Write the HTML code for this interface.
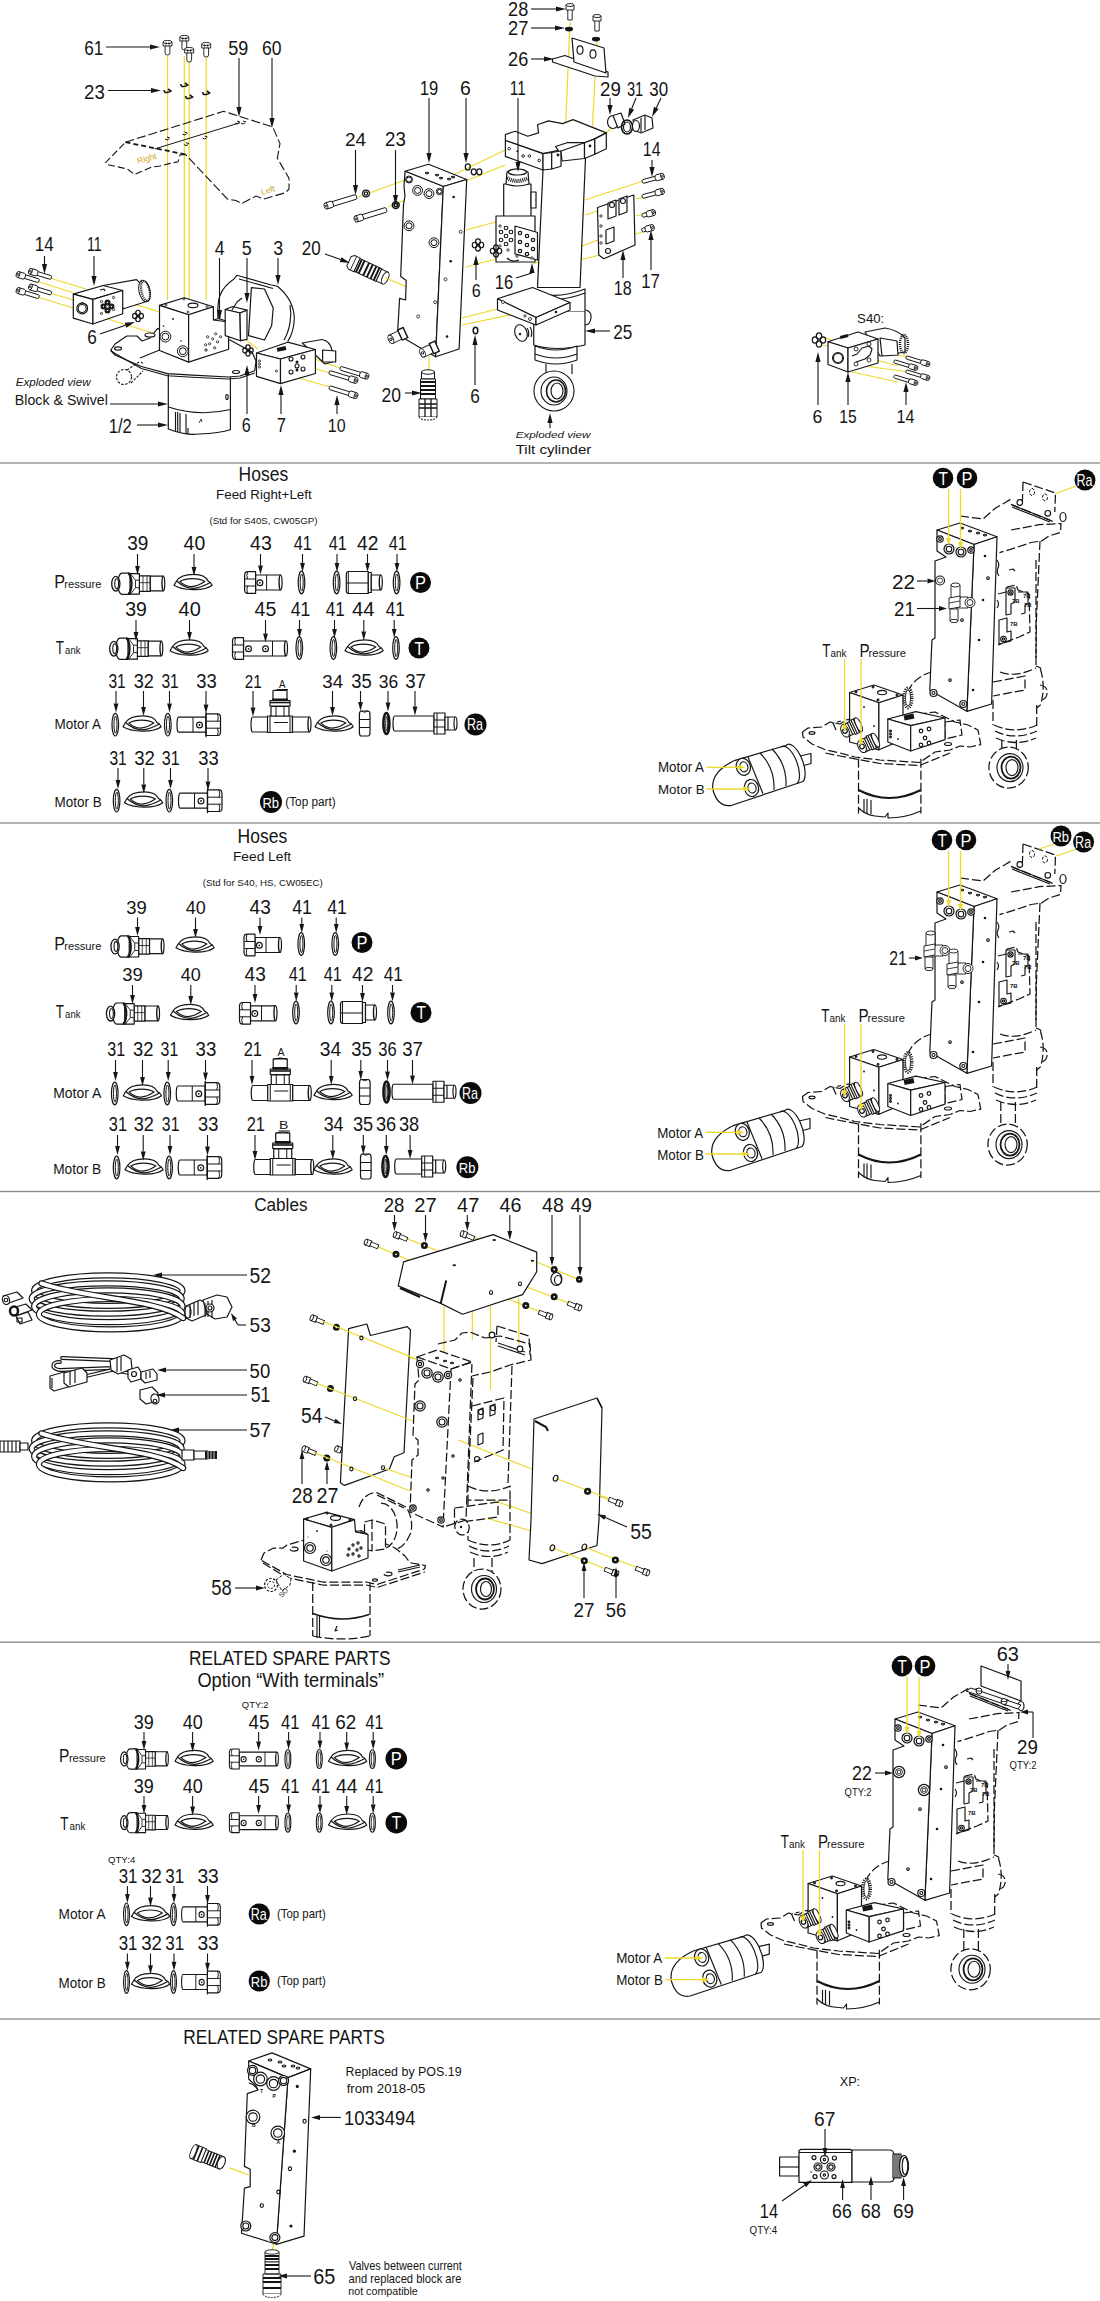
<!DOCTYPE html>
<html><head><meta charset="utf-8"><style>html,body{margin:0;padding:0;background:#fff}svg{display:block}</style></head><body><svg width="1100" height="2301" viewBox="0 0 1100 2301" font-family="Liberation Sans, sans-serif">
<defs>
<g id="f39">
<path d="M27.9,-7.8H38.8V7.6H27.9Z" stroke="#151515" stroke-width="1.2" fill="#fff" stroke-linejoin="round"/>
<path d="M31.5,-7.8V7.6M35.5,-7.8V7.6M28,-1H38.8" stroke="#151515" stroke-width="0.8" fill="none"/>
<path d="M38.8,-7.6H52A1.5,7.5 0 0 1 52,7.2H38.8Z" stroke="#151515" stroke-width="1.2" fill="#fff" stroke-linejoin="round"/>
<path d="M52,-7.6A1.5,7.4 0 0 0 52,7.2" stroke="#151515" stroke-width="1.4" fill="none"/>
<path d="M17.6,-10H27.9V10.5H17.6Z" stroke="#151515" stroke-width="1.2" fill="#fff" stroke-linejoin="round"/>
<path d="M19,-10L24,-3.5H27.9M19,10.5L24,4H27.9M24,-3.5V4" stroke="#151515" stroke-width="0.9" fill="none"/>
<path d="M10.5,-10.6H18.5V10.6H10.5A4.2,10.6 0 0 1 10.5,-10.6Z" stroke="#151515" stroke-width="1.2" fill="#fff" stroke-linejoin="round"/>
<path d="M16.5,-10A3.5,10 0 0 1 16.5,10" stroke="#151515" stroke-width="2.2" fill="none"/>
<ellipse cx="4.3" cy="0" rx="4.1" ry="7.4" stroke="#151515" stroke-width="1.3" fill="#fff" stroke-linejoin="round"/>
<ellipse cx="5.2" cy="0" rx="1.9" ry="4.9" stroke="#151515" stroke-width="1.1" fill="none"/>
</g>
<g id="seal">
<path d="M0,2.8L2.5,-1.5C6,-7 14,-8.2 19.8,-8.2C26,-8.2 32,-6 34,-1.5L36.4,0L38.2,2.8C30,9.2 8,8 0,2.8Z" stroke="#151515" stroke-width="1.2" fill="#fff" stroke-linejoin="round"/>
<path d="M2.5,-1.5C8,3.5 14,5.8 19.5,5.8C26,5.8 31,3 36.4,0" stroke="#151515" stroke-width="1.2" fill="none"/>
<path d="M6,-0.9C12,-4.8 25,-4.8 30.7,-0.9C25,3 22,4.1 17.5,4.1C13,4 9,2 6,-0.9Z" stroke="#151515" stroke-width="1.2" fill="none"/>
</g>
<g id="ring"><ellipse cx="0" cy="0" rx="3.3" ry="11.3" stroke="#151515" stroke-width="1.2" fill="#fff" stroke-linejoin="round"/><ellipse cx="0.2" cy="0" rx="1.5" ry="8.6" stroke="#151515" stroke-width="1" fill="none"/></g>
<g id="ringd"><ellipse cx="0" cy="0" rx="3" ry="10.5" fill="#fff" stroke="#151515" stroke-width="2.6"/><ellipse cx="0.3" cy="0" rx="1" ry="7.5" stroke="#151515" stroke-width="1" fill="none"/></g>
<g id="b43">
<path d="M11,-7.5H36A1.5,7.5 0 0 1 36,7.5H11Z" stroke="#151515" stroke-width="1.2" fill="#fff" stroke-linejoin="round"/>
<path d="M36,-7.5A1.5,7.5 0 0 0 36,7.5" stroke="#151515" stroke-width="1.4" fill="none"/>
<path d="M22,-7.5V7.5" stroke="#151515" stroke-width="1" fill="none"/>
<path d="M3,-10.8H11V10.8H3Q0,10.8 0,7V-7Q0,-10.8 3,-10.8Z" stroke="#151515" stroke-width="1.2" fill="#fff" stroke-linejoin="round"/>
<path d="M0.5,-3.5H11M0.5,3.5H11M3,-10.8Q1.5,-7 3,-3.5M3,3.5Q1.5,7 3,10.8" stroke="#151515" stroke-width="1" fill="none"/>
<circle cx="15.3" cy="0.3" r="2.9" stroke="#151515" stroke-width="1.2" fill="#fff" stroke-linejoin="round"/><circle cx="15.3" cy="0.3" r="0.9" fill="#151515"/>
</g>
<g id="b45">
<path d="M11,-7.5H53.5A1.5,7.5 0 0 1 53.5,7.5H11Z" stroke="#151515" stroke-width="1.2" fill="#fff" stroke-linejoin="round"/>
<path d="M53.5,-7.5A1.5,7.5 0 0 0 53.5,7.5" stroke="#151515" stroke-width="1.4" fill="none"/>
<path d="M40,-7.5V7.5" stroke="#151515" stroke-width="1" fill="none"/>
<path d="M3,-10.8H11V10.8H3Q0,10.8 0,7V-7Q0,-10.8 3,-10.8Z" stroke="#151515" stroke-width="1.2" fill="#fff" stroke-linejoin="round"/>
<path d="M0.5,-3.5H11M0.5,3.5H11M3,-10.8Q1.5,-7 3,-3.5M3,3.5Q1.5,7 3,10.8" stroke="#151515" stroke-width="1" fill="none"/>
<circle cx="16" cy="0.3" r="2.9" stroke="#151515" stroke-width="1.2" fill="#fff" stroke-linejoin="round"/><circle cx="16" cy="0.3" r="0.9" fill="#151515"/>
<circle cx="33" cy="0.3" r="2.9" stroke="#151515" stroke-width="1.2" fill="#fff" stroke-linejoin="round"/><circle cx="33" cy="0.3" r="0.9" fill="#151515"/>
</g>
<g id="b33">
<path d="M1.5,-7.5H29V7.5H1.5A1.5,7.5 0 0 1 1.5,-7.5Z" stroke="#151515" stroke-width="1.2" fill="#fff" stroke-linejoin="round"/>
<path d="M16,-7.5V7.5" stroke="#151515" stroke-width="1" fill="none"/>
<path d="M29,-10.8H40.5Q43.5,-10.8 43.5,-7V7Q43.5,10.8 40.5,10.8H29Z" stroke="#151515" stroke-width="1.2" fill="#fff" stroke-linejoin="round"/>
<path d="M29,-3.5H43M29,3.5H43M40.5,-10.8Q42,-7 40.5,-3.5M40.5,3.5Q42,7 40.5,10.8" stroke="#151515" stroke-width="1" fill="none"/>
<path d="M29,-12.5V12.5" stroke="#151515" stroke-width="1.2" fill="none"/>
<circle cx="22.5" cy="0.3" r="2.9" stroke="#151515" stroke-width="1.2" fill="#fff" stroke-linejoin="round"/><circle cx="22.5" cy="0.3" r="0.9" fill="#151515"/>
</g>
<g id="f42">
<path d="M2,-11H22V11H2Q0,11 0,8V-8Q0,-11 2,-11Z" stroke="#151515" stroke-width="1.2" fill="#fff" stroke-linejoin="round"/>
<path d="M0,0.5H22M2,-11V11" stroke="#151515" stroke-width="1" fill="none"/>
<path d="M22,-10H25V10H22Z" stroke="#151515" stroke-width="1.2" fill="#fff" stroke-linejoin="round"/>
<path d="M25,-7.5H34.5A1.5,7.5 0 0 1 34.5,7.5H25Z" stroke="#151515" stroke-width="1.2" fill="#fff" stroke-linejoin="round"/>
<path d="M34.5,-7.5A1.5,7.5 0 0 0 34.5,7.5" stroke="#151515" stroke-width="1.4" fill="none"/>
</g>
<g id="t21">
<path d="M1.5,-7.5H17V7.5H1.5A1.5,7.5 0 0 1 1.5,-7.5Z" stroke="#151515" stroke-width="1.2" fill="#fff" stroke-linejoin="round"/>
<path d="M16.5,-8.5H41.5V8H16.5Z" stroke="#151515" stroke-width="1.2" fill="#fff" stroke-linejoin="round"/>
<path d="M19,-8.5V8M39,-8.5V8M23,-2H37" stroke="#151515" stroke-width="1" fill="none"/>
<path d="M41.5,-7.5H58.5A1.5,7.5 0 0 1 58.5,7.5H41.5Z" stroke="#151515" stroke-width="1.2" fill="#fff" stroke-linejoin="round"/>
<path d="M58.5,-7.5A1.5,7.5 0 0 0 58.5,7.5" stroke="#151515" stroke-width="1.4" fill="none"/>
<path d="M20,-18H38V-8.5H20Z" stroke="#151515" stroke-width="1.2" fill="#fff" stroke-linejoin="round"/>
<path d="M25,-18V-8.5M33,-18V-8.5" stroke="#151515" stroke-width="1" fill="none"/>
<path d="M19,-24H39V-18.5H19Z" stroke="#151515" stroke-width="1.2" fill="#fff" stroke-linejoin="round"/>
<path d="M19,-22H39" stroke="#151515" stroke-width="1.6" fill="none"/>
<path d="M22,-34H36V-24H22Z" stroke="#151515" stroke-width="1.2" fill="#fff" stroke-linejoin="round"/>
<path d="M22,-34Q29,-36 36,-34" stroke="#151515" stroke-width="1" fill="none"/>
<path d="M21,-26H37V-23.5H21Z" fill="#151515"/>
</g>
<g id="n35">
<path d="M2,-12.5H8.6Q10.6,-12.5 10.6,-9V9Q10.6,12.5 8.6,12.5H2Q0,12.5 0,9V-9Q0,-12.5 2,-12.5Z" stroke="#151515" stroke-width="1.2" fill="#fff" stroke-linejoin="round"/>
<path d="M0,-4H10.6M0,4H10.6" stroke="#151515" stroke-width="1" fill="none"/>
<path d="M2,-12.5Q5,-10 8.6,-12.5" stroke="#151515" stroke-width="1" fill="none"/>
</g>
<g id="p37">
<path d="M1.5,-7.5H41V7.5H1.5A1.5,7.5 0 0 1 1.5,-7.5Z" stroke="#151515" stroke-width="1.2" fill="#fff" stroke-linejoin="round"/>
<path d="M41,-10.5H52V10.5H41Z" stroke="#151515" stroke-width="1.2" fill="#fff" stroke-linejoin="round"/>
<path d="M41,-3.5H52M41,3.5H52M44,-10.5V10.5" stroke="#151515" stroke-width="1" fill="none"/>
<path d="M52,-6.5H62.5A1.5,6.5 0 0 1 62.5,6.5H52Z" stroke="#151515" stroke-width="1.2" fill="#fff" stroke-linejoin="round"/>
<path d="M62.5,-6.5A1.5,6.5 0 0 0 62.5,6.5M55,-6.5V6.5" stroke="#151515" stroke-width="1.2" fill="none"/>
</g>
<g id="p38">
<path d="M1.5,-7.5H27V7.5H1.5A1.5,7.5 0 0 1 1.5,-7.5Z" stroke="#151515" stroke-width="1.2" fill="#fff" stroke-linejoin="round"/>
<path d="M27,-10.5H38V10.5H27Z" stroke="#151515" stroke-width="1.2" fill="#fff" stroke-linejoin="round"/>
<path d="M27,-3.5H38M27,3.5H38M30,-10.5V10.5" stroke="#151515" stroke-width="1" fill="none"/>
<path d="M38,-6.5H49.5A1.5,6.5 0 0 1 49.5,6.5H38Z" stroke="#151515" stroke-width="1.2" fill="#fff" stroke-linejoin="round"/>
<path d="M49.5,-6.5A1.5,6.5 0 0 0 49.5,6.5M41,-6.5V6.5" stroke="#151515" stroke-width="1.2" fill="none"/>
</g>
</defs>
<rect x="0" y="462" width="1100" height="2" fill="#b2b2b2"/>
<rect x="0" y="822" width="1100" height="2" fill="#b2b2b2"/>
<rect x="0" y="1190.8" width="1100" height="1.4" fill="#8a8a8a"/>
<rect x="0" y="1641.4" width="1100" height="1.6" fill="#9a9a9a"/>
<rect x="0" y="2018" width="1100" height="2" fill="#b2b2b2"/>
<path d="M167.5,56L167.5,300" stroke="#ecd92a" stroke-width="1.2" fill="none"/>
<path d="M184.3,56L184.3,300" stroke="#ecd92a" stroke-width="1.2" fill="none"/>
<path d="M189.2,56L189.2,300" stroke="#ecd92a" stroke-width="1.2" fill="none"/>
<path d="M206.2,56L206.2,300" stroke="#ecd92a" stroke-width="1.2" fill="none"/>
<path d="M50,278L86,289" stroke="#ecd92a" stroke-width="1.2" fill="none"/>
<path d="M37.6,281.5L73.3,292.7" stroke="#ecd92a" stroke-width="1.2" fill="none"/>
<path d="M50,293L73.3,300" stroke="#ecd92a" stroke-width="1.2" fill="none"/>
<path d="M37.6,297L73.3,308" stroke="#ecd92a" stroke-width="1.2" fill="none"/>
<path d="M114,298L158.4,311.6" stroke="#ecd92a" stroke-width="1.2" fill="none"/>
<path d="M103,317.5L155.5,334" stroke="#ecd92a" stroke-width="1.2" fill="none"/>
<path d="M218,318L258,349" stroke="#ecd92a" stroke-width="1.2" fill="none"/>
<path d="M216,348L250,357" stroke="#ecd92a" stroke-width="1.2" fill="none"/>
<path d="M290,350L341,368.5" stroke="#ecd92a" stroke-width="1.2" fill="none"/>
<path d="M282,359L330,373" stroke="#ecd92a" stroke-width="1.2" fill="none"/>
<path d="M285,374L330,387" stroke="#ecd92a" stroke-width="1.2" fill="none"/>
<path d="M358,197L405,180" stroke="#ecd92a" stroke-width="1.2" fill="none"/>
<path d="M388,207L405,200" stroke="#ecd92a" stroke-width="1.2" fill="none"/>
<path d="M443,180L505,150" stroke="#ecd92a" stroke-width="1.2" fill="none"/>
<path d="M466,181L505,165" stroke="#ecd92a" stroke-width="1.2" fill="none"/>
<path d="M466,230L503,220" stroke="#ecd92a" stroke-width="1.2" fill="none"/>
<path d="M466,267L503,257" stroke="#ecd92a" stroke-width="1.2" fill="none"/>
<path d="M462,318L533,300" stroke="#ecd92a" stroke-width="1.2" fill="none"/>
<path d="M462,325L533,310" stroke="#ecd92a" stroke-width="1.2" fill="none"/>
<path d="M429,356L429,373" stroke="#ecd92a" stroke-width="1.2" fill="none"/>
<path d="M570,22L565,140" stroke="#ecd92a" stroke-width="1.2" fill="none"/>
<path d="M597,40L592,135" stroke="#ecd92a" stroke-width="1.2" fill="none"/>
<path d="M585,150L612,128" stroke="#ecd92a" stroke-width="1.2" fill="none"/>
<path d="M585,200L643,181" stroke="#ecd92a" stroke-width="1.2" fill="none"/>
<path d="M585,215L598,211" stroke="#ecd92a" stroke-width="1.2" fill="none"/>
<path d="M533,264L598,240" stroke="#ecd92a" stroke-width="1.2" fill="none"/>
<path d="M537,270L600,255" stroke="#ecd92a" stroke-width="1.2" fill="none"/>
<path d="M643,197L636,199" stroke="#ecd92a" stroke-width="1.2" fill="none"/>
<path d="M643,214.5L636,216" stroke="#ecd92a" stroke-width="1.2" fill="none"/>
<path d="M643,231.7L636,234" stroke="#ecd92a" stroke-width="1.2" fill="none"/>
<path d="M823,337L832,340" stroke="#ecd92a" stroke-width="1.2" fill="none"/>
<path d="M823,345L832,347" stroke="#ecd92a" stroke-width="1.2" fill="none"/>
<path d="M857,349L909,357" stroke="#ecd92a" stroke-width="1.2" fill="none"/>
<path d="M862,356L898,366" stroke="#ecd92a" stroke-width="1.2" fill="none"/>
<path d="M857,365L909,372" stroke="#ecd92a" stroke-width="1.2" fill="none"/>
<path d="M852,372L898,382" stroke="#ecd92a" stroke-width="1.2" fill="none"/>
<path d="M125.5,142.2L223.6,111.3L272.7,126.9L280,143.6L277.3,158.2L289,178.2L289,189L285.5,192.7L263.6,199L256,196L241.8,203.6L236,200.5L227.3,199L185.5,154.5" stroke="#151515" stroke-width="1.1" fill="none" stroke-dasharray="9,3"/>
<path d="M185.5,154.5L180,155L178,161.8L169,163.6L160,166L152,167L140,172L134.5,174.5L130,171L127.3,169L107.3,164.5L105.5,162.7L125.5,142.2" stroke="#151515" stroke-width="1.1" fill="none" stroke-dasharray="7,3"/>
<path d="M125.5,142.2L185.5,154.5" stroke="#151515" stroke-width="1.8" fill="none" stroke-dasharray="5,3"/>
<path d="M154.5,149L240,122.7" stroke="#151515" stroke-width="1" fill="none"/>
<path d="M165,139q2,2 4,0m-2,-2l3,1" stroke="#151515" stroke-width="1" fill="none"/>
<path d="M182.5,134q2,2 4,0m-2,-2l3,1" stroke="#151515" stroke-width="1" fill="none"/>
<path d="M184,144.6q2,2 4,0m-2,-2l3,1" stroke="#151515" stroke-width="1" fill="none"/>
<path d="M202.5,138q2,2 4,0m-2,-2l3,1" stroke="#151515" stroke-width="1" fill="none"/>
<path d="M235,123q2,2 4,0m-2,-2l3,1" stroke="#151515" stroke-width="1" fill="none"/>
<path d="M241,123q2,2 4,0m-2,-2l3,1" stroke="#151515" stroke-width="1" fill="none"/>
<text transform="translate(138,164) rotate(-16)" font-size="8.5" fill="#c9a824">Right</text>
<text transform="translate(262,195) rotate(-16)" font-size="8.5" fill="#c9a824">Left</text>
<g transform="translate(167.5,45)" fill="#fff" stroke="#151515" stroke-width="0.9"><path d="M-2.4,1V8a2.4,2 0 0 0 4.8,0V1"/><path d="M-4.5,-3h9v4h-9z"/><ellipse cx="0" cy="-3" rx="4.5" ry="1.6"/><path d="M-1.5,-3v4M1.5,-3v4" stroke-width="0.6"/></g>
<g transform="translate(184.3,40)" fill="#fff" stroke="#151515" stroke-width="0.9"><path d="M-2.4,1V8a2.4,2 0 0 0 4.8,0V1"/><path d="M-4.5,-3h9v4h-9z"/><ellipse cx="0" cy="-3" rx="4.5" ry="1.6"/><path d="M-1.5,-3v4M1.5,-3v4" stroke-width="0.6"/></g>
<g transform="translate(189.2,52)" fill="#fff" stroke="#151515" stroke-width="0.9"><path d="M-2.4,1V8a2.4,2 0 0 0 4.8,0V1"/><path d="M-4.5,-3h9v4h-9z"/><ellipse cx="0" cy="-3" rx="4.5" ry="1.6"/><path d="M-1.5,-3v4M1.5,-3v4" stroke-width="0.6"/></g>
<g transform="translate(206.2,47)" fill="#fff" stroke="#151515" stroke-width="0.9"><path d="M-2.4,1V8a2.4,2 0 0 0 4.8,0V1"/><path d="M-4.5,-3h9v4h-9z"/><ellipse cx="0" cy="-3" rx="4.5" ry="1.6"/><path d="M-1.5,-3v4M1.5,-3v4" stroke-width="0.6"/></g>
<path d="M164.0,90q0,3 3,2.5q3,-0.5 4,-1.5l-3,-2" stroke="#151515" stroke-width="1.6" fill="none"/>
<path d="M180.8,84q0,3 3,2.5q3,-0.5 4,-1.5l-3,-2" stroke="#151515" stroke-width="1.6" fill="none"/>
<path d="M185.7,96q0,3 3,2.5q3,-0.5 4,-1.5l-3,-2" stroke="#151515" stroke-width="1.6" fill="none"/>
<path d="M202.7,92q0,3 3,2.5q3,-0.5 4,-1.5l-3,-2" stroke="#151515" stroke-width="1.6" fill="none"/>
<path d="M103,285.5L136.5,279.6L146,289L146,300L145,302L123.5,308.7Z" stroke="#151515" stroke-width="1.2" fill="#fff" stroke-linejoin="round"/>
<ellipse cx="144.5" cy="291" rx="5.5" ry="11" stroke="#151515" stroke-width="1.0" fill="#fff" transform="rotate(-12 144.5 291)"/>
<ellipse cx="145.5" cy="291" rx="4" ry="10" stroke="#151515" stroke-width="2.2" stroke-dasharray="1,1" fill="none" transform="rotate(-12 145.5 291)"/>
<path d="M73.3,294.2L103.1,285.5L122.7,290.5L92.9,299.3Z" stroke="#151515" stroke-width="1.2" fill="#fff" stroke-linejoin="round"/>
<path d="M73.3,294.2L92.9,299.3L92.9,324L73.3,318.2Z" stroke="#151515" stroke-width="1.2" fill="#fff" stroke-linejoin="round"/>
<path d="M92.9,299.3L122.7,290.5L122.7,313.8L92.9,324Z" stroke="#151515" stroke-width="1.2" fill="#fff" stroke-linejoin="round"/>
<polygon points="82.4,302.4 87,305 87,310 82.4,313.3 77.8,310 77.8,305" stroke="#151515" stroke-width="1" fill="#fff"/>
<circle cx="82.2" cy="308.5" r="5.4" stroke="#151515" stroke-width="1.1" fill="#fff"/>
<circle cx="82.2" cy="308.5" r="4" stroke="#151515" stroke-width="1.1" fill="none"/>
<circle cx="107.5" cy="302.5" r="2.4" stroke="#151515" stroke-width="1.2" fill="#fff"/>
<circle cx="107.5" cy="302.5" r="1.3" stroke="#151515" stroke-width="1.2" fill="none"/>
<circle cx="103.5" cy="306.5" r="2.4" stroke="#151515" stroke-width="1.2" fill="#fff"/>
<circle cx="103.5" cy="306.5" r="1.3" stroke="#151515" stroke-width="1.2" fill="none"/>
<circle cx="111.5" cy="306.5" r="2.4" stroke="#151515" stroke-width="1.2" fill="#fff"/>
<circle cx="111.5" cy="306.5" r="1.3" stroke="#151515" stroke-width="1.2" fill="none"/>
<circle cx="107.5" cy="310.5" r="2.4" stroke="#151515" stroke-width="1.2" fill="#fff"/>
<circle cx="107.5" cy="310.5" r="1.3" stroke="#151515" stroke-width="1.2" fill="none"/>
<circle cx="101.5" cy="301.5" r="1.1" stroke="#151515" stroke-width="0.9" fill="#fff"/>
<circle cx="113.5" cy="297.5" r="1.1" stroke="#151515" stroke-width="0.9" fill="#fff"/>
<circle cx="101.5" cy="313.5" r="1.1" stroke="#151515" stroke-width="0.9" fill="#fff"/>
<circle cx="113.5" cy="309.5" r="1.1" stroke="#151515" stroke-width="0.9" fill="#fff"/>
<path d="M100,290l4,-1l1,2" stroke="#151515" stroke-width="1.15" fill="none" stroke-linejoin="round"/>
<ellipse cx="138" cy="312.9" rx="2.3" ry="2.6449999999999996" stroke="#151515" stroke-width="1.2" fill="none"/>
<ellipse cx="134.9" cy="316" rx="2.3" ry="2.6449999999999996" stroke="#151515" stroke-width="1.2" fill="none"/>
<ellipse cx="141.1" cy="316" rx="2.3" ry="2.6449999999999996" stroke="#151515" stroke-width="1.2" fill="none"/>
<ellipse cx="138" cy="319.1" rx="2.3" ry="2.6449999999999996" stroke="#151515" stroke-width="1.2" fill="none"/>
<g transform="translate(30.4,271.3) rotate(17)" fill="#fff" stroke="#151515" stroke-width="0.9"><path d="M4,-1.9H21a1,1.9 0 0 1 0,3.8H4Z"/><path d="M0,-3.0H6a1.6,3.0 0 0 1 0,6.0H0Z"/><ellipse cx="0" cy="0" rx="1.8" ry="3.0"/><circle cx="0" cy="0" r="0.9"/></g>
<g transform="translate(18,274.5) rotate(17)" fill="#fff" stroke="#151515" stroke-width="0.9"><path d="M4,-1.9H21a1,1.9 0 0 1 0,3.8H4Z"/><path d="M0,-3.0H6a1.6,3.0 0 0 1 0,6.0H0Z"/><ellipse cx="0" cy="0" rx="1.8" ry="3.0"/><circle cx="0" cy="0" r="0.9"/></g>
<g transform="translate(30.4,286.9) rotate(17)" fill="#fff" stroke="#151515" stroke-width="0.9"><path d="M4,-1.9H21a1,1.9 0 0 1 0,3.8H4Z"/><path d="M0,-3.0H6a1.6,3.0 0 0 1 0,6.0H0Z"/><ellipse cx="0" cy="0" rx="1.8" ry="3.0"/><circle cx="0" cy="0" r="0.9"/></g>
<g transform="translate(18,290.5) rotate(17)" fill="#fff" stroke="#151515" stroke-width="0.9"><path d="M4,-1.9H21a1,1.9 0 0 1 0,3.8H4Z"/><path d="M0,-3.0H6a1.6,3.0 0 0 1 0,6.0H0Z"/><ellipse cx="0" cy="0" rx="1.8" ry="3.0"/><circle cx="0" cy="0" r="0.9"/></g>
<path d="M168.3,373.7V429Q186.5,436 199,434Q220,433 230.4,429.7V373.7" stroke="#151515" stroke-width="1.2" fill="#fff" stroke-linejoin="round"/>
<path d="M168.3,407Q199.5,417 230.4,409.5" stroke="#151515" stroke-width="1.15" fill="none" stroke-linejoin="round"/>
<path d="M175.5,412V431M177.7,412V432M180,413V433M186,414V434M188,428V434" stroke="#151515" stroke-width="1.15" fill="none" stroke-linejoin="round"/>
<ellipse cx="227" cy="397" rx="1.2" ry="2.5" stroke="#151515" stroke-width="1.15" fill="#fff"/>
<path d="M199,423l2,-4l1,3" stroke="#151515" stroke-width="0.8" fill="none"/>
<path d="M111.5,349L115,344L126.8,336L137,336L142,341L150,338L157.4,328.6L230,340L252,352L256,361L254.8,370.8L240,376L228.6,377L192.3,375.2L167.5,373.7L141.4,366.5L115,355L110.8,350.5Z" stroke="#151515" stroke-width="1.2" fill="#fff" stroke-linejoin="round"/>
<path d="M110.8,350.5L115,353.5L141.4,368.5L167.5,375.7L192.3,377.2L228.6,379L240,378L254.8,373" stroke="#151515" stroke-width="1.15" fill="none" stroke-linejoin="round"/>
<ellipse cx="118" cy="348.5" rx="3.5" ry="1.6" stroke="#151515" stroke-width="1.15" fill="#fff"/>
<ellipse cx="150" cy="335" rx="5" ry="2" stroke="#151515" stroke-width="1.15" fill="#fff"/>
<ellipse cx="236" cy="372" rx="3.5" ry="1.5" stroke="#151515" stroke-width="1.15" fill="#fff"/>
<circle cx="124" cy="377" r="7.5" stroke="#151515" stroke-width="1.1" fill="#fff" stroke-dasharray="2.5,1.5"/>
<path d="M127,370L139,362M131,383L143,371M141,362l3,2" stroke="#151515" stroke-width="1.1" fill="none" stroke-dasharray="2.5,1.5"/>
<path d="M140,358L162,349" stroke="#151515" stroke-width="1.15" fill="none" stroke-linejoin="round"/>
<path d="M159.5,305.4L184.3,297.8L213.4,306.8L188.6,314.8Z" stroke="#151515" stroke-width="1.2" fill="#fff" stroke-linejoin="round"/>
<path d="M159.5,305.4L188.6,314.8L188.6,362.1L159.5,350.5Z" stroke="#151515" stroke-width="1.2" fill="#fff" stroke-linejoin="round"/>
<path d="M188.6,314.8L213.4,306.8L213.4,320L228.6,322L228.6,349.2L188.6,362.1Z" stroke="#151515" stroke-width="1.2" fill="#fff" stroke-linejoin="round"/>
<path d="M213.4,320L219,318.5L228.6,322" stroke="#151515" stroke-width="1.15" fill="none" stroke-linejoin="round"/>
<ellipse cx="193" cy="305.4" rx="5" ry="2.2" stroke="#151515" stroke-width="1.15" fill="#fff"/>
<circle cx="166" cy="305" r="1" stroke="#151515" stroke-width="0.8" fill="#fff"/>
<circle cx="184" cy="299" r="1" stroke="#151515" stroke-width="0.8" fill="#fff"/>
<circle cx="207" cy="306.5" r="1" stroke="#151515" stroke-width="0.8" fill="#fff"/>
<circle cx="188" cy="312" r="1" stroke="#151515" stroke-width="0.8" fill="#fff"/>
<circle cx="165.4" cy="336.6" r="5.4" stroke="#151515" stroke-width="1.0" fill="#fff"/>
<circle cx="165.4" cy="336.6" r="3.4" stroke="#151515" stroke-width="1.0" fill="none"/>
<circle cx="182.8" cy="351.2" r="5.4" stroke="#151515" stroke-width="1.0" fill="#fff"/>
<circle cx="182.8" cy="351.2" r="3.4" stroke="#151515" stroke-width="1.0" fill="none"/>
<circle cx="173" cy="319" r="0.9" fill="#151515"/>
<circle cx="163.5" cy="326" r="0.8" fill="#151515"/>
<circle cx="181" cy="341" r="0.8" fill="#151515"/>
<circle cx="212.6" cy="338.8" r="1.1" stroke="#151515" stroke-width="0.8" fill="#fff"/>
<circle cx="207.6" cy="336.8" r="1.1" stroke="#151515" stroke-width="0.8" fill="#fff"/>
<circle cx="215.6" cy="333.8" r="1.1" stroke="#151515" stroke-width="0.8" fill="#fff"/>
<circle cx="209.6" cy="343.8" r="1.1" stroke="#151515" stroke-width="0.8" fill="#fff"/>
<circle cx="217.6" cy="341.8" r="1.1" stroke="#151515" stroke-width="0.8" fill="#fff"/>
<circle cx="205.6" cy="344.8" r="1.1" stroke="#151515" stroke-width="0.8" fill="#fff"/>
<circle cx="214.6" cy="347.8" r="1.1" stroke="#151515" stroke-width="0.8" fill="#fff"/>
<circle cx="220.6" cy="336.8" r="1.1" stroke="#151515" stroke-width="0.8" fill="#fff"/>
<circle cx="219" cy="317" r="1.2" stroke="#151515" stroke-width="0.9" fill="#fff"/>
<circle cx="206" cy="350" r="1.2" stroke="#151515" stroke-width="0.9" fill="#fff"/>
<path d="M218,318C217,300 219,289 234,279L236.8,275.3L270.3,284.7L277.5,286.2C288,295 294,306 294.3,318.2C294,330 290,338 287.7,341.5" stroke="#151515" stroke-width="1.15" fill="none" stroke-linejoin="round"/>
<path d="M239,279L273,288.5" stroke="#151515" stroke-width="1.15" fill="none" stroke-linejoin="round"/>
<path d="M251.4,287.6L264.5,289L273.2,308L271.7,325.5L264.5,340L248.5,335.6Z" stroke="#151515" stroke-width="1.2" fill="#fff" stroke-linejoin="round"/>
<path d="M284,340C290,330 292,316 290,305" stroke="#151515" stroke-width="1.15" fill="none" stroke-linejoin="round"/>
<path d="M225.2,309.5L232.5,306.5L247,310.2L240,313Z" stroke="#151515" stroke-width="1.2" fill="#fff" stroke-linejoin="round"/>
<path d="M225.2,309.5L240,313L240.5,340.7L225.2,335.6Z" stroke="#151515" stroke-width="1.2" fill="#fff" stroke-linejoin="round"/>
<path d="M240,313L247,310.2L247,339.3L240.5,340.7Z" stroke="#151515" stroke-width="1.2" fill="#fff" stroke-linejoin="round"/>
<path d="M232,310l5,-8l5,-4" stroke="#151515" stroke-width="1.15" fill="none" stroke-linejoin="round"/>
<ellipse cx="248" cy="347.5" rx="2.2" ry="2.53" stroke="#151515" stroke-width="1.2" fill="none"/>
<ellipse cx="245" cy="350.5" rx="2.2" ry="2.53" stroke="#151515" stroke-width="1.2" fill="none"/>
<ellipse cx="251" cy="350.5" rx="2.2" ry="2.53" stroke="#151515" stroke-width="1.2" fill="none"/>
<ellipse cx="248" cy="353.5" rx="2.2" ry="2.53" stroke="#151515" stroke-width="1.2" fill="none"/>
<path d="M302.3,343L322,339.5Q330,341 332,350L332,362L325,364Z" stroke="#151515" stroke-width="1.2" fill="#fff" stroke-linejoin="round"/>
<path d="M322.6,350L335.7,351L335.7,361.8L322.6,362Z" stroke="#151515" stroke-width="1.2" fill="#fff" stroke-linejoin="round"/>
<path d="M256.5,353L287.7,342.2L315.4,349.5L280.5,359Z" stroke="#151515" stroke-width="1.2" fill="#fff" stroke-linejoin="round"/>
<path d="M256.5,353L280.5,359L280.5,383.6L256.5,376.4Z" stroke="#151515" stroke-width="1.2" fill="#fff" stroke-linejoin="round"/>
<path d="M280.5,359L315.4,349.5L315.4,373.5L280.5,383.6Z" stroke="#151515" stroke-width="1.2" fill="#fff" stroke-linejoin="round"/>
<rect x="277" y="347" width="9" height="4" fill="#151515" transform="rotate(-12 281 349)"/>
<circle cx="291" cy="359" r="2" stroke="#151515" stroke-width="1.1" fill="#fff"/>
<circle cx="303" cy="357" r="2" stroke="#151515" stroke-width="1.1" fill="#fff"/>
<circle cx="297" cy="366" r="2" stroke="#151515" stroke-width="1.1" fill="#fff"/>
<circle cx="291" cy="372" r="2" stroke="#151515" stroke-width="1.1" fill="#fff"/>
<circle cx="303" cy="369" r="2" stroke="#151515" stroke-width="1.1" fill="#fff"/>
<circle cx="297" cy="362" r="1.5" fill="#151515"/>
<circle cx="297" cy="370" r="1.5" fill="#151515"/>
<circle cx="259.5" cy="361" r="1.1" stroke="#151515" stroke-width="0.8" fill="#fff"/>
<circle cx="259.5" cy="364" r="1.1" stroke="#151515" stroke-width="0.8" fill="#fff"/>
<circle cx="259.5" cy="367" r="1.1" stroke="#151515" stroke-width="0.8" fill="#fff"/>
<circle cx="276.5" cy="371" r="1" stroke="#151515" stroke-width="0.8" fill="#fff"/>
<g transform="translate(367,376.3) rotate(-163)" fill="#fff" stroke="#151515" stroke-width="0.9"><path d="M4,-1.9H27a1,1.9 0 0 1 0,3.8H4Z"/><path d="M0,-3.0H6a1.6,3.0 0 0 1 0,6.0H0Z"/><ellipse cx="0" cy="0" rx="1.8" ry="3.0"/><circle cx="0" cy="0" r="0.9"/></g>
<g transform="translate(356,380.5) rotate(-163)" fill="#fff" stroke="#151515" stroke-width="0.9"><path d="M4,-1.9H27a1,1.9 0 0 1 0,3.8H4Z"/><path d="M0,-3.0H6a1.6,3.0 0 0 1 0,6.0H0Z"/><ellipse cx="0" cy="0" rx="1.8" ry="3.0"/><circle cx="0" cy="0" r="0.9"/></g>
<g transform="translate(356,395.7) rotate(-163)" fill="#fff" stroke="#151515" stroke-width="0.9"><path d="M4,-1.9H27a1,1.9 0 0 1 0,3.8H4Z"/><path d="M0,-3.0H6a1.6,3.0 0 0 1 0,6.0H0Z"/><ellipse cx="0" cy="0" rx="1.8" ry="3.0"/><circle cx="0" cy="0" r="0.9"/></g>
<g transform="translate(368,270) rotate(25)" stroke="#151515" fill="#fff" stroke-width="1"><path d="M-21,-5L-18,-7.5h6v15h-6L-21,5z"/><path d="M-16,-7.5v15" stroke-width="0.8"/><path d="M-12,-7h24v14h-24z"/><path d="M-10,-7v14M-7,-7v14M-2,-7v14M2,-7v14M6,-7v14M9.5,-7v14" stroke-width="2"/><path d="M12,-6.5h7v13h-7z"/><ellipse cx="19" cy="0" rx="3" ry="6.5"/></g>
<path d="M385.5,277.7L405.5,286.4" stroke="#ecd92a" stroke-width="1.2" fill="none"/>
<g transform="translate(428,396)" stroke="#151515" fill="#fff" stroke-width="1"><path d="M-6.5,-24h13v7h-13z"/><ellipse cx="0" cy="-24" rx="6.5" ry="2.2"/><path d="M-7.5,-17h15v20h-15z"/><path d="M-7.5,-14h15M-7.5,-10h15M-7.5,-6h15M-7.5,-2h15" stroke-width="2"/><path d="M-9,3h18v18h-18z"/><path d="M-9,8h18M-9,12h18M-3,3v18M3,3v18" stroke-width="1.3"/><path d="M-9,21a9,3 0 0 0 18,0" stroke-dasharray="2,1"/></g>
<g transform="translate(326,206) rotate(-17)" fill="#fff" stroke="#151515" stroke-width="0.9"><path d="M4,-2.4H31a1,2.4 0 0 1 0,4.8H4Z"/><path d="M0,-3.2H6a1.6,3.2 0 0 1 0,6.4H0Z"/><ellipse cx="0" cy="0" rx="1.8" ry="3.2"/><circle cx="0" cy="0" r="0.9"/></g>
<g transform="translate(356,219) rotate(-17)" fill="#fff" stroke="#151515" stroke-width="0.9"><path d="M4,-2.4H31a1,2.4 0 0 1 0,4.8H4Z"/><path d="M0,-3.2H6a1.6,3.2 0 0 1 0,6.4H0Z"/><ellipse cx="0" cy="0" rx="1.8" ry="3.2"/><circle cx="0" cy="0" r="0.9"/></g>
<circle cx="366" cy="193.5" r="3.4" stroke="#151515" stroke-width="1.2" fill="#fff"/>
<circle cx="366" cy="193.5" r="1.7" stroke="#151515" stroke-width="1.2" fill="none"/>
<circle cx="395.8" cy="205.1" r="3.4" stroke="#151515" stroke-width="1.6" fill="#fff"/>
<circle cx="395.8" cy="205.1" r="1.7" stroke="#151515" stroke-width="1.6" fill="none"/>
<path d="M405.1,171.3L428.5,164.2L466.7,179.5L443.3,186.5Z" stroke="#151515" stroke-width="1.2" fill="#fff" stroke-linejoin="round"/>
<path d="M405.1,171.3L443.3,186.5L435.6,356.7L397.5,334.4L399.6,298.4L405.6,300L406.2,280.4L400.7,276.5L403.5,204.5L405,196L404,186Z" stroke="#151515" stroke-width="1.2" fill="#fff" stroke-linejoin="round"/>
<path d="M443.3,186.5L466.7,179.5L459.1,349L435.6,356.7Z" stroke="#151515" stroke-width="1.2" fill="#fff" stroke-linejoin="round"/>
<ellipse cx="427" cy="173" rx="1.5" ry="0.8" stroke="#151515" stroke-width="1.15" fill="#fff"/>
<ellipse cx="437" cy="175" rx="1.5" ry="0.8" stroke="#151515" stroke-width="1.15" fill="#fff"/>
<ellipse cx="441" cy="178" rx="1.5" ry="0.8" stroke="#151515" stroke-width="1.15" fill="#fff"/>
<ellipse cx="449" cy="179" rx="1.5" ry="0.8" stroke="#151515" stroke-width="1.15" fill="#fff"/>
<ellipse cx="453" cy="177" rx="1.5" ry="0.8" stroke="#151515" stroke-width="1.15" fill="#fff"/>
<circle cx="417.6" cy="190.4" r="4.9" stroke="#151515" stroke-width="1.0" fill="#fff"/>
<circle cx="417.6" cy="190.4" r="3.0" stroke="#151515" stroke-width="1.0" fill="none"/>
<circle cx="429" cy="193.6" r="4.9" stroke="#151515" stroke-width="1.0" fill="#fff"/>
<circle cx="429" cy="193.6" r="3.0" stroke="#151515" stroke-width="1.0" fill="none"/>
<circle cx="409" cy="179.5" r="3.5" stroke="#151515" stroke-width="1.0" fill="#fff"/>
<circle cx="409" cy="179.5" r="2.5" stroke="#151515" stroke-width="1.0" fill="none"/>
<circle cx="439.5" cy="191.5" r="3.2" stroke="#151515" stroke-width="1.0" fill="#fff"/>
<circle cx="439.5" cy="191.5" r="2" stroke="#151515" stroke-width="1.0" fill="none"/>
<circle cx="409" cy="225.8" r="4.9" stroke="#151515" stroke-width="1.0" fill="#fff"/>
<circle cx="409" cy="225.8" r="3.0" stroke="#151515" stroke-width="1.0" fill="none"/>
<circle cx="434" cy="242.7" r="4.9" stroke="#151515" stroke-width="1.0" fill="#fff"/>
<circle cx="434" cy="242.7" r="3.0" stroke="#151515" stroke-width="1.0" fill="none"/>
<circle cx="453.6" cy="197" r="1.3" fill="#151515"/>
<circle cx="450.7" cy="261.3" r="1.3" fill="#151515"/>
<circle cx="447" cy="336.5" r="1.3" fill="#151515"/>
<circle cx="460.7" cy="231.8" r="1.5" stroke="#151515" stroke-width="0.8" fill="#fff"/>
<circle cx="445.5" cy="279.3" r="1.5" stroke="#151515" stroke-width="0.8" fill="#fff"/>
<circle cx="435.1" cy="302.2" r="1.5" stroke="#151515" stroke-width="0.8" fill="#fff"/>
<circle cx="418.2" cy="316.4" r="1.5" stroke="#151515" stroke-width="0.8" fill="#fff"/>
<ellipse cx="467.8" cy="166.9" rx="2.5" ry="3" stroke="#151515" stroke-width="1.3" fill="none"/>
<ellipse cx="473.8" cy="171.8" rx="2.5" ry="3" stroke="#151515" stroke-width="1.3" fill="none"/>
<ellipse cx="479.3" cy="171.8" rx="2.5" ry="3" stroke="#151515" stroke-width="1.3" fill="none"/>
<g transform="translate(390.9,339.3) rotate(-25)" stroke="#151515" fill="#fff" stroke-width="0.9"><path d="M0,-4.5h10v9h-10z"/><path d="M10,-5.5h6v11h-6z" stroke-width="1.4"/><ellipse cx="0" cy="0" rx="2.5" ry="4.5"/><circle cx="0" cy="0" r="1.2"/></g>
<g transform="translate(422.5,352.9) rotate(-25)" stroke="#151515" fill="#fff" stroke-width="0.9"><path d="M0,-4.5h10v9h-10z"/><path d="M10,-5.5h6v11h-6z" stroke-width="1.4"/><ellipse cx="0" cy="0" rx="2.5" ry="4.5"/><circle cx="0" cy="0" r="1.2"/></g>
<path d="M543,170L537.5,287.5L580,287.5L585.5,158" stroke="#151515" stroke-width="1.2" fill="#fff" stroke-linejoin="round"/>
<path d="M533.75,292Q557,300 585,289L585,312L533.75,312Z" stroke="#151515" stroke-width="1.2" fill="#fff" stroke-linejoin="round"/>
<path d="M533.75,296Q557,304 585,293" stroke="#151515" stroke-width="1.15" fill="none" stroke-linejoin="round"/>
<path d="M533.75,312L533.75,345Q556,352 585,345L585,312" stroke="#151515" stroke-width="1.2" fill="#fff" stroke-linejoin="round"/>
<ellipse cx="521" cy="333" rx="6" ry="8.5" stroke="#151515" stroke-width="1.15" fill="#fff" transform="rotate(-20 521 333)"/>
<circle cx="520" cy="334" r="1.2" fill="#151515"/>
<path d="M586,310q6,2 5,8q-1,7 -6,7" stroke="#151515" stroke-width="1.15" fill="none" stroke-linejoin="round"/>
<path d="M527,328q3,4 1,9M530,327q3,5 1,10" stroke="#151515" stroke-width="1.15" fill="none" stroke-linejoin="round"/>
<path d="M497.5,298.75L532.5,287.5L570,302.5L536,317.5Z" stroke="#151515" stroke-width="1.2" fill="#fff" stroke-linejoin="round"/>
<path d="M497.5,298.75L536,317.5L536,325L497.5,310Z" stroke="#151515" stroke-width="1.2" fill="#fff" stroke-linejoin="round"/>
<path d="M536,317.5L570,302.5L570,310L536,325Z" stroke="#151515" stroke-width="1.2" fill="#fff" stroke-linejoin="round"/>
<circle cx="503" cy="302" r="1.5" stroke="#151515" stroke-width="0.8" fill="#fff"/>
<circle cx="530" cy="319" r="1.5" stroke="#151515" stroke-width="0.8" fill="#fff"/>
<circle cx="525" cy="316" r="1.2" stroke="#151515" stroke-width="0.8" fill="#fff"/>
<circle cx="556" cy="312" r="1.3" fill="#151515"/>
<path d="M535,346Q556,354 577,346V354Q556,362 535,354Z" stroke="#151515" stroke-width="1.2" fill="#fff" stroke-linejoin="round"/>
<path d="M535,354V360Q556,368 577,360V354" stroke="#151515" stroke-width="1.15" fill="none" stroke-linejoin="round"/>
<path d="M546,364V374M572,364V374" stroke="#151515" stroke-width="1.15" fill="none" stroke-linejoin="round"/>
<circle cx="554" cy="391" r="20" stroke="#151515" stroke-width="1.1" fill="#fff"/>
<ellipse cx="554" cy="391" rx="13" ry="14" stroke="#151515" stroke-width="1.15" fill="none"/>
<ellipse cx="556" cy="391" rx="9.5" ry="11" stroke="#151515" stroke-width="1.6" fill="none"/>
<ellipse cx="557" cy="391" rx="6" ry="8" stroke="#151515" stroke-width="1.15" fill="none"/>
<path d="M505.4,134.5L515.2,131.3L527.7,136.2L538.6,132.9L537.5,124.7L548.5,120.9L562.6,123.6L573,119.6L606.3,132.9L594.8,138.9L584.5,142.7L567,142.7L555.5,146.5L558.3,150.4L543,153.6L505.4,140.5Z" stroke="#151515" stroke-width="1.2" fill="#fff" stroke-linejoin="round"/>
<path d="M505.4,140.5L543,153.6L543,170L505.4,156.4Z" stroke="#151515" stroke-width="1.2" fill="#fff" stroke-linejoin="round"/>
<path d="M543,153.6L551.7,152.5L551.7,169L543,170Z" stroke="#151515" stroke-width="1.2" fill="#fff" stroke-linejoin="round"/>
<path d="M551.7,152.5L561,151L561,166.2L551.7,169Z" stroke="#151515" stroke-width="1.2" fill="#fff" stroke-linejoin="round"/>
<path d="M561,151L584.5,142.7L584.5,158.5L562,161Z" stroke="#151515" stroke-width="1.2" fill="#fff" stroke-linejoin="round"/>
<path d="M584.5,142.7L594.8,138.9L594.8,154.2L584.5,158.5Z" stroke="#151515" stroke-width="1.2" fill="#fff" stroke-linejoin="round"/>
<path d="M594.8,138.9L606.3,132.9L606.3,148.7L594.8,154.2Z" stroke="#151515" stroke-width="1.2" fill="#fff" stroke-linejoin="round"/>
<circle cx="509.2" cy="148.7" r="1.3" stroke="#151515" stroke-width="0.9" fill="#fff"/>
<circle cx="523.1" cy="156" r="1.3" stroke="#151515" stroke-width="0.9" fill="#fff"/>
<circle cx="529.4" cy="156" r="1.3" stroke="#151515" stroke-width="0.9" fill="#fff"/>
<circle cx="539.2" cy="160.4" r="1.3" stroke="#151515" stroke-width="0.9" fill="#fff"/>
<circle cx="517.4" cy="151.2" r="1" fill="#151515"/>
<circle cx="558" cy="155" r="1.4" fill="#151515"/>
<circle cx="590" cy="146" r="1.4" fill="#151515"/>
<path d="M503.7,184L531,184L531,218L503.7,218Z" stroke="#151515" stroke-width="1.2" fill="#fff" stroke-linejoin="round"/>
<path d="M507,172Q517,166 528,172L529,184Q517,188 506,184Z" stroke="#151515" stroke-width="1.2" fill="#fff" stroke-linejoin="round"/>
<path d="M507,178Q517,184 528,178" stroke="#151515" stroke-width="4" fill="none" stroke-dasharray="1,1"/>
<ellipse cx="517.4" cy="172" rx="9" ry="3" stroke="#151515" stroke-width="1.15" fill="#fff"/>
<path d="M531,192h5v16h-5z" stroke="#151515" stroke-width="1.2" fill="#fff" stroke-linejoin="round"/>
<path d="M496,216L535,216L535,262L496,262Z" stroke="#151515" stroke-width="1.2" fill="#fff" stroke-linejoin="round"/>
<path d="M515,226L537.5,232.5L537.5,260L515,253.8Z" stroke="#151515" stroke-width="1.2" fill="#fff" stroke-linejoin="round"/>
<circle cx="520" cy="233" r="1.7" stroke="#151515" stroke-width="1.2" fill="#fff"/>
<circle cx="527" cy="236" r="1.7" stroke="#151515" stroke-width="1.2" fill="#fff"/>
<circle cx="520" cy="242" r="1.7" stroke="#151515" stroke-width="1.2" fill="#fff"/>
<circle cx="527" cy="245" r="1.7" stroke="#151515" stroke-width="1.2" fill="#fff"/>
<circle cx="520" cy="251" r="1.7" stroke="#151515" stroke-width="1.2" fill="#fff"/>
<circle cx="527" cy="254" r="1.7" stroke="#151515" stroke-width="1.2" fill="#fff"/>
<circle cx="533" cy="240" r="1.7" stroke="#151515" stroke-width="1.2" fill="#fff"/>
<circle cx="533" cy="249" r="1.7" stroke="#151515" stroke-width="1.2" fill="#fff"/>
<circle cx="500" cy="226" r="1.2" stroke="#151515" stroke-width="0.8" fill="#fff"/>
<circle cx="500" cy="246" r="1.2" stroke="#151515" stroke-width="0.8" fill="#fff"/>
<circle cx="508" cy="250" r="1.2" stroke="#151515" stroke-width="0.8" fill="#fff"/>
<circle cx="517" cy="256" r="1.2" stroke="#151515" stroke-width="0.8" fill="#fff"/>
<circle cx="532" cy="258" r="1.2" stroke="#151515" stroke-width="0.8" fill="#fff"/>
<circle cx="501" cy="232" r="1.8" stroke="#151515" stroke-width="1.1" fill="#fff"/>
<circle cx="506" cy="236" r="1.8" stroke="#151515" stroke-width="1.1" fill="#fff"/>
<circle cx="501" cy="240" r="1.8" stroke="#151515" stroke-width="1.1" fill="#fff"/>
<circle cx="506" cy="244" r="1.8" stroke="#151515" stroke-width="1.1" fill="#fff"/>
<circle cx="511" cy="240" r="1.8" stroke="#151515" stroke-width="1.1" fill="#fff"/>
<circle cx="511" cy="232" r="1.8" stroke="#151515" stroke-width="1.1" fill="#fff"/>
<circle cx="506" cy="228" r="1.8" stroke="#151515" stroke-width="1.1" fill="#fff"/>
<path d="M507,258q5,5 12,2" stroke="#151515" stroke-width="1.15" fill="none" stroke-linejoin="round"/>
<ellipse cx="478" cy="241.7" rx="2.4" ry="2.76" stroke="#151515" stroke-width="1.2" fill="none"/>
<ellipse cx="474.7" cy="245" rx="2.4" ry="2.76" stroke="#151515" stroke-width="1.2" fill="none"/>
<ellipse cx="481.3" cy="245" rx="2.4" ry="2.76" stroke="#151515" stroke-width="1.2" fill="none"/>
<ellipse cx="478" cy="248.3" rx="2.4" ry="2.76" stroke="#151515" stroke-width="1.2" fill="none"/>
<ellipse cx="496" cy="247.7" rx="2.4" ry="2.76" stroke="#151515" stroke-width="1.2" fill="none"/>
<ellipse cx="492.7" cy="251" rx="2.4" ry="2.76" stroke="#151515" stroke-width="1.2" fill="none"/>
<ellipse cx="499.3" cy="251" rx="2.4" ry="2.76" stroke="#151515" stroke-width="1.2" fill="none"/>
<ellipse cx="496" cy="254.3" rx="2.4" ry="2.76" stroke="#151515" stroke-width="1.2" fill="none"/>
<path d="M597.5,207.5L633.75,195L635,245L603.75,258.75L598.75,255Z" stroke="#151515" stroke-width="1.2" fill="#fff" stroke-linejoin="round"/>
<path d="M608,203l8,-3v16l-8,3zM619,199l8,-3v16l-8,3zM606,230l8,-3v14l-8,3z" stroke="#151515" stroke-width="1.2" fill="#fff" stroke-linejoin="round"/>
<circle cx="612" cy="205" r="2.5" stroke="#151515" stroke-width="1.1" fill="#fff"/>
<circle cx="623" cy="201" r="2.5" stroke="#151515" stroke-width="1.1" fill="#fff"/>
<circle cx="608" cy="251" r="2.5" stroke="#151515" stroke-width="1.1" fill="#fff"/>
<circle cx="601" cy="216" r="1.2" stroke="#151515" stroke-width="0.8" fill="#fff"/>
<circle cx="601" cy="226" r="1.2" stroke="#151515" stroke-width="0.8" fill="#fff"/>
<circle cx="601" cy="236" r="1.2" stroke="#151515" stroke-width="0.8" fill="#fff"/>
<circle cx="601" cy="243" r="1.2" stroke="#151515" stroke-width="0.8" fill="#fff"/>
<g transform="translate(662.5,176.25) rotate(165)" fill="#fff" stroke="#151515" stroke-width="0.9"><path d="M4,-1.9H20a1,1.9 0 0 1 0,3.8H4Z"/><path d="M0,-3.0H6a1.6,3.0 0 0 1 0,6.0H0Z"/><ellipse cx="0" cy="0" rx="1.8" ry="3.0"/><circle cx="0" cy="0" r="0.9"/></g>
<g transform="translate(662.5,191.25) rotate(165)" fill="#fff" stroke="#151515" stroke-width="0.9"><path d="M4,-1.9H20a1,1.9 0 0 1 0,3.8H4Z"/><path d="M0,-3.0H6a1.6,3.0 0 0 1 0,6.0H0Z"/><ellipse cx="0" cy="0" rx="1.8" ry="3.0"/><circle cx="0" cy="0" r="0.9"/></g>
<g transform="translate(653.75,212.5) rotate(165)" fill="#fff" stroke="#151515" stroke-width="0.9"><path d="M4,-1.9H11a1,1.9 0 0 1 0,3.8H4Z"/><path d="M0,-3.0H6a1.6,3.0 0 0 1 0,6.0H0Z"/><ellipse cx="0" cy="0" rx="1.8" ry="3.0"/><circle cx="0" cy="0" r="0.9"/></g>
<g transform="translate(652.5,227.5) rotate(165)" fill="#fff" stroke="#151515" stroke-width="0.9"><path d="M4,-1.9H10a1,1.9 0 0 1 0,3.8H4Z"/><path d="M0,-3.0H6a1.6,3.0 0 0 1 0,6.0H0Z"/><ellipse cx="0" cy="0" rx="1.8" ry="3.0"/><circle cx="0" cy="0" r="0.9"/></g>
<path d="M552.5,59L565,55.5L608,72L608,77L595,76L552.5,62Z" stroke="#151515" stroke-width="1.2" fill="#fff" stroke-linejoin="round"/>
<path d="M572,38L604,48L606,73L574,62Z" stroke="#151515" stroke-width="1.2" fill="#fff" stroke-linejoin="round"/>
<ellipse cx="580" cy="50" rx="3" ry="4.2" stroke="#151515" stroke-width="1.15" fill="#fff"/>
<ellipse cx="593" cy="54" rx="3" ry="4.2" stroke="#151515" stroke-width="1.15" fill="#fff"/>
<g transform="translate(570,7)" fill="#fff" stroke="#151515" stroke-width="0.9"><path d="M-2.2,3V13h4.4V3"/><path d="M-4,-2h8v5h-8z"/><ellipse cx="0" cy="-2" rx="4" ry="1.5"/></g>
<g transform="translate(597,18)" fill="#fff" stroke="#151515" stroke-width="0.9"><path d="M-2.2,3V13h4.4V3"/><path d="M-4,-2h8v5h-8z"/><ellipse cx="0" cy="-2" rx="4" ry="1.5"/></g>
<ellipse cx="569" cy="29" rx="3.5" ry="1.8" stroke="#151515" stroke-width="1.15" fill="#151515"/>
<ellipse cx="596" cy="39" rx="3.5" ry="1.8" stroke="#151515" stroke-width="1.15" fill="#151515"/>
<ellipse cx="613" cy="122" rx="5.5" ry="6.5" stroke="#151515" stroke-width="1.15" fill="#fff"/>
<path d="M613,115.5L621,113L625,124L618,128Z" stroke="#151515" stroke-width="1.2" fill="#fff" stroke-linejoin="round"/>
<ellipse cx="627" cy="127" rx="5.5" ry="7" stroke="#151515" stroke-width="1.6" fill="none"/>
<ellipse cx="627" cy="127" rx="3.5" ry="5" stroke="#151515" stroke-width="1.15" fill="none"/>
<path d="M633,120L645,115L652,118L653,128L641,133L636,131Z" stroke="#151515" stroke-width="1.2" fill="#fff" stroke-linejoin="round"/>
<ellipse cx="636" cy="126" rx="3.5" ry="5.5" stroke="#151515" stroke-width="1.15" fill="#fff"/>
<path d="M641,118v14M645,116v14" stroke="#151515" stroke-width="1.15" fill="none" stroke-linejoin="round"/>
<path d="M865,332L885,328Q898,330 905,338L905,352L880,356Z" stroke="#151515" stroke-width="1.2" fill="#fff" stroke-linejoin="round"/>
<ellipse cx="904" cy="344" rx="4" ry="9" stroke="#151515" stroke-width="2.5" fill="none" stroke-dasharray="1,1"/>
<path d="M880,338L897,341L898,355L882,356Z" stroke="#151515" stroke-width="1.2" fill="#fff" stroke-linejoin="round"/>
<path d="M828,341.7L858,332L878,339L848,348Z" stroke="#151515" stroke-width="1.2" fill="#fff" stroke-linejoin="round"/>
<path d="M828,341.7L848,348L848,372L828,364.5Z" stroke="#151515" stroke-width="1.2" fill="#fff" stroke-linejoin="round"/>
<path d="M848,348L878,339L878,363L848,372Z" stroke="#151515" stroke-width="1.2" fill="#fff" stroke-linejoin="round"/>
<circle cx="838" cy="358" r="5.5" stroke="#151515" stroke-width="1.1" fill="#fff"/>
<circle cx="838" cy="358" r="4.5" stroke="#151515" stroke-width="1.1" fill="none"/>
<rect x="840" y="335" width="8" height="3" fill="#151515" transform="rotate(-15 844 336)"/>
<path d="M852,356l5,-2l5,-6l7,-2l3,3l-2,6l-5,4l-9,3" stroke="#151515" stroke-width="1.15" fill="none" stroke-linejoin="round"/>
<circle cx="856" cy="349" r="2" stroke="#151515" stroke-width="0.9" fill="#fff"/>
<circle cx="869" cy="344" r="2" stroke="#151515" stroke-width="0.9" fill="#fff"/>
<circle cx="856" cy="364" r="2" stroke="#151515" stroke-width="0.9" fill="#fff"/>
<circle cx="869" cy="360" r="2" stroke="#151515" stroke-width="0.9" fill="#fff"/>
<ellipse cx="819" cy="336.0" rx="2.7" ry="3.105" stroke="#151515" stroke-width="1.2" fill="none"/>
<ellipse cx="815.0" cy="340" rx="2.7" ry="3.105" stroke="#151515" stroke-width="1.2" fill="none"/>
<ellipse cx="823.0" cy="340" rx="2.7" ry="3.105" stroke="#151515" stroke-width="1.2" fill="none"/>
<ellipse cx="819" cy="344.0" rx="2.7" ry="3.105" stroke="#151515" stroke-width="1.2" fill="none"/>
<g transform="translate(928,364) rotate(-163)" fill="#fff" stroke="#151515" stroke-width="0.9"><path d="M4,-1.6H22a1,1.6 0 0 1 0,3.2H4Z"/><path d="M0,-2.5H6a1.6,2.5 0 0 1 0,5.0H0Z"/><ellipse cx="0" cy="0" rx="1.8" ry="2.5"/><circle cx="0" cy="0" r="0.9"/></g>
<g transform="translate(916,368) rotate(-163)" fill="#fff" stroke="#151515" stroke-width="0.9"><path d="M4,-1.6H22a1,1.6 0 0 1 0,3.2H4Z"/><path d="M0,-2.5H6a1.6,2.5 0 0 1 0,5.0H0Z"/><ellipse cx="0" cy="0" rx="1.8" ry="2.5"/><circle cx="0" cy="0" r="0.9"/></g>
<g transform="translate(928,378) rotate(-163)" fill="#fff" stroke="#151515" stroke-width="0.9"><path d="M4,-1.6H22a1,1.6 0 0 1 0,3.2H4Z"/><path d="M0,-2.5H6a1.6,2.5 0 0 1 0,5.0H0Z"/><ellipse cx="0" cy="0" rx="1.8" ry="2.5"/><circle cx="0" cy="0" r="0.9"/></g>
<g transform="translate(916,383) rotate(-163)" fill="#fff" stroke="#151515" stroke-width="0.9"><path d="M4,-1.6H22a1,1.6 0 0 1 0,3.2H4Z"/><path d="M0,-2.5H6a1.6,2.5 0 0 1 0,5.0H0Z"/><ellipse cx="0" cy="0" rx="1.8" ry="2.5"/><circle cx="0" cy="0" r="0.9"/></g>
<text transform="translate(84.14,54.50) scale(0.832,1)" font-size="20.71" fill="#151515">61</text>
<text transform="translate(84.07,98.50) scale(0.931,1)" font-size="20.00" fill="#151515">23</text>
<text transform="translate(228.28,54.50) scale(0.871,1)" font-size="20.71" fill="#151515">59</text>
<text transform="translate(262.12,54.50) scale(0.878,1)" font-size="20.00" fill="#151515">60</text>
<text transform="translate(508.09,16.00) scale(0.907,1)" font-size="20.00" fill="#151515">28</text>
<text transform="translate(508.08,35.00) scale(0.916,1)" font-size="20.00" fill="#151515">27</text>
<text transform="translate(508.09,66.00) scale(0.940,1)" font-size="19.29" fill="#151515">26</text>
<text transform="translate(419.75,95.00) scale(0.833,1)" font-size="20.00" fill="#151515">19</text>
<text transform="translate(460.03,95.00) scale(0.968,1)" font-size="20.00" fill="#151515">6</text>
<text transform="translate(509.85,95.00) scale(0.754,1)" font-size="20.29" fill="#151515">11</text>
<text transform="translate(600.06,95.50) scale(0.971,1)" font-size="19.29" fill="#151515">29</text>
<text transform="translate(626.91,95.50) scale(0.759,1)" font-size="19.29" fill="#151515">31</text>
<text transform="translate(649.32,95.50) scale(0.877,1)" font-size="19.29" fill="#151515">30</text>
<text transform="translate(345.05,146.00) scale(0.982,1)" font-size="19.29" fill="#151515">24</text>
<text transform="translate(385.07,146.00) scale(0.966,1)" font-size="19.29" fill="#151515">23</text>
<text transform="translate(642.81,156.00) scale(0.785,1)" font-size="20.29" fill="#151515">14</text>
<text transform="translate(34.73,251.00) scale(0.865,1)" font-size="19.57" fill="#151515">14</text>
<text transform="translate(86.93,251.00) scale(0.726,1)" font-size="19.57" fill="#151515">11</text>
<text transform="translate(214.64,255.00) scale(0.878,1)" font-size="20.29" fill="#151515">4</text>
<text transform="translate(241.78,255.00) scale(0.882,1)" font-size="20.29" fill="#151515">5</text>
<text transform="translate(273.28,255.00) scale(0.895,1)" font-size="20.00" fill="#151515">3</text>
<text transform="translate(301.65,255.00) scale(0.854,1)" font-size="20.00" fill="#151515">20</text>
<text transform="translate(87.14,344.00) scale(0.860,1)" font-size="20.00" fill="#151515">6</text>
<text transform="translate(471.69,296.50) scale(0.836,1)" font-size="19.29" fill="#151515">6</text>
<text transform="translate(494.76,289.00) scale(0.829,1)" font-size="20.00" fill="#151515">16</text>
<text transform="translate(613.79,295.00) scale(0.804,1)" font-size="20.00" fill="#151515">18</text>
<text transform="translate(641.24,287.50) scale(0.856,1)" font-size="19.57" fill="#151515">17</text>
<text transform="translate(613.14,339.00) scale(0.858,1)" font-size="20.00" fill="#151515">25</text>
<text transform="translate(108.75,432.50) scale(0.802,1)" font-size="20.69" fill="#151515">1/2</text>
<text transform="translate(241.69,432.00) scale(0.806,1)" font-size="20.00" fill="#151515">6</text>
<text transform="translate(276.68,431.50) scale(0.812,1)" font-size="20.29" fill="#151515">7</text>
<text transform="translate(327.80,431.50) scale(0.830,1)" font-size="19.29" fill="#151515">10</text>
<text transform="translate(381.62,402.00) scale(0.878,1)" font-size="20.00" fill="#151515">20</text>
<text transform="translate(470.14,402.50) scale(0.892,1)" font-size="19.29" fill="#151515">6</text>
<text transform="translate(812.62,422.70) scale(0.942,1)" font-size="18.71" fill="#151515">6</text>
<text transform="translate(839.33,422.70) scale(0.821,1)" font-size="18.99" fill="#151515">15</text>
<text transform="translate(896.59,422.70) scale(0.849,1)" font-size="18.99" fill="#151515">14</text>
<text transform="translate(15.65,386.05) scale(0.998,1)" font-size="11.66" fill="#151515" font-style="italic">Exploded view</text>
<text transform="translate(14.87,404.70) scale(0.918,1)" font-size="15.45" fill="#151515">Block &amp; Swivel</text>
<text transform="translate(515.65,438.42) scale(1.172,1)" font-size="9.89" fill="#151515" font-style="italic">Exploded view</text>
<text transform="translate(515.70,453.72) scale(1.252,1)" font-size="12.03" fill="#151515">Tilt cylinder</text>
<text transform="translate(857.11,323.00) scale(1.025,1)" font-size="12.86" fill="#151515">S40:</text>
<path d="M106.0,47.0L150.0,47.0" stroke="#151515" stroke-width="1.1" fill="none"/>
<path d="M160.0,47.0L150.0,49.6L150.0,44.4Z" fill="#151515"/>
<path d="M108.0,90.5L151.0,90.5" stroke="#151515" stroke-width="1.1" fill="none"/>
<path d="M161.0,90.5L151.0,93.1L151.0,87.9Z" fill="#151515"/>
<path d="M239.0,58.0L239.0,107.0" stroke="#151515" stroke-width="1.1" fill="none"/>
<path d="M239.0,117.0L236.4,107.0L241.6,107.0Z" fill="#151515"/>
<path d="M272.0,58.0L272.0,118.0" stroke="#151515" stroke-width="1.1" fill="none"/>
<path d="M272.0,128.0L269.4,118.0L274.6,118.0Z" fill="#151515"/>
<path d="M531.0,9.0L556.0,9.0" stroke="#151515" stroke-width="1.1" fill="none"/>
<path d="M566.0,9.0L556.0,11.6L556.0,6.4Z" fill="#151515"/>
<path d="M531.0,28.0L555.0,28.0" stroke="#151515" stroke-width="1.1" fill="none"/>
<path d="M565.0,28.0L555.0,30.6L555.0,25.4Z" fill="#151515"/>
<path d="M531.0,59.0L544.0,59.0" stroke="#151515" stroke-width="1.1" fill="none"/>
<path d="M554.0,59.0L544.0,61.6L544.0,56.4Z" fill="#151515"/>
<path d="M429.0,98.0L429.0,153.0" stroke="#151515" stroke-width="1.1" fill="none"/>
<path d="M429.0,163.0L426.4,153.0L431.6,153.0Z" fill="#151515"/>
<path d="M466.0,98.0L466.0,153.0" stroke="#151515" stroke-width="1.1" fill="none"/>
<path d="M466.0,163.0L463.4,153.0L468.6,153.0Z" fill="#151515"/>
<path d="M518.0,98.0L518.0,162.0" stroke="#151515" stroke-width="1.1" fill="none"/>
<path d="M518.0,172.0L515.4,162.0L520.6,162.0Z" fill="#151515"/>
<path d="M610.0,98.0L610.0,105.0" stroke="#151515" stroke-width="1.1" fill="none"/>
<path d="M610.0,115.0L607.4,105.0L612.6,105.0Z" fill="#151515"/>
<path d="M636.0,98.0L631.7,108.7" stroke="#151515" stroke-width="1.1" fill="none"/>
<path d="M628.0,118.0L629.3,107.7L634.1,109.7Z" fill="#151515"/>
<path d="M661.0,98.0L656.3,108.0" stroke="#151515" stroke-width="1.1" fill="none"/>
<path d="M652.0,117.0L653.9,106.8L658.6,109.1Z" fill="#151515"/>
<path d="M355.5,150.0L355.5,185.0" stroke="#151515" stroke-width="1.1" fill="none"/>
<path d="M355.5,195.0L352.9,185.0L358.1,185.0Z" fill="#151515"/>
<path d="M395.5,150.0L395.5,195.0" stroke="#151515" stroke-width="1.1" fill="none"/>
<path d="M395.5,205.0L392.9,195.0L398.1,195.0Z" fill="#151515"/>
<path d="M652.0,160.0L652.0,167.0" stroke="#151515" stroke-width="1.1" fill="none"/>
<path d="M652.0,177.0L649.4,167.0L654.6,167.0Z" fill="#151515"/>
<path d="M44.5,256.0L44.5,264.0" stroke="#151515" stroke-width="1.1" fill="none"/>
<path d="M44.5,274.0L41.9,264.0L47.1,264.0Z" fill="#151515"/>
<path d="M94.0,256.0L94.0,276.0" stroke="#151515" stroke-width="1.1" fill="none"/>
<path d="M94.0,286.0L91.4,276.0L96.6,276.0Z" fill="#151515"/>
<path d="M219.5,258.0L219.5,310.0" stroke="#151515" stroke-width="1.1" fill="none"/>
<path d="M219.5,320.0L216.9,310.0L222.1,310.0Z" fill="#151515"/>
<path d="M247.0,258.0L247.0,293.0" stroke="#151515" stroke-width="1.1" fill="none"/>
<path d="M247.0,303.0L244.4,293.0L249.6,293.0Z" fill="#151515"/>
<path d="M278.0,258.0L278.0,275.0" stroke="#151515" stroke-width="1.1" fill="none"/>
<path d="M278.0,285.0L275.4,275.0L280.6,275.0Z" fill="#151515"/>
<path d="M325.0,254.0L340.6,259.6" stroke="#151515" stroke-width="1.1" fill="none"/>
<path d="M350.0,263.0L339.7,262.1L341.5,257.2Z" fill="#151515"/>
<path d="M100.0,334.0L125.5,325.2" stroke="#151515" stroke-width="1.1" fill="none"/>
<path d="M135.0,322.0L126.4,327.7L124.7,322.8Z" fill="#151515"/>
<path d="M623.0,278.0L623.0,260.0" stroke="#151515" stroke-width="1.1" fill="none"/>
<path d="M623.0,250.0L625.6,260.0L620.4,260.0Z" fill="#151515"/>
<path d="M651.0,270.0L651.0,240.0" stroke="#151515" stroke-width="1.1" fill="none"/>
<path d="M651.0,230.0L653.6,240.0L648.4,240.0Z" fill="#151515"/>
<path d="M610.0,331.0L595.0,331.0" stroke="#151515" stroke-width="1.1" fill="none"/>
<path d="M585.0,331.0L595.0,328.4L595.0,333.6Z" fill="#151515"/>
<path d="M110.0,404.0L158.0,404.0" stroke="#151515" stroke-width="1.1" fill="none"/>
<path d="M168.0,404.0L158.0,406.6L158.0,401.4Z" fill="#151515"/>
<path d="M137.0,425.0L158.0,425.0" stroke="#151515" stroke-width="1.1" fill="none"/>
<path d="M168.0,425.0L158.0,427.6L158.0,422.4Z" fill="#151515"/>
<path d="M247.0,414.0L247.0,375.0" stroke="#151515" stroke-width="1.1" fill="none"/>
<path d="M247.0,365.0L249.6,375.0L244.4,375.0Z" fill="#151515"/>
<path d="M281.0,414.0L281.0,395.0" stroke="#151515" stroke-width="1.1" fill="none"/>
<path d="M281.0,385.0L283.6,395.0L278.4,395.0Z" fill="#151515"/>
<path d="M337.0,414.0L337.0,405.0" stroke="#151515" stroke-width="1.1" fill="none"/>
<path d="M337.0,395.0L339.6,405.0L334.4,405.0Z" fill="#151515"/>
<path d="M405.0,393.0L412.0,393.0" stroke="#151515" stroke-width="1.1" fill="none"/>
<path d="M422.0,393.0L412.0,395.6L412.0,390.4Z" fill="#151515"/>
<path d="M475.0,385.0L475.0,345.0" stroke="#151515" stroke-width="1.1" fill="none"/>
<path d="M475.0,335.0L477.6,345.0L472.4,345.0Z" fill="#151515"/>
<path d="M550.0,428.0L550.0,423.0" stroke="#151515" stroke-width="1.1" fill="none"/>
<path d="M550.0,413.0L552.6,423.0L547.4,423.0Z" fill="#151515"/>
<path d="M818.0,405.0L818.0,362.0" stroke="#151515" stroke-width="1.1" fill="none"/>
<path d="M818.0,352.0L820.6,362.0L815.4,362.0Z" fill="#151515"/>
<path d="M848.0,405.0L848.0,382.0" stroke="#151515" stroke-width="1.1" fill="none"/>
<path d="M848.0,372.0L850.6,382.0L845.4,382.0Z" fill="#151515"/>
<path d="M906.0,405.0L906.0,392.0" stroke="#151515" stroke-width="1.1" fill="none"/>
<path d="M906.0,382.0L908.6,392.0L903.4,392.0Z" fill="#151515"/>
<path d="M516.0,278.0L532.0,273.0" stroke="#151515" stroke-width="1.1" fill="none"/>
<path d="M532.0,273.0L532.0,273.0" stroke="#151515" stroke-width="1.1" fill="none"/>
<path d="M532.0,263.0L534.6,273.0L529.4,273.0Z" fill="#151515"/>
<path d="M476.0,280.0L476.0,265.0" stroke="#151515" stroke-width="1.1" fill="none"/>
<path d="M476.0,255.0L478.6,265.0L473.4,265.0Z" fill="#151515"/>
<ellipse cx="475.5" cy="330.5" rx="2.3" ry="3.3" stroke="#151515" stroke-width="1.5" fill="none"/>
<use href="#f39" x="111.5" y="583.7"/>
<use href="#seal" x="174" y="582.5"/>
<use href="#b43" x="244.6" y="582.5"/>
<use href="#ring" x="301.5" y="582.5"/>
<use href="#ring" x="336.6" y="582.5"/>
<use href="#f42" x="346.3" y="582.5"/>
<use href="#ring" x="396.6" y="582.5"/>
<circle cx="420.5" cy="582.5" r="10.5" fill="#0a0a0a"/>
<text transform="translate(414.98,589.00) scale(0.873,1)" font-size="18.84" fill="#fff">P</text>
<use href="#f39" x="109.5" y="648.7"/>
<use href="#seal" x="170" y="648"/>
<use href="#b45" x="232.5" y="648.5"/>
<use href="#ring" x="299.3" y="648"/>
<use href="#ring" x="333.4" y="648"/>
<use href="#seal" x="345" y="648"/>
<use href="#ring" x="396" y="648"/>
<circle cx="419" cy="648" r="10.5" fill="#0a0a0a"/>
<text transform="translate(414.49,654.50) scale(0.819,1)" font-size="18.84" fill="#fff">T</text>
<use href="#ring" x="115.3" y="724.7"/>
<use href="#seal" x="123" y="724"/>
<use href="#ring" x="167.8" y="724.7"/>
<use href="#b33" x="177" y="724.7"/>
<use href="#t21" x="251" y="724.5"/>
<use href="#seal" x="315" y="724"/>
<use href="#n35" x="359.4" y="723.5"/>
<use href="#ringd" x="386.4" y="723.5"/>
<use href="#p37" x="393" y="723.5"/>
<circle cx="475.5" cy="724.5" r="11" fill="#0a0a0a"/>
<text transform="translate(467.00,730.00) scale(0.787,1)" font-size="15.94" fill="#fff">Ra</text>
<use href="#ring" x="116.6" y="800.7"/>
<use href="#seal" x="124.5" y="800"/>
<use href="#ring" x="169.3" y="800.7"/>
<use href="#b33" x="178.5" y="800.7"/>
<circle cx="271" cy="802" r="11" fill="#0a0a0a"/>
<text transform="translate(262.46,807.50) scale(0.856,1)" font-size="15.17" fill="#fff">Rb</text>
<text transform="translate(238.60,481.00) scale(0.893,1)" font-size="19.57" fill="#151515">Hoses</text>
<text transform="translate(216.03,498.50) scale(1.092,1)" font-size="12.28" fill="#151515">Feed Right+Left</text>
<text transform="translate(209.42,523.62) scale(1.034,1)" font-size="9.41" fill="#151515">(Std for S40S, CW05GP)</text>
<text transform="translate(127.24,550.00) scale(0.951,1)" font-size="20.00" fill="#151515">39</text>
<text transform="translate(183.61,550.00) scale(0.972,1)" font-size="20.00" fill="#151515">40</text>
<text transform="translate(250.11,550.00) scale(0.976,1)" font-size="20.00" fill="#151515">43</text>
<text transform="translate(293.67,550.00) scale(0.802,1)" font-size="20.29" fill="#151515">41</text>
<text transform="translate(328.67,550.00) scale(0.802,1)" font-size="20.29" fill="#151515">41</text>
<text transform="translate(357.12,550.00) scale(0.962,1)" font-size="20.00" fill="#151515">42</text>
<text transform="translate(388.67,550.00) scale(0.802,1)" font-size="20.29" fill="#151515">41</text>
<text transform="translate(125.22,616.00) scale(1.012,1)" font-size="19.29" fill="#151515">39</text>
<text transform="translate(178.60,616.00) scale(1.032,1)" font-size="19.29" fill="#151515">40</text>
<text transform="translate(254.61,616.00) scale(0.998,1)" font-size="19.57" fill="#151515">45</text>
<text transform="translate(290.65,616.00) scale(0.905,1)" font-size="19.57" fill="#151515">41</text>
<text transform="translate(325.66,616.00) scale(0.880,1)" font-size="19.57" fill="#151515">41</text>
<text transform="translate(352.09,616.00) scale(1.037,1)" font-size="19.57" fill="#151515">44</text>
<text transform="translate(385.66,616.00) scale(0.880,1)" font-size="19.57" fill="#151515">41</text>
<text transform="translate(108.38,687.50) scale(0.809,1)" font-size="19.29" fill="#151515">31</text>
<text transform="translate(133.77,687.50) scale(0.940,1)" font-size="19.29" fill="#151515">32</text>
<text transform="translate(161.38,687.50) scale(0.809,1)" font-size="19.29" fill="#151515">31</text>
<text transform="translate(196.26,687.50) scale(0.956,1)" font-size="19.29" fill="#151515">33</text>
<text transform="translate(244.74,687.50) scale(0.792,1)" font-size="19.29" fill="#151515">21</text>
<text transform="translate(322.25,687.50) scale(0.972,1)" font-size="19.29" fill="#151515">34</text>
<text transform="translate(351.26,687.50) scale(0.956,1)" font-size="19.29" fill="#151515">35</text>
<text transform="translate(378.80,687.50) scale(0.906,1)" font-size="19.29" fill="#151515">36</text>
<text transform="translate(405.25,687.50) scale(0.966,1)" font-size="19.29" fill="#151515">37</text>
<text transform="translate(109.38,764.50) scale(0.809,1)" font-size="19.29" fill="#151515">31</text>
<text transform="translate(134.25,764.50) scale(0.966,1)" font-size="19.29" fill="#151515">32</text>
<text transform="translate(161.86,764.50) scale(0.835,1)" font-size="19.29" fill="#151515">31</text>
<text transform="translate(198.26,764.50) scale(0.956,1)" font-size="19.29" fill="#151515">33</text>
<text transform="translate(279.00,687.50) scale(0.899,1)" font-size="10.87" fill="#151515">A</text>
<path d="M277,689.5H288" stroke="#151515" stroke-width="1"/>
<text transform="translate(54.20,587.50) scale(0.857,1)" font-size="18.99" fill="#151515">P</text>
<text transform="translate(64.27,587.50) scale(0.957,1)" font-size="11.67" fill="#151515">ressure</text>
<text transform="translate(55.73,653.70) scale(0.719,1)" font-size="18.55" fill="#151515">T</text>
<text transform="translate(65.12,653.70) scale(0.949,1)" font-size="10.07" fill="#151515">ank</text>
<text transform="translate(54.42,729.00) scale(0.982,1)" font-size="13.77" fill="#151515">Motor A</text>
<text transform="translate(54.42,807.00) scale(0.981,1)" font-size="13.77" fill="#151515">Motor B</text>
<text transform="translate(285.29,805.92) scale(0.959,1)" font-size="12.30" fill="#151515">(Top part)</text>
<path d="M137.5,554.0L137.5,566.0" stroke="#151515" stroke-width="1.1" fill="none"/>
<path d="M137.5,575.0L135.1,566.0L139.9,566.0Z" fill="#151515"/>
<path d="M194.0,554.0L194.0,567.0" stroke="#151515" stroke-width="1.1" fill="none"/>
<path d="M194.0,576.0L191.6,567.0L196.4,567.0Z" fill="#151515"/>
<path d="M260.5,554.0L260.5,565.5" stroke="#151515" stroke-width="1.1" fill="none"/>
<path d="M260.5,574.5L258.1,565.5L262.9,565.5Z" fill="#151515"/>
<path d="M302.5,554.0L302.5,563.0" stroke="#151515" stroke-width="1.1" fill="none"/>
<path d="M302.5,572.0L300.1,563.0L304.9,563.0Z" fill="#151515"/>
<path d="M337.0,554.0L337.0,563.0" stroke="#151515" stroke-width="1.1" fill="none"/>
<path d="M337.0,572.0L334.6,563.0L339.4,563.0Z" fill="#151515"/>
<path d="M367.5,554.0L367.5,563.0" stroke="#151515" stroke-width="1.1" fill="none"/>
<path d="M367.5,572.0L365.1,563.0L369.9,563.0Z" fill="#151515"/>
<path d="M397.0,554.0L397.0,563.0" stroke="#151515" stroke-width="1.1" fill="none"/>
<path d="M397.0,572.0L394.6,563.0L399.4,563.0Z" fill="#151515"/>
<path d="M136.0,620.0L136.0,632.0" stroke="#151515" stroke-width="1.1" fill="none"/>
<path d="M136.0,641.0L133.6,632.0L138.4,632.0Z" fill="#151515"/>
<path d="M189.5,620.0L189.5,632.0" stroke="#151515" stroke-width="1.1" fill="none"/>
<path d="M189.5,641.0L187.1,632.0L191.9,632.0Z" fill="#151515"/>
<path d="M265.5,620.0L265.5,633.5" stroke="#151515" stroke-width="1.1" fill="none"/>
<path d="M265.5,642.5L263.1,633.5L267.9,633.5Z" fill="#151515"/>
<path d="M299.5,620.0L299.5,629.0" stroke="#151515" stroke-width="1.1" fill="none"/>
<path d="M299.5,638.0L297.1,629.0L301.9,629.0Z" fill="#151515"/>
<path d="M334.5,620.0L334.5,629.0" stroke="#151515" stroke-width="1.1" fill="none"/>
<path d="M334.5,638.0L332.1,629.0L336.9,629.0Z" fill="#151515"/>
<path d="M363.8,620.0L363.8,631.5" stroke="#151515" stroke-width="1.1" fill="none"/>
<path d="M363.8,640.5L361.4,631.5L366.1,631.5Z" fill="#151515"/>
<path d="M394.2,620.0L394.2,629.0" stroke="#151515" stroke-width="1.1" fill="none"/>
<path d="M394.2,638.0L391.9,629.0L396.6,629.0Z" fill="#151515"/>
<path d="M116.0,691.0L116.0,703.5" stroke="#151515" stroke-width="1.1" fill="none"/>
<path d="M116.0,712.5L113.6,703.5L118.4,703.5Z" fill="#151515"/>
<path d="M143.5,691.0L143.5,707.0" stroke="#151515" stroke-width="1.1" fill="none"/>
<path d="M143.5,716.0L141.1,707.0L145.9,707.0Z" fill="#151515"/>
<path d="M169.5,691.0L169.5,703.5" stroke="#151515" stroke-width="1.1" fill="none"/>
<path d="M169.5,712.5L167.1,703.5L171.9,703.5Z" fill="#151515"/>
<path d="M206.0,691.0L206.0,704.5" stroke="#151515" stroke-width="1.1" fill="none"/>
<path d="M206.0,713.5L203.6,704.5L208.4,704.5Z" fill="#151515"/>
<path d="M253.0,691.0L253.0,707.5" stroke="#151515" stroke-width="1.1" fill="none"/>
<path d="M253.0,716.5L250.6,707.5L255.4,707.5Z" fill="#151515"/>
<path d="M332.5,691.0L332.5,707.0" stroke="#151515" stroke-width="1.1" fill="none"/>
<path d="M332.5,716.0L330.1,707.0L334.9,707.0Z" fill="#151515"/>
<path d="M360.5,691.0L360.5,702.0" stroke="#151515" stroke-width="1.1" fill="none"/>
<path d="M360.5,711.0L358.1,702.0L362.9,702.0Z" fill="#151515"/>
<path d="M388.0,691.0L388.0,702.5" stroke="#151515" stroke-width="1.1" fill="none"/>
<path d="M388.0,711.5L385.6,702.5L390.4,702.5Z" fill="#151515"/>
<path d="M415.0,691.0L415.0,706.5" stroke="#151515" stroke-width="1.1" fill="none"/>
<path d="M415.0,715.5L412.6,706.5L417.4,706.5Z" fill="#151515"/>
<path d="M118.0,768.0L118.0,780.0" stroke="#151515" stroke-width="1.1" fill="none"/>
<path d="M118.0,789.0L115.6,780.0L120.4,780.0Z" fill="#151515"/>
<path d="M143.8,768.0L143.8,784.5" stroke="#151515" stroke-width="1.1" fill="none"/>
<path d="M143.8,793.5L141.3,784.5L146.2,784.5Z" fill="#151515"/>
<path d="M170.5,768.0L170.5,780.0" stroke="#151515" stroke-width="1.1" fill="none"/>
<path d="M170.5,789.0L168.1,780.0L172.9,780.0Z" fill="#151515"/>
<path d="M208.0,768.0L208.0,781.5" stroke="#151515" stroke-width="1.1" fill="none"/>
<path d="M208.0,790.5L205.6,781.5L210.4,781.5Z" fill="#151515"/>
<g transform="translate(0,0)">
<path d="M1001.8,740V752M1016.4,740V752" stroke="#151515" stroke-width="1.25" fill="none" stroke-dasharray="9,3" stroke-linejoin="round"/>
<ellipse cx="1008.6" cy="767.6" rx="19.7" ry="20.5" stroke="#151515" stroke-width="1.25" fill="#fff" stroke-dasharray="9,3" stroke-linejoin="round"/>
<ellipse cx="1010" cy="767.6" rx="13" ry="14" stroke="#151515" stroke-width="1.15" fill="none" stroke-linejoin="round"/>
<ellipse cx="1011" cy="767.6" rx="9.5" ry="11" stroke="#151515" stroke-width="1.8" fill="none"/>
<ellipse cx="1012" cy="767.6" rx="6" ry="8" stroke="#151515" stroke-width="1.15" fill="none" stroke-linejoin="round"/>
</g>
<g transform="translate(0,0)">
<path d="M994,725Q1015,735 1037,725M995,731Q1015,741 1037,731M996,738Q1016,747 1036,738" stroke="#151515" stroke-width="1.25" fill="none" stroke-dasharray="9,3" stroke-linejoin="round"/>
<path d="M993,700V725M1036.7,705V726" stroke="#151515" stroke-width="1.25" fill="none" stroke-dasharray="9,3" stroke-linejoin="round"/>
<path d="M1036,560V666M1040.4,669Q1046,687 1040.4,705M1036,666Q1042,668 1040.4,669M1040.4,705L1036.7,708" stroke="#151515" stroke-width="1.25" fill="none" stroke-dasharray="9,3" stroke-linejoin="round"/>
<path d="M1040,685q8,1 7,9q-1,6 -7,6" stroke="#151515" stroke-width="1.25" fill="none" stroke-dasharray="9,3" stroke-linejoin="round"/>
<path d="M993,682L1025,676L1025,690L993,696" stroke="#151515" stroke-width="1.25" fill="none" stroke-dasharray="9,3" stroke-linejoin="round"/>
<path d="M1000,672Q1015,678 1036,668" stroke="#151515" stroke-width="1.25" fill="none" stroke-dasharray="9,3" stroke-linejoin="round"/>
<path d="M906,704C905,690 915,676 932,672" stroke="#151515" stroke-width="1.25" fill="none" stroke-dasharray="9,3" stroke-linejoin="round"/>
<path d="M914,728L930,722L932,735L918,742" stroke="#151515" stroke-width="1.25" fill="none" stroke-dasharray="9,3" stroke-linejoin="round"/>
<path d="M1023,482L1055.5,493L1054.8,512M1023,482L1022.4,501.8" stroke="#151515" stroke-width="1.25" fill="none" stroke-dasharray="9,3" stroke-linejoin="round"/>
<ellipse cx="1032" cy="492" rx="2.5" ry="3.5" stroke="#151515" stroke-width="1" fill="none" stroke-dasharray="3,1.5"/>
<ellipse cx="1045" cy="497.4" rx="2.5" ry="3.5" stroke="#151515" stroke-width="1" fill="none" stroke-dasharray="3,1.5"/>
<path d="M960,516L983,519L995.6,508L1004.5,503L1011,499M1011,504.4L1054,522M1011,530L1039,524.7L1061,523.5L1060.5,532.4L1049,536L1041.5,541L1031,542.5L1016,547.6L999.5,552.7" stroke="#151515" stroke-width="1.25" fill="none" stroke-dasharray="9,3" stroke-linejoin="round"/>
<path d="M1012,505L1050,520M1012,507L1050,522" stroke="#151515" stroke-width="1.15" fill="none" stroke-linejoin="round"/>
<circle cx="1019.8" cy="502.5" r="2.8" stroke="#151515" stroke-width="1.2" fill="#fff" stroke-linejoin="round"/>
<circle cx="1047.8" cy="513.3" r="2.8" stroke="#151515" stroke-width="1.2" fill="#fff" stroke-linejoin="round"/>
<ellipse cx="1063" cy="517" rx="3" ry="4.5" stroke="#151515" stroke-width="1.2" fill="#fff" stroke-linejoin="round"/>
<path d="M1040,541L1036.4,620L1036,660" stroke="#151515" stroke-width="1.25" fill="none" stroke-dasharray="9,3" stroke-linejoin="round"/>
<path d="M998,594L1006,592L1007,587L1016,585L1018,590L1029,594L1030,632L1019,637L1008,641L998,645" stroke="#151515" stroke-width="1.25" fill="none" stroke-dasharray="9,3" stroke-linejoin="round"/>
<path d="M1006,588h9v14l-4,2v10l-5,1z" stroke="#151515" stroke-width="1.15" fill="none" stroke-linejoin="round"/>
<circle cx="1010.5" cy="592.5" r="2.6" stroke="#151515" stroke-width="1.15" fill="none" stroke-linejoin="round"/>
<circle cx="1010.5" cy="592.5" r="1" stroke="#151515" stroke-width="1.15" fill="none" stroke-linejoin="round"/>
<path d="M1018,592h10v12l-3,1v8l-4,1" stroke="#151515" stroke-width="1.15" fill="none" stroke-linejoin="round"/>
<path d="M999,620l8,-2v14l4,-1v10l-12,3z" stroke="#151515" stroke-width="1.15" fill="none" stroke-linejoin="round"/>
<circle cx="1003.5" cy="639" r="2.8" stroke="#151515" stroke-width="1.15" fill="none" stroke-linejoin="round"/>
<circle cx="1003.5" cy="639" r="1.1" stroke="#151515" stroke-width="1.15" fill="none" stroke-linejoin="round"/>
<text x="1012" y="603" font-size="6" fill="#151515" font-weight="bold">7B</text>
<text x="1023" y="598" font-size="6" fill="#151515" font-weight="bold">7B</text>
<text x="1024" y="607" font-size="6" fill="#151515" font-weight="bold">7B</text>
<text x="1010" y="626" font-size="6" fill="#151515" font-weight="bold">7B</text>
<path d="M997,560q3,4 1,8q-2,4 1,8M997,600q3,4 0,8" stroke="#151515" stroke-width="1.15" fill="none" stroke-linejoin="round"/>
<path d="M1009,570l4,-1l2,2" stroke="#151515" stroke-width="1.15" fill="none" stroke-linejoin="round"/>
<path d="M937,530L960,523L997,536.8L974,544.5Z" stroke="#151515" stroke-width="1.2" fill="#fff" stroke-linejoin="round"/>
<path d="M974,544.5L997,536.8L991.6,704L966.9,711.3Z" stroke="#151515" stroke-width="1.2" fill="#fff" stroke-linejoin="round"/>
<path d="M937,530L974,544.5L966.9,711.3L929.8,690.2L931.3,654.5L932,640L935,638L935,561L946,557L937,551Z" stroke="#151515" stroke-width="1.2" fill="#fff" stroke-linejoin="round"/>
<ellipse cx="962" cy="528" rx="1.6" ry="0.8" stroke="#151515" stroke-width="1.15" fill="none" stroke-linejoin="round"/>
<ellipse cx="970" cy="531" rx="1.6" ry="0.8" stroke="#151515" stroke-width="1.15" fill="none" stroke-linejoin="round"/>
<ellipse cx="978" cy="533" rx="1.6" ry="0.8" stroke="#151515" stroke-width="1.15" fill="none" stroke-linejoin="round"/>
<ellipse cx="985" cy="535" rx="1.6" ry="0.8" stroke="#151515" stroke-width="1.15" fill="none" stroke-linejoin="round"/>
<circle cx="949" cy="549" r="5" stroke="#151515" stroke-width="1.2" fill="#fff" stroke-linejoin="round"/>
<circle cx="949" cy="549" r="2.8" stroke="#151515" stroke-width="1.15" fill="none" stroke-linejoin="round"/>
<circle cx="961" cy="552" r="5" stroke="#151515" stroke-width="1.2" fill="#fff" stroke-linejoin="round"/>
<circle cx="961" cy="552" r="2.8" stroke="#151515" stroke-width="1.15" fill="none" stroke-linejoin="round"/>
<circle cx="940" cy="539" r="3.2" stroke="#151515" stroke-width="1.2" fill="#fff" stroke-linejoin="round"/>
<circle cx="940" cy="539" r="1.4" stroke="#151515" stroke-width="1.15" fill="none" stroke-linejoin="round"/>
<circle cx="971" cy="550" r="3.2" stroke="#151515" stroke-width="1.2" fill="#fff" stroke-linejoin="round"/>
<circle cx="971" cy="550" r="1.4" stroke="#151515" stroke-width="1.15" fill="none" stroke-linejoin="round"/>
<circle cx="985" cy="556" r="1.3" fill="#151515"/>
<circle cx="983" cy="600" r="1.3" fill="#151515"/>
<circle cx="979" cy="640" r="1.3" fill="#151515"/>
<circle cx="973" cy="690" r="1.3" fill="#151515"/>
<circle cx="962" cy="620" r="1.3" stroke="#151515" stroke-width="1.15" fill="none" stroke-linejoin="round"/>
<circle cx="950" cy="680" r="1.3" stroke="#151515" stroke-width="1.15" fill="none" stroke-linejoin="round"/>
<circle cx="988" cy="578" r="1.3" stroke="#151515" stroke-width="1.15" fill="none" stroke-linejoin="round"/>
<circle cx="933.5" cy="693" r="3.5" stroke="#151515" stroke-width="1.2" fill="#fff" stroke-linejoin="round"/>
<circle cx="933.5" cy="693" r="1.5" stroke="#151515" stroke-width="1.15" fill="none" stroke-linejoin="round"/>
<circle cx="963.3" cy="704" r="3.5" stroke="#151515" stroke-width="1.2" fill="#fff" stroke-linejoin="round"/>
<circle cx="963.3" cy="704" r="1.5" stroke="#151515" stroke-width="1.15" fill="none" stroke-linejoin="round"/>
</g>
<g transform="translate(0,0)">
<path d="M802.5,732L808,728L822,727L830,722L840,724L846,720L870,716L905,716L935,712L955,722L968,725L978,730L980.7,744.7L970,747L960,746L950,750L935,752L919.6,762.5L880,760L855,757L840,753L825.4,749.8L812,744L803,737Z" stroke="#151515" stroke-width="1.25" fill="#fff" stroke-dasharray="9,3" stroke-linejoin="round"/>
<path d="M825.4,753L840,756L880,763.5L919.6,765.5L950,753" stroke="#151515" stroke-width="1.25" fill="none" stroke-dasharray="9,3" stroke-linejoin="round"/>
<ellipse cx="812" cy="733" rx="3" ry="1.4" stroke="#151515" stroke-width="1.15" fill="none" stroke-linejoin="round"/>
<ellipse cx="948" cy="744" rx="3.5" ry="1.5" stroke="#151515" stroke-width="1.15" fill="none" stroke-linejoin="round"/>
<path d="M858.5,758.7V813.4M920.9,758.7V813.4" stroke="#151515" stroke-width="1.25" fill="none" stroke-dasharray="9,3" stroke-linejoin="round"/>
<path d="M858.5,790Q889,806 920.9,790" stroke="#151515" stroke-width="2" fill="none"/>
<path d="M858.5,808Q866,815 875,816L885,817L888,813V818Q905,818 920.9,811" stroke="#151515" stroke-width="1.15" fill="none" stroke-linejoin="round"/>
<path d="M864,799V813M867,799V814M871,800V814" stroke="#151515" stroke-width="1.15" fill="none" stroke-linejoin="round"/>
<path d="M849.6,692.5L873.8,685L903,695L878.9,702.7Z" stroke="#151515" stroke-width="1.2" fill="#fff" stroke-linejoin="round"/>
<path d="M849.6,692.5L878.9,702.7L878.9,749.8L849.6,742Z" stroke="#151515" stroke-width="1.2" fill="#fff" stroke-linejoin="round"/>
<path d="M878.9,702.7L903,695L903,739.6L878.9,749.8Z" stroke="#151515" stroke-width="1.2" fill="#fff" stroke-linejoin="round"/>
<ellipse cx="882" cy="692.5" rx="4.5" ry="2.2" stroke="#151515" stroke-width="1.15" fill="none" stroke-linejoin="round"/>
<circle cx="856" cy="692" r="0.9" stroke="#151515" stroke-width="1.15" fill="none" stroke-linejoin="round"/>
<circle cx="873" cy="687" r="0.9" stroke="#151515" stroke-width="1.15" fill="none" stroke-linejoin="round"/>
<circle cx="897" cy="695" r="0.9" stroke="#151515" stroke-width="1.15" fill="none" stroke-linejoin="round"/>
<circle cx="878" cy="700" r="0.9" stroke="#151515" stroke-width="1.15" fill="none" stroke-linejoin="round"/>
<circle cx="864" cy="707" r="0.9" fill="#151515"/>
<circle cx="874" cy="726" r="0.9" fill="#151515"/>
<g transform="translate(845,731) rotate(-25)" stroke="#151515" fill="#fff" stroke-width="1"><path d="M0,-6.5h8v13h-8z"/><path d="M8,-7.5h7v15h-7z"/><path d="M3,-6.5v13M5.5,-6.5v13M10,-7.5v15M12.5,-7.5v15" stroke-width="1.1"/><ellipse cx="15" cy="0" rx="2.5" ry="7.5"/><ellipse cx="0" cy="0" rx="3.8" ry="6.5"/><circle cx="0" cy="0" r="2.3" fill="none" stroke-width="1.2"/></g>
<g transform="translate(862,746.5) rotate(-25)" stroke="#151515" fill="#fff" stroke-width="1"><path d="M0,-6.5h8v13h-8z"/><path d="M8,-7.5h7v15h-7z"/><path d="M3,-6.5v13M5.5,-6.5v13M10,-7.5v15M12.5,-7.5v15" stroke-width="1.1"/><ellipse cx="15" cy="0" rx="2.5" ry="7.5"/><ellipse cx="0" cy="0" rx="3.8" ry="6.5"/><circle cx="0" cy="0" r="2.3" fill="none" stroke-width="1.2"/></g>
<ellipse cx="908" cy="698" rx="4" ry="10" stroke="#151515" stroke-width="3" fill="#fff" stroke-dasharray="1,1.2"/>
<ellipse cx="908" cy="698" rx="2.5" ry="8" stroke="#151515" stroke-width="0.8" fill="none"/>
<path d="M945,722L960,720L962,735L945,739Z" stroke="#151515" stroke-width="1.25" fill="none" stroke-dasharray="9,3" stroke-linejoin="round"/>
<path d="M887.8,719L915.8,711.6L945,718L910.7,725.6Z" stroke="#151515" stroke-width="1.2" fill="#fff" stroke-linejoin="round"/>
<path d="M887.8,719L910.7,725.6L910.7,751L887.8,742Z" stroke="#151515" stroke-width="1.2" fill="#fff" stroke-linejoin="round"/>
<path d="M910.7,725.6L945,718L945,739.6L910.7,751Z" stroke="#151515" stroke-width="1.2" fill="#fff" stroke-linejoin="round"/>
<rect x="904" y="714.5" width="10" height="5" fill="#151515" transform="rotate(-12 909 717)"/>
<circle cx="921" cy="731" r="1.8" stroke="#151515" stroke-width="1.2" fill="#fff" stroke-linejoin="round"/>
<circle cx="929" cy="729" r="1.8" stroke="#151515" stroke-width="1.2" fill="#fff" stroke-linejoin="round"/>
<circle cx="925" cy="738" r="1.8" stroke="#151515" stroke-width="1.2" fill="#fff" stroke-linejoin="round"/>
<circle cx="921" cy="745" r="1.8" stroke="#151515" stroke-width="1.2" fill="#fff" stroke-linejoin="round"/>
<circle cx="929" cy="743" r="1.8" stroke="#151515" stroke-width="1.2" fill="#fff" stroke-linejoin="round"/>
<circle cx="890.5" cy="731" r="0.9" stroke="#151515" stroke-width="1.15" fill="none" stroke-linejoin="round"/>
<circle cx="890.5" cy="734" r="0.9" stroke="#151515" stroke-width="1.15" fill="none" stroke-linejoin="round"/>
<circle cx="890.5" cy="737" r="0.9" stroke="#151515" stroke-width="1.15" fill="none" stroke-linejoin="round"/>
<circle cx="898" cy="739" r="0.9" fill="#151515"/>
<path d="M836,730l-3,-7l8,-2" stroke="#151515" stroke-width="1.25" fill="none" stroke-dasharray="9,3" stroke-linejoin="round"/>
</g>
<g transform="translate(0,0)">
<path d="M800,756l11,-2.5v10l-9,2.5z" stroke="#151515" stroke-width="1.2" fill="#fff" stroke-linejoin="round"/>
<path d="M735,760.3L786,745.5A8,19 -20 0 1 803,781.5L731.8,805.3Q718,808 713,790Q710,772 735,760.3Z" stroke="#151515" stroke-width="1.2" fill="#fff" stroke-linejoin="round"/>
<path d="M781,747A8,19 -20 0 1 797,783.5" stroke="#151515" stroke-width="1.15" fill="none" stroke-linejoin="round"/>
<path d="M772,749Q787,764 786,786M760,753Q775,768 774,790" stroke="#151515" stroke-width="1.15" fill="none" stroke-linejoin="round"/>
<path d="M748,757L763,793.8" stroke="#151515" stroke-width="1.15" fill="none" stroke-linejoin="round"/>
<ellipse cx="743.3" cy="766.8" rx="7" ry="8.6" stroke="#151515" stroke-width="1.2" fill="#fff" stroke-linejoin="round" transform="rotate(-15 743.3 766.8)"/>
<ellipse cx="743.8" cy="766.8" rx="4" ry="5" stroke="#151515" stroke-width="1.15" fill="none" stroke-linejoin="round" transform="rotate(-15 743.8 766.8)"/>
<ellipse cx="751.5" cy="788" rx="7" ry="8.6" stroke="#151515" stroke-width="1.2" fill="#fff" stroke-linejoin="round" transform="rotate(-15 751.5 788)"/>
<ellipse cx="752" cy="788" rx="4" ry="5" stroke="#151515" stroke-width="1.15" fill="none" stroke-linejoin="round" transform="rotate(-15 752 788)"/>
</g>
<g transform="translate(948,596) scale(1.0)" stroke="#151515" fill="#fff" stroke-width="0.9"><path d="M8,1h12v11h-12z"/><circle cx="22" cy="6.5" r="5" /><circle cx="22" cy="6.5" r="3" fill="none"/><path d="M3,-11h9v14h-9z"/><ellipse cx="7.5" cy="-11" rx="4.5" ry="2"/><path d="M1,2l11,-2v11l-11,2z"/><path d="M1,7l11,-2" stroke-width="0.8"/><path d="M2,13h8v12h-8z"/><ellipse cx="6" cy="25" rx="4" ry="1.6"/></g>
<circle cx="940" cy="580.5" r="4.5" stroke="#151515" stroke-width="1.2" fill="#fff"/><circle cx="940" cy="580.5" r="2.5" stroke="#151515" stroke-width="0.8" fill="none"/>
<path d="M948.6,489.0L948.6,538.0" stroke="#ecd92a" stroke-width="1.3" fill="none"/>
<path d="M948.6,545.0L946.0,538.0L951.2,538.0Z" fill="#ecd92a"/>
<path d="M960.5,489.0L960.5,542.0" stroke="#ecd92a" stroke-width="1.3" fill="none"/>
<path d="M960.5,549.0L957.9,542.0L963.1,542.0Z" fill="#ecd92a"/>
<path d="M1076,486L1055,494" stroke="#ecd92a" stroke-width="1.3"/>
<path d="M844.5,659.0L844.5,725.0" stroke="#ecd92a" stroke-width="1.3" fill="none"/>
<path d="M844.5,732.0L841.9,725.0L847.1,725.0Z" fill="#ecd92a"/>
<path d="M861.0,659.0L861.0,739.0" stroke="#ecd92a" stroke-width="1.3" fill="none"/>
<path d="M861.0,746.0L858.4,739.0L863.6,739.0Z" fill="#ecd92a"/>
<path d="M706.5,767.3L738.0,767.3" stroke="#ecd92a" stroke-width="1.3" fill="none"/>
<path d="M745.0,767.3L738.0,769.9L738.0,764.7Z" fill="#ecd92a"/>
<path d="M706.5,789.0L743.7,789.0" stroke="#ecd92a" stroke-width="1.3" fill="none"/>
<path d="M750.7,789.0L743.7,791.6L743.7,786.4Z" fill="#ecd92a"/>
<circle cx="943" cy="478" r="10.3" fill="#0a0a0a"/>
<text transform="translate(938.49,484.50) scale(0.819,1)" font-size="18.84" fill="#fff">T</text>
<circle cx="967" cy="478" r="10.3" fill="#0a0a0a"/>
<text transform="translate(961.48,484.50) scale(0.873,1)" font-size="18.84" fill="#fff">P</text>
<circle cx="1085" cy="480" r="10.5" fill="#0a0a0a"/>
<text transform="translate(1076.50,485.50) scale(0.787,1)" font-size="15.94" fill="#fff">Ra</text>
<text transform="translate(891.96,588.50) scale(1.004,1)" font-size="20.71" fill="#151515">22</text>
<path d="M917.0,581.0L927.5,581.0" stroke="#151515" stroke-width="1.1" fill="none"/>
<path d="M935.5,581.0L927.5,583.4L927.5,578.6Z" fill="#151515"/>
<text transform="translate(894.06,615.60) scale(0.897,1)" font-size="20.86" fill="#151515">21</text>
<path d="M917.0,608.5L939.0,608.5" stroke="#151515" stroke-width="1.1" fill="none"/>
<path d="M947.0,608.5L939.0,610.9L939.0,606.1Z" fill="#151515"/>
<text transform="translate(822.13,656.90) scale(0.724,1)" font-size="18.41" fill="#151515">T</text>
<text transform="translate(830.41,656.90) scale(0.967,1)" font-size="10.21" fill="#151515">ank</text>
<text transform="translate(859.39,656.90) scale(0.823,1)" font-size="18.41" fill="#151515">P</text>
<text transform="translate(868.47,656.90) scale(0.999,1)" font-size="11.30" fill="#151515">ressure</text>
<text transform="translate(657.93,772.20) scale(0.971,1)" font-size="13.77" fill="#151515">Motor A</text>
<text transform="translate(657.93,794.20) scale(0.980,1)" font-size="13.62" fill="#151515">Motor B</text>
<use href="#f39" x="110.75" y="946.5"/>
<use href="#seal" x="176" y="945"/>
<use href="#b43" x="244" y="945"/>
<use href="#ring" x="301.25" y="944"/>
<use href="#ring" x="335.25" y="944"/>
<circle cx="362" cy="942.5" r="10.5" fill="#0a0a0a"/>
<text transform="translate(356.48,949.00) scale(0.873,1)" font-size="18.84" fill="#fff">P</text>
<use href="#f39" x="106.25" y="1013.6"/>
<use href="#seal" x="170.5" y="1012.5"/>
<use href="#b43" x="239.5" y="1013.3"/>
<use href="#ring" x="296" y="1012.5"/>
<use href="#ring" x="331" y="1012.5"/>
<use href="#f42" x="340.5" y="1012.5"/>
<use href="#ring" x="391" y="1012.5"/>
<circle cx="421" cy="1012.5" r="10.5" fill="#0a0a0a"/>
<text transform="translate(416.49,1019.00) scale(0.819,1)" font-size="18.84" fill="#fff">T</text>
<use href="#ring" x="114.75" y="1093.5"/>
<use href="#seal" x="123.25" y="1093"/>
<use href="#ring" x="167.25" y="1093.5"/>
<use href="#b33" x="176.25" y="1093.5"/>
<use href="#t21" x="251.25" y="1093"/>
<use href="#seal" x="314" y="1092.5"/>
<use href="#n35" x="359.5" y="1092"/>
<use href="#ringd" x="386.5" y="1092"/>
<use href="#p37" x="392" y="1091.75"/>
<circle cx="470.5" cy="1093" r="11" fill="#0a0a0a"/>
<text transform="translate(462.00,1098.50) scale(0.787,1)" font-size="15.94" fill="#fff">Ra</text>
<use href="#ring" x="116.6" y="1167.5"/>
<use href="#seal" x="125" y="1167"/>
<use href="#ring" x="169.1" y="1167.5"/>
<use href="#b33" x="178.25" y="1167.5"/>
<use href="#t21" x="253.75" y="1167"/>
<use href="#seal" x="314" y="1167"/>
<use href="#n35" x="360.5" y="1166.5"/>
<use href="#ringd" x="385.5" y="1166.5"/>
<use href="#p38" x="394.7" y="1166.5"/>
<circle cx="467.4" cy="1167.2" r="11" fill="#0a0a0a"/>
<text transform="translate(458.86,1172.70) scale(0.856,1)" font-size="15.17" fill="#fff">Rb</text>
<text transform="translate(237.50,842.70) scale(0.864,1)" font-size="20.29" fill="#151515">Hoses</text>
<text transform="translate(232.90,860.50) scale(1.052,1)" font-size="13.10" fill="#151515">Feed Left</text>
<text transform="translate(202.72,886.13) scale(0.990,1)" font-size="9.84" fill="#151515">(Std for S40, HS, CW05EC)</text>
<text transform="translate(126.26,913.50) scale(0.961,1)" font-size="19.29" fill="#151515">39</text>
<text transform="translate(185.64,913.50) scale(0.934,1)" font-size="19.29" fill="#151515">40</text>
<text transform="translate(249.62,913.50) scale(0.988,1)" font-size="19.29" fill="#151515">43</text>
<text transform="translate(292.15,913.50) scale(0.905,1)" font-size="19.57" fill="#151515">41</text>
<text transform="translate(327.15,913.50) scale(0.905,1)" font-size="19.57" fill="#151515">41</text>
<text transform="translate(122.26,981.00) scale(0.961,1)" font-size="19.29" fill="#151515">39</text>
<text transform="translate(180.64,981.00) scale(0.934,1)" font-size="19.29" fill="#151515">40</text>
<text transform="translate(244.62,981.00) scale(0.988,1)" font-size="19.29" fill="#151515">43</text>
<text transform="translate(288.67,981.00) scale(0.831,1)" font-size="19.57" fill="#151515">41</text>
<text transform="translate(323.67,981.00) scale(0.831,1)" font-size="19.57" fill="#151515">41</text>
<text transform="translate(352.12,981.00) scale(0.997,1)" font-size="19.29" fill="#151515">42</text>
<text transform="translate(383.66,981.00) scale(0.880,1)" font-size="19.57" fill="#151515">41</text>
<text transform="translate(107.36,1056.25) scale(0.820,1)" font-size="19.64" fill="#151515">31</text>
<text transform="translate(133.01,1056.25) scale(0.936,1)" font-size="19.64" fill="#151515">32</text>
<text transform="translate(160.62,1056.25) scale(0.807,1)" font-size="19.64" fill="#151515">31</text>
<text transform="translate(195.50,1056.25) scale(0.951,1)" font-size="19.64" fill="#151515">33</text>
<text transform="translate(243.67,1056.25) scale(0.840,1)" font-size="19.64" fill="#151515">21</text>
<text transform="translate(319.73,1056.25) scale(0.979,1)" font-size="19.64" fill="#151515">34</text>
<text transform="translate(351.26,1056.25) scale(0.939,1)" font-size="19.64" fill="#151515">35</text>
<text transform="translate(378.34,1056.25) scale(0.840,1)" font-size="19.64" fill="#151515">36</text>
<text transform="translate(402.25,1056.25) scale(0.948,1)" font-size="19.64" fill="#151515">37</text>
<text transform="translate(108.85,1131.25) scale(0.832,1)" font-size="19.64" fill="#151515">31</text>
<text transform="translate(133.77,1131.25) scale(0.923,1)" font-size="19.64" fill="#151515">32</text>
<text transform="translate(161.87,1131.25) scale(0.807,1)" font-size="19.64" fill="#151515">31</text>
<text transform="translate(198.02,1131.25) scale(0.927,1)" font-size="19.64" fill="#151515">33</text>
<text transform="translate(246.67,1131.25) scale(0.840,1)" font-size="19.64" fill="#151515">21</text>
<text transform="translate(323.68,1131.25) scale(0.910,1)" font-size="19.64" fill="#151515">34</text>
<text transform="translate(352.97,1131.25) scale(0.929,1)" font-size="19.64" fill="#151515">35</text>
<text transform="translate(375.97,1131.25) scale(0.929,1)" font-size="19.64" fill="#151515">36</text>
<text transform="translate(398.97,1131.25) scale(0.929,1)" font-size="19.64" fill="#151515">38</text>
<text transform="translate(277.50,1056.25) scale(0.968,1)" font-size="10.87" fill="#151515">A</text>
<path d="M276,1058.5H287" stroke="#151515" stroke-width="1"/>
<text transform="translate(278.88,1128.75) scale(1.290,1)" font-size="10.87" fill="#151515">B</text>
<path d="M278.5,1131H290" stroke="#151515" stroke-width="1"/>
<text transform="translate(54.20,950.00) scale(0.857,1)" font-size="18.99" fill="#151515">P</text>
<text transform="translate(64.27,950.00) scale(0.957,1)" font-size="11.67" fill="#151515">ressure</text>
<text transform="translate(55.73,1017.70) scale(0.719,1)" font-size="18.55" fill="#151515">T</text>
<text transform="translate(65.12,1017.70) scale(0.949,1)" font-size="10.07" fill="#151515">ank</text>
<text transform="translate(53.13,1097.50) scale(0.964,1)" font-size="14.49" fill="#151515">Motor A</text>
<text transform="translate(53.15,1173.75) scale(0.947,1)" font-size="14.49" fill="#151515">Motor B</text>
<path d="M137.5,917.5L137.5,927.0" stroke="#151515" stroke-width="1.1" fill="none"/>
<path d="M137.5,936.0L135.1,927.0L139.9,927.0Z" fill="#151515"/>
<path d="M195.5,917.5L195.5,929.0" stroke="#151515" stroke-width="1.1" fill="none"/>
<path d="M195.5,938.0L193.1,929.0L197.9,929.0Z" fill="#151515"/>
<path d="M260.0,917.5L260.0,926.0" stroke="#151515" stroke-width="1.1" fill="none"/>
<path d="M260.0,935.0L257.6,926.0L262.4,926.0Z" fill="#151515"/>
<path d="M301.8,917.5L301.8,924.0" stroke="#151515" stroke-width="1.1" fill="none"/>
<path d="M301.8,933.0L299.4,924.0L304.1,924.0Z" fill="#151515"/>
<path d="M336.2,917.5L336.2,924.0" stroke="#151515" stroke-width="1.1" fill="none"/>
<path d="M336.2,933.0L333.9,924.0L338.6,924.0Z" fill="#151515"/>
<path d="M132.5,985.0L132.5,995.0" stroke="#151515" stroke-width="1.1" fill="none"/>
<path d="M132.5,1004.0L130.1,995.0L134.9,995.0Z" fill="#151515"/>
<path d="M190.8,985.0L190.8,996.0" stroke="#151515" stroke-width="1.1" fill="none"/>
<path d="M190.8,1005.0L188.3,996.0L193.2,996.0Z" fill="#151515"/>
<path d="M255.0,985.0L255.0,994.0" stroke="#151515" stroke-width="1.1" fill="none"/>
<path d="M255.0,1003.0L252.6,994.0L257.4,994.0Z" fill="#151515"/>
<path d="M296.2,985.0L296.2,992.5" stroke="#151515" stroke-width="1.1" fill="none"/>
<path d="M296.2,1001.5L293.9,992.5L298.6,992.5Z" fill="#151515"/>
<path d="M331.8,985.0L331.8,992.5" stroke="#151515" stroke-width="1.1" fill="none"/>
<path d="M331.8,1001.5L329.4,992.5L334.1,992.5Z" fill="#151515"/>
<path d="M362.5,985.0L362.5,993.0" stroke="#151515" stroke-width="1.1" fill="none"/>
<path d="M362.5,1002.0L360.1,993.0L364.9,993.0Z" fill="#151515"/>
<path d="M392.5,985.0L392.5,992.5" stroke="#151515" stroke-width="1.1" fill="none"/>
<path d="M392.5,1001.5L390.1,992.5L394.9,992.5Z" fill="#151515"/>
<path d="M115.5,1060.0L115.5,1072.0" stroke="#151515" stroke-width="1.1" fill="none"/>
<path d="M115.5,1081.0L113.1,1072.0L117.9,1072.0Z" fill="#151515"/>
<path d="M142.5,1060.0L142.5,1077.0" stroke="#151515" stroke-width="1.1" fill="none"/>
<path d="M142.5,1086.0L140.1,1077.0L144.9,1077.0Z" fill="#151515"/>
<path d="M168.2,1060.0L168.2,1072.0" stroke="#151515" stroke-width="1.1" fill="none"/>
<path d="M168.2,1081.0L165.8,1072.0L170.7,1072.0Z" fill="#151515"/>
<path d="M205.5,1060.0L205.5,1072.5" stroke="#151515" stroke-width="1.1" fill="none"/>
<path d="M205.5,1081.5L203.1,1072.5L207.9,1072.5Z" fill="#151515"/>
<path d="M252.0,1060.0L252.0,1076.0" stroke="#151515" stroke-width="1.1" fill="none"/>
<path d="M252.0,1085.0L249.6,1076.0L254.4,1076.0Z" fill="#151515"/>
<path d="M331.2,1060.0L331.2,1076.0" stroke="#151515" stroke-width="1.1" fill="none"/>
<path d="M331.2,1085.0L328.9,1076.0L333.6,1076.0Z" fill="#151515"/>
<path d="M360.8,1060.0L360.8,1071.0" stroke="#151515" stroke-width="1.1" fill="none"/>
<path d="M360.8,1080.0L358.4,1071.0L363.1,1071.0Z" fill="#151515"/>
<path d="M387.5,1060.0L387.5,1071.5" stroke="#151515" stroke-width="1.1" fill="none"/>
<path d="M387.5,1080.5L385.1,1071.5L389.9,1071.5Z" fill="#151515"/>
<path d="M412.5,1060.0L412.5,1075.5" stroke="#151515" stroke-width="1.1" fill="none"/>
<path d="M412.5,1084.5L410.1,1075.5L414.9,1075.5Z" fill="#151515"/>
<path d="M117.5,1135.0L117.5,1146.0" stroke="#151515" stroke-width="1.1" fill="none"/>
<path d="M117.5,1155.0L115.1,1146.0L119.9,1146.0Z" fill="#151515"/>
<path d="M143.2,1135.0L143.2,1151.5" stroke="#151515" stroke-width="1.1" fill="none"/>
<path d="M143.2,1160.5L140.8,1151.5L145.7,1151.5Z" fill="#151515"/>
<path d="M170.0,1135.0L170.0,1146.0" stroke="#151515" stroke-width="1.1" fill="none"/>
<path d="M170.0,1155.0L167.6,1146.0L172.4,1146.0Z" fill="#151515"/>
<path d="M207.5,1135.0L207.5,1146.5" stroke="#151515" stroke-width="1.1" fill="none"/>
<path d="M207.5,1155.5L205.1,1146.5L209.9,1146.5Z" fill="#151515"/>
<path d="M255.0,1135.0L255.0,1151.0" stroke="#151515" stroke-width="1.1" fill="none"/>
<path d="M255.0,1160.0L252.6,1151.0L257.4,1151.0Z" fill="#151515"/>
<path d="M332.8,1135.0L332.8,1150.5" stroke="#151515" stroke-width="1.1" fill="none"/>
<path d="M332.8,1159.5L330.4,1150.5L335.2,1150.5Z" fill="#151515"/>
<path d="M363.3,1135.0L363.3,1145.5" stroke="#151515" stroke-width="1.1" fill="none"/>
<path d="M363.3,1154.5L360.9,1145.5L365.7,1145.5Z" fill="#151515"/>
<path d="M386.3,1135.0L386.3,1146.0" stroke="#151515" stroke-width="1.1" fill="none"/>
<path d="M386.3,1155.0L383.9,1146.0L388.7,1146.0Z" fill="#151515"/>
<path d="M410.1,1135.0L410.1,1150.0" stroke="#151515" stroke-width="1.1" fill="none"/>
<path d="M410.1,1159.0L407.7,1150.0L412.5,1150.0Z" fill="#151515"/>
<g transform="translate(-1,377)">
<path d="M1001.8,725V752M1016.4,725V752" stroke="#151515" stroke-width="1.25" fill="none" stroke-dasharray="9,3" stroke-linejoin="round"/>
<ellipse cx="1008.6" cy="767.6" rx="19.7" ry="20.5" stroke="#151515" stroke-width="1.25" fill="#fff" stroke-dasharray="9,3" stroke-linejoin="round"/>
<ellipse cx="1010" cy="767.6" rx="13" ry="14" stroke="#151515" stroke-width="1.15" fill="none" stroke-linejoin="round"/>
<ellipse cx="1011" cy="767.6" rx="9.5" ry="11" stroke="#151515" stroke-width="1.8" fill="none"/>
<ellipse cx="1012" cy="767.6" rx="6" ry="8" stroke="#151515" stroke-width="1.15" fill="none" stroke-linejoin="round"/>
</g>
<g transform="translate(0,362)">
<path d="M994,725Q1015,735 1037,725M995,731Q1015,741 1037,731M996,738Q1016,747 1036,738" stroke="#151515" stroke-width="1.25" fill="none" stroke-dasharray="9,3" stroke-linejoin="round"/>
<path d="M993,700V725M1036.7,705V726" stroke="#151515" stroke-width="1.25" fill="none" stroke-dasharray="9,3" stroke-linejoin="round"/>
<path d="M1036,560V666M1040.4,669Q1046,687 1040.4,705M1036,666Q1042,668 1040.4,669M1040.4,705L1036.7,708" stroke="#151515" stroke-width="1.25" fill="none" stroke-dasharray="9,3" stroke-linejoin="round"/>
<path d="M1040,685q8,1 7,9q-1,6 -7,6" stroke="#151515" stroke-width="1.25" fill="none" stroke-dasharray="9,3" stroke-linejoin="round"/>
<path d="M993,682L1025,676L1025,690L993,696" stroke="#151515" stroke-width="1.25" fill="none" stroke-dasharray="9,3" stroke-linejoin="round"/>
<path d="M1000,672Q1015,678 1036,668" stroke="#151515" stroke-width="1.25" fill="none" stroke-dasharray="9,3" stroke-linejoin="round"/>
<path d="M906,704C905,690 915,676 932,672" stroke="#151515" stroke-width="1.25" fill="none" stroke-dasharray="9,3" stroke-linejoin="round"/>
<path d="M914,728L930,722L932,735L918,742" stroke="#151515" stroke-width="1.25" fill="none" stroke-dasharray="9,3" stroke-linejoin="round"/>
<path d="M1023,482L1055.5,493L1054.8,512M1023,482L1022.4,501.8" stroke="#151515" stroke-width="1.25" fill="none" stroke-dasharray="9,3" stroke-linejoin="round"/>
<ellipse cx="1032" cy="492" rx="2.5" ry="3.5" stroke="#151515" stroke-width="1" fill="none" stroke-dasharray="3,1.5"/>
<ellipse cx="1045" cy="497.4" rx="2.5" ry="3.5" stroke="#151515" stroke-width="1" fill="none" stroke-dasharray="3,1.5"/>
<path d="M960,516L983,519L995.6,508L1004.5,503L1011,499M1011,504.4L1054,522M1011,530L1039,524.7L1061,523.5L1060.5,532.4L1049,536L1041.5,541L1031,542.5L1016,547.6L999.5,552.7" stroke="#151515" stroke-width="1.25" fill="none" stroke-dasharray="9,3" stroke-linejoin="round"/>
<path d="M1012,505L1050,520M1012,507L1050,522" stroke="#151515" stroke-width="1.15" fill="none" stroke-linejoin="round"/>
<circle cx="1019.8" cy="502.5" r="2.8" stroke="#151515" stroke-width="1.2" fill="#fff" stroke-linejoin="round"/>
<circle cx="1047.8" cy="513.3" r="2.8" stroke="#151515" stroke-width="1.2" fill="#fff" stroke-linejoin="round"/>
<ellipse cx="1063" cy="517" rx="3" ry="4.5" stroke="#151515" stroke-width="1.2" fill="#fff" stroke-linejoin="round"/>
<path d="M1040,541L1036.4,620L1036,660" stroke="#151515" stroke-width="1.25" fill="none" stroke-dasharray="9,3" stroke-linejoin="round"/>
<path d="M998,594L1006,592L1007,587L1016,585L1018,590L1029,594L1030,632L1019,637L1008,641L998,645" stroke="#151515" stroke-width="1.25" fill="none" stroke-dasharray="9,3" stroke-linejoin="round"/>
<path d="M1006,588h9v14l-4,2v10l-5,1z" stroke="#151515" stroke-width="1.15" fill="none" stroke-linejoin="round"/>
<circle cx="1010.5" cy="592.5" r="2.6" stroke="#151515" stroke-width="1.15" fill="none" stroke-linejoin="round"/>
<circle cx="1010.5" cy="592.5" r="1" stroke="#151515" stroke-width="1.15" fill="none" stroke-linejoin="round"/>
<path d="M1018,592h10v12l-3,1v8l-4,1" stroke="#151515" stroke-width="1.15" fill="none" stroke-linejoin="round"/>
<path d="M999,620l8,-2v14l4,-1v10l-12,3z" stroke="#151515" stroke-width="1.15" fill="none" stroke-linejoin="round"/>
<circle cx="1003.5" cy="639" r="2.8" stroke="#151515" stroke-width="1.15" fill="none" stroke-linejoin="round"/>
<circle cx="1003.5" cy="639" r="1.1" stroke="#151515" stroke-width="1.15" fill="none" stroke-linejoin="round"/>
<text x="1012" y="603" font-size="6" fill="#151515" font-weight="bold">7B</text>
<text x="1023" y="598" font-size="6" fill="#151515" font-weight="bold">7B</text>
<text x="1024" y="607" font-size="6" fill="#151515" font-weight="bold">7B</text>
<text x="1010" y="626" font-size="6" fill="#151515" font-weight="bold">7B</text>
<path d="M997,560q3,4 1,8q-2,4 1,8M997,600q3,4 0,8" stroke="#151515" stroke-width="1.15" fill="none" stroke-linejoin="round"/>
<path d="M1009,570l4,-1l2,2" stroke="#151515" stroke-width="1.15" fill="none" stroke-linejoin="round"/>
<path d="M937,530L960,523L997,536.8L974,544.5Z" stroke="#151515" stroke-width="1.2" fill="#fff" stroke-linejoin="round"/>
<path d="M974,544.5L997,536.8L991.6,704L966.9,711.3Z" stroke="#151515" stroke-width="1.2" fill="#fff" stroke-linejoin="round"/>
<path d="M937,530L974,544.5L966.9,711.3L929.8,690.2L931.3,654.5L932,640L935,638L935,561L946,557L937,551Z" stroke="#151515" stroke-width="1.2" fill="#fff" stroke-linejoin="round"/>
<ellipse cx="962" cy="528" rx="1.6" ry="0.8" stroke="#151515" stroke-width="1.15" fill="none" stroke-linejoin="round"/>
<ellipse cx="970" cy="531" rx="1.6" ry="0.8" stroke="#151515" stroke-width="1.15" fill="none" stroke-linejoin="round"/>
<ellipse cx="978" cy="533" rx="1.6" ry="0.8" stroke="#151515" stroke-width="1.15" fill="none" stroke-linejoin="round"/>
<ellipse cx="985" cy="535" rx="1.6" ry="0.8" stroke="#151515" stroke-width="1.15" fill="none" stroke-linejoin="round"/>
<circle cx="949" cy="549" r="5" stroke="#151515" stroke-width="1.2" fill="#fff" stroke-linejoin="round"/>
<circle cx="949" cy="549" r="2.8" stroke="#151515" stroke-width="1.15" fill="none" stroke-linejoin="round"/>
<circle cx="961" cy="552" r="5" stroke="#151515" stroke-width="1.2" fill="#fff" stroke-linejoin="round"/>
<circle cx="961" cy="552" r="2.8" stroke="#151515" stroke-width="1.15" fill="none" stroke-linejoin="round"/>
<circle cx="940" cy="539" r="3.2" stroke="#151515" stroke-width="1.2" fill="#fff" stroke-linejoin="round"/>
<circle cx="940" cy="539" r="1.4" stroke="#151515" stroke-width="1.15" fill="none" stroke-linejoin="round"/>
<circle cx="971" cy="550" r="3.2" stroke="#151515" stroke-width="1.2" fill="#fff" stroke-linejoin="round"/>
<circle cx="971" cy="550" r="1.4" stroke="#151515" stroke-width="1.15" fill="none" stroke-linejoin="round"/>
<circle cx="985" cy="556" r="1.3" fill="#151515"/>
<circle cx="983" cy="600" r="1.3" fill="#151515"/>
<circle cx="979" cy="640" r="1.3" fill="#151515"/>
<circle cx="973" cy="690" r="1.3" fill="#151515"/>
<circle cx="962" cy="620" r="1.3" stroke="#151515" stroke-width="1.15" fill="none" stroke-linejoin="round"/>
<circle cx="950" cy="680" r="1.3" stroke="#151515" stroke-width="1.15" fill="none" stroke-linejoin="round"/>
<circle cx="988" cy="578" r="1.3" stroke="#151515" stroke-width="1.15" fill="none" stroke-linejoin="round"/>
<circle cx="933.5" cy="693" r="3.5" stroke="#151515" stroke-width="1.2" fill="#fff" stroke-linejoin="round"/>
<circle cx="933.5" cy="693" r="1.5" stroke="#151515" stroke-width="1.15" fill="none" stroke-linejoin="round"/>
<circle cx="963.3" cy="704" r="3.5" stroke="#151515" stroke-width="1.2" fill="#fff" stroke-linejoin="round"/>
<circle cx="963.3" cy="704" r="1.5" stroke="#151515" stroke-width="1.15" fill="none" stroke-linejoin="round"/>
</g>
<g transform="translate(0,364.5)">
<path d="M802.5,732L808,728L822,727L830,722L840,724L846,720L870,716L905,716L935,712L955,722L968,725L978,730L980.7,744.7L970,747L960,746L950,750L935,752L919.6,762.5L880,760L855,757L840,753L825.4,749.8L812,744L803,737Z" stroke="#151515" stroke-width="1.25" fill="#fff" stroke-dasharray="9,3" stroke-linejoin="round"/>
<path d="M825.4,753L840,756L880,763.5L919.6,765.5L950,753" stroke="#151515" stroke-width="1.25" fill="none" stroke-dasharray="9,3" stroke-linejoin="round"/>
<ellipse cx="812" cy="733" rx="3" ry="1.4" stroke="#151515" stroke-width="1.15" fill="none" stroke-linejoin="round"/>
<ellipse cx="948" cy="744" rx="3.5" ry="1.5" stroke="#151515" stroke-width="1.15" fill="none" stroke-linejoin="round"/>
<path d="M858.5,758.7V813.4M920.9,758.7V813.4" stroke="#151515" stroke-width="1.25" fill="none" stroke-dasharray="9,3" stroke-linejoin="round"/>
<path d="M858.5,790Q889,806 920.9,790" stroke="#151515" stroke-width="2" fill="none"/>
<path d="M858.5,808Q866,815 875,816L885,817L888,813V818Q905,818 920.9,811" stroke="#151515" stroke-width="1.15" fill="none" stroke-linejoin="round"/>
<path d="M864,799V813M867,799V814M871,800V814" stroke="#151515" stroke-width="1.15" fill="none" stroke-linejoin="round"/>
<path d="M849.6,692.5L873.8,685L903,695L878.9,702.7Z" stroke="#151515" stroke-width="1.2" fill="#fff" stroke-linejoin="round"/>
<path d="M849.6,692.5L878.9,702.7L878.9,749.8L849.6,742Z" stroke="#151515" stroke-width="1.2" fill="#fff" stroke-linejoin="round"/>
<path d="M878.9,702.7L903,695L903,739.6L878.9,749.8Z" stroke="#151515" stroke-width="1.2" fill="#fff" stroke-linejoin="round"/>
<ellipse cx="882" cy="692.5" rx="4.5" ry="2.2" stroke="#151515" stroke-width="1.15" fill="none" stroke-linejoin="round"/>
<circle cx="856" cy="692" r="0.9" stroke="#151515" stroke-width="1.15" fill="none" stroke-linejoin="round"/>
<circle cx="873" cy="687" r="0.9" stroke="#151515" stroke-width="1.15" fill="none" stroke-linejoin="round"/>
<circle cx="897" cy="695" r="0.9" stroke="#151515" stroke-width="1.15" fill="none" stroke-linejoin="round"/>
<circle cx="878" cy="700" r="0.9" stroke="#151515" stroke-width="1.15" fill="none" stroke-linejoin="round"/>
<circle cx="864" cy="707" r="0.9" fill="#151515"/>
<circle cx="874" cy="726" r="0.9" fill="#151515"/>
<g transform="translate(845,731) rotate(-25)" stroke="#151515" fill="#fff" stroke-width="1"><path d="M0,-6.5h8v13h-8z"/><path d="M8,-7.5h7v15h-7z"/><path d="M3,-6.5v13M5.5,-6.5v13M10,-7.5v15M12.5,-7.5v15" stroke-width="1.1"/><ellipse cx="15" cy="0" rx="2.5" ry="7.5"/><ellipse cx="0" cy="0" rx="3.8" ry="6.5"/><circle cx="0" cy="0" r="2.3" fill="none" stroke-width="1.2"/></g>
<g transform="translate(862,746.5) rotate(-25)" stroke="#151515" fill="#fff" stroke-width="1"><path d="M0,-6.5h8v13h-8z"/><path d="M8,-7.5h7v15h-7z"/><path d="M3,-6.5v13M5.5,-6.5v13M10,-7.5v15M12.5,-7.5v15" stroke-width="1.1"/><ellipse cx="15" cy="0" rx="2.5" ry="7.5"/><ellipse cx="0" cy="0" rx="3.8" ry="6.5"/><circle cx="0" cy="0" r="2.3" fill="none" stroke-width="1.2"/></g>
<ellipse cx="908" cy="698" rx="4" ry="10" stroke="#151515" stroke-width="3" fill="#fff" stroke-dasharray="1,1.2"/>
<ellipse cx="908" cy="698" rx="2.5" ry="8" stroke="#151515" stroke-width="0.8" fill="none"/>
<path d="M945,722L960,720L962,735L945,739Z" stroke="#151515" stroke-width="1.25" fill="none" stroke-dasharray="9,3" stroke-linejoin="round"/>
<path d="M887.8,719L915.8,711.6L945,718L910.7,725.6Z" stroke="#151515" stroke-width="1.2" fill="#fff" stroke-linejoin="round"/>
<path d="M887.8,719L910.7,725.6L910.7,751L887.8,742Z" stroke="#151515" stroke-width="1.2" fill="#fff" stroke-linejoin="round"/>
<path d="M910.7,725.6L945,718L945,739.6L910.7,751Z" stroke="#151515" stroke-width="1.2" fill="#fff" stroke-linejoin="round"/>
<rect x="904" y="714.5" width="10" height="5" fill="#151515" transform="rotate(-12 909 717)"/>
<circle cx="921" cy="731" r="1.8" stroke="#151515" stroke-width="1.2" fill="#fff" stroke-linejoin="round"/>
<circle cx="929" cy="729" r="1.8" stroke="#151515" stroke-width="1.2" fill="#fff" stroke-linejoin="round"/>
<circle cx="925" cy="738" r="1.8" stroke="#151515" stroke-width="1.2" fill="#fff" stroke-linejoin="round"/>
<circle cx="921" cy="745" r="1.8" stroke="#151515" stroke-width="1.2" fill="#fff" stroke-linejoin="round"/>
<circle cx="929" cy="743" r="1.8" stroke="#151515" stroke-width="1.2" fill="#fff" stroke-linejoin="round"/>
<circle cx="890.5" cy="731" r="0.9" stroke="#151515" stroke-width="1.15" fill="none" stroke-linejoin="round"/>
<circle cx="890.5" cy="734" r="0.9" stroke="#151515" stroke-width="1.15" fill="none" stroke-linejoin="round"/>
<circle cx="890.5" cy="737" r="0.9" stroke="#151515" stroke-width="1.15" fill="none" stroke-linejoin="round"/>
<circle cx="898" cy="739" r="0.9" fill="#151515"/>
<path d="M836,730l-3,-7l8,-2" stroke="#151515" stroke-width="1.25" fill="none" stroke-dasharray="9,3" stroke-linejoin="round"/>
</g>
<g transform="translate(-1,365)">
<path d="M800,756l11,-2.5v10l-9,2.5z" stroke="#151515" stroke-width="1.2" fill="#fff" stroke-linejoin="round"/>
<path d="M735,760.3L786,745.5A8,19 -20 0 1 803,781.5L731.8,805.3Q718,808 713,790Q710,772 735,760.3Z" stroke="#151515" stroke-width="1.2" fill="#fff" stroke-linejoin="round"/>
<path d="M781,747A8,19 -20 0 1 797,783.5" stroke="#151515" stroke-width="1.15" fill="none" stroke-linejoin="round"/>
<path d="M772,749Q787,764 786,786M760,753Q775,768 774,790" stroke="#151515" stroke-width="1.15" fill="none" stroke-linejoin="round"/>
<path d="M748,757L763,793.8" stroke="#151515" stroke-width="1.15" fill="none" stroke-linejoin="round"/>
<ellipse cx="743.3" cy="766.8" rx="7" ry="8.6" stroke="#151515" stroke-width="1.2" fill="#fff" stroke-linejoin="round" transform="rotate(-15 743.3 766.8)"/>
<ellipse cx="743.8" cy="766.8" rx="4" ry="5" stroke="#151515" stroke-width="1.15" fill="none" stroke-linejoin="round" transform="rotate(-15 743.8 766.8)"/>
<ellipse cx="751.5" cy="788" rx="7" ry="8.6" stroke="#151515" stroke-width="1.2" fill="#fff" stroke-linejoin="round" transform="rotate(-15 751.5 788)"/>
<ellipse cx="752" cy="788" rx="4" ry="5" stroke="#151515" stroke-width="1.15" fill="none" stroke-linejoin="round" transform="rotate(-15 752 788)"/>
</g>
<g transform="translate(923,944) scale(1.0)" stroke="#151515" fill="#fff" stroke-width="0.9"><path d="M8,1h12v11h-12z"/><circle cx="22" cy="6.5" r="5" /><circle cx="22" cy="6.5" r="3" fill="none"/><path d="M3,-11h9v14h-9z"/><ellipse cx="7.5" cy="-11" rx="4.5" ry="2"/><path d="M1,2l11,-2v11l-11,2z"/><path d="M1,7l11,-2" stroke-width="0.8"/><path d="M2,13h8v12h-8z"/><ellipse cx="6" cy="25" rx="4" ry="1.6"/></g>
<g transform="translate(946,962) scale(1.0)" stroke="#151515" fill="#fff" stroke-width="0.9"><path d="M8,1h12v11h-12z"/><circle cx="22" cy="6.5" r="5" /><circle cx="22" cy="6.5" r="3" fill="none"/><path d="M3,-11h9v14h-9z"/><ellipse cx="7.5" cy="-11" rx="4.5" ry="2"/><path d="M1,2l11,-2v11l-11,2z"/><path d="M1,7l11,-2" stroke-width="0.8"/><path d="M2,13h8v12h-8z"/><ellipse cx="6" cy="25" rx="4" ry="1.6"/></g>
<path d="M948.6,851.0L948.6,900.0" stroke="#ecd92a" stroke-width="1.3" fill="none"/>
<path d="M948.6,907.0L946.0,900.0L951.2,900.0Z" fill="#ecd92a"/>
<path d="M960.5,851.0L960.5,904.0" stroke="#ecd92a" stroke-width="1.3" fill="none"/>
<path d="M960.5,911.0L957.9,904.0L963.1,904.0Z" fill="#ecd92a"/>
<path d="M1054,844L1039,849M1077,849L1056,856" stroke="#ecd92a" stroke-width="1.3"/>
<circle cx="942" cy="840" r="10.3" fill="#0a0a0a"/>
<text transform="translate(937.49,846.50) scale(0.819,1)" font-size="18.84" fill="#fff">T</text>
<circle cx="966" cy="840" r="10.3" fill="#0a0a0a"/>
<text transform="translate(960.48,846.50) scale(0.873,1)" font-size="18.84" fill="#fff">P</text>
<circle cx="1061" cy="836" r="10.5" fill="#0a0a0a"/>
<text transform="translate(1052.46,841.50) scale(0.856,1)" font-size="15.17" fill="#fff">Rb</text>
<circle cx="1083.6" cy="842" r="10.5" fill="#0a0a0a"/>
<text transform="translate(1075.10,847.50) scale(0.787,1)" font-size="15.94" fill="#fff">Ra</text>
<text transform="translate(889.21,965.40) scale(0.766,1)" font-size="20.57" fill="#151515">21</text>
<path d="M909.0,958.0L915.0,958.0" stroke="#151515" stroke-width="1.1" fill="none"/>
<path d="M923.0,958.0L915.0,960.4L915.0,955.6Z" fill="#151515"/>
<path d="M844.5,1024.0L844.5,1090.0" stroke="#ecd92a" stroke-width="1.3" fill="none"/>
<path d="M844.5,1097.0L841.9,1090.0L847.1,1090.0Z" fill="#ecd92a"/>
<path d="M861.0,1024.0L861.0,1104.0" stroke="#ecd92a" stroke-width="1.3" fill="none"/>
<path d="M861.0,1111.0L858.4,1104.0L863.6,1104.0Z" fill="#ecd92a"/>
<path d="M705.5,1132.3L737.0,1132.3" stroke="#ecd92a" stroke-width="1.3" fill="none"/>
<path d="M744.0,1132.3L737.0,1134.9L737.0,1129.7Z" fill="#ecd92a"/>
<path d="M705.5,1154.0L742.7,1154.0" stroke="#ecd92a" stroke-width="1.3" fill="none"/>
<path d="M749.7,1154.0L742.7,1156.6L742.7,1151.4Z" fill="#ecd92a"/>
<text transform="translate(821.13,1021.70) scale(0.724,1)" font-size="18.41" fill="#151515">T</text>
<text transform="translate(829.41,1021.70) scale(0.967,1)" font-size="10.21" fill="#151515">ank</text>
<text transform="translate(858.39,1021.70) scale(0.823,1)" font-size="18.41" fill="#151515">P</text>
<text transform="translate(867.47,1021.70) scale(0.999,1)" font-size="11.30" fill="#151515">ressure</text>
<text transform="translate(657.13,1137.50) scale(0.971,1)" font-size="13.77" fill="#151515">Motor A</text>
<text transform="translate(657.13,1159.50) scale(0.970,1)" font-size="13.77" fill="#151515">Motor B</text>
<text transform="translate(254.14,1210.50) scale(0.908,1)" font-size="18.90" fill="#151515">Cables</text>
<path d="M34.1,1290.6A74.2,15.2 0 1 1 182.5,1290.6A74.2,15.2 0 1 1 34.1,1290.6" stroke="#151515" stroke-width="6.2" fill="none" stroke-linecap="round"/>
<path d="M34.1,1290.6A74.2,15.2 0 1 1 182.5,1290.6A74.2,15.2 0 1 1 34.1,1290.6" stroke="#fff" stroke-width="3.8000000000000003" fill="none" stroke-linecap="round"/>
<path d="M31.7,1298.5A75.0,15.2 0 1 1 181.7,1298.5A75.0,15.2 0 1 1 31.7,1298.5" stroke="#151515" stroke-width="6.2" fill="none" stroke-linecap="round"/>
<path d="M31.7,1298.5A75.0,15.2 0 1 1 181.7,1298.5A75.0,15.2 0 1 1 31.7,1298.5" stroke="#fff" stroke-width="3.8000000000000003" fill="none" stroke-linecap="round"/>
<path d="M34.1,1306.3A74.2,15.9 0 1 1 182.5,1306.3A74.2,15.9 0 1 1 34.1,1306.3" stroke="#151515" stroke-width="6.2" fill="none" stroke-linecap="round"/>
<path d="M34.1,1306.3A74.2,15.9 0 1 1 182.5,1306.3A74.2,15.9 0 1 1 34.1,1306.3" stroke="#fff" stroke-width="3.8000000000000003" fill="none" stroke-linecap="round"/>
<path d="M38.9,1314.2A71.8,15.2 0 1 1 182.5,1314.2A71.8,15.2 0 1 1 38.9,1314.2" stroke="#151515" stroke-width="6.2" fill="none" stroke-linecap="round"/>
<path d="M38.9,1314.2A71.8,15.2 0 1 1 182.5,1314.2A71.8,15.2 0 1 1 38.9,1314.2" stroke="#fff" stroke-width="3.8000000000000003" fill="none" stroke-linecap="round"/>
<path d="M41.4,1283.4C84.4,1298.5 156.1,1298.5 183.2,1318.1" stroke="#151515" stroke-width="6.2" fill="none" stroke-linecap="round"/>
<path d="M41.4,1283.4C84.4,1298.5 156.1,1298.5 183.2,1318.1" stroke="#fff" stroke-width="3.8000000000000003" fill="none" stroke-linecap="round"/>
<path d="M3,1296l14,-4l6,6l-14,5z" stroke="#151515" stroke-width="1.2" fill="#fff" stroke-linejoin="round"/>
<ellipse cx="6" cy="1300" rx="3.5" ry="4.5" stroke="#151515" stroke-width="1.2" fill="#fff" stroke-linejoin="round" transform="rotate(-15 6 1300)"/>
<circle cx="6" cy="1300" r="1.8" stroke="#151515" stroke-width="1.15" fill="none" stroke-linejoin="round"/>
<path d="M12,1308l14,-4l6,6l-14,5z" stroke="#151515" stroke-width="1.2" fill="#fff" stroke-linejoin="round"/>
<ellipse cx="14" cy="1311" rx="4" ry="4.5" stroke="#151515" stroke-width="2.5" fill="#fff"/>
<path d="M16,1316l12,-4l4,8l-12,4z" stroke="#151515" stroke-width="1.2" fill="#fff" stroke-linejoin="round"/>
<path d="M17,1318h5v4h-5z" stroke="#151515" stroke-width="1.15" fill="none" stroke-linejoin="round"/>
<path d="M186,1306l14,-6l6,3v12l-14,6l-6,-3z" stroke="#151515" stroke-width="1.2" fill="#fff" stroke-linejoin="round"/>
<ellipse cx="188" cy="1312" rx="3" ry="6" stroke="#151515" stroke-width="1.2" fill="#fff" stroke-linejoin="round"/>
<path d="M190,1304v14M194,1302v14M198,1301v14" stroke="#151515" stroke-width="1.15" fill="none" stroke-linejoin="round"/>
<path d="M203,1300l14,-5l10,2l5,10l-5,10l-12,2l-8,-5z" stroke="#151515" stroke-width="1.2" fill="#fff" stroke-linejoin="round"/>
<path d="M205,1303v14M208,1301v16M212,1300v18" stroke="#151515" stroke-width="1.15" fill="none" stroke-linejoin="round"/>
<circle cx="210" cy="1308" r="4" stroke="#151515" stroke-width="1.2" fill="#fff" stroke-linejoin="round"/>
<circle cx="210" cy="1308" r="2" stroke="#151515" stroke-width="1.15" fill="none" stroke-linejoin="round"/>
<path d="M60,1362C52,1361 50,1369 60,1370L112,1368C120,1367 120,1360 112,1360L62,1358" stroke="#151515" stroke-width="3.8" fill="none" stroke-linecap="round"/>
<path d="M60,1362C52,1361 50,1369 60,1370L112,1368C120,1367 120,1360 112,1360L62,1358" stroke="#fff" stroke-width="1.4" fill="none" stroke-linecap="round"/>
<path d="M78,1378L112,1370L150,1377" stroke="#151515" stroke-width="3.8" fill="none" stroke-linecap="round"/>
<path d="M78,1378L112,1370L150,1377" stroke="#fff" stroke-width="1.4" fill="none" stroke-linecap="round"/>
<path d="M50,1376l14,-4l4,3v12l-14,4l-4,-3z" stroke="#151515" stroke-width="1.2" fill="#fff" stroke-linejoin="round"/>
<path d="M52,1378v10" stroke="#151515" stroke-width="1.15" fill="none" stroke-linejoin="round"/>
<path d="M64,1373l18,-5l5,5v9l-18,5l-5,-4z" stroke="#151515" stroke-width="1.2" fill="#fff" stroke-linejoin="round"/>
<path d="M70,1371v14M75,1370v13" stroke="#151515" stroke-width="1.15" fill="none" stroke-linejoin="round"/>
<path d="M110,1360l14,-5l7,4l1,10l-14,5l-7,-4z" stroke="#151515" stroke-width="1.2" fill="#fff" stroke-linejoin="round"/>
<path d="M117,1358v14M121,1357v14" stroke="#151515" stroke-width="1.15" fill="none" stroke-linejoin="round"/>
<path d="M128,1370l10,-3l3,5v7l-10,3l-3,-4z" stroke="#151515" stroke-width="1.2" fill="#fff" stroke-linejoin="round"/>
<circle cx="134" cy="1374" r="2.5" stroke="#151515" stroke-width="1.2" fill="#fff" stroke-linejoin="round"/>
<path d="M141,1372l12,-3l4,5v6l-12,3l-4,-4z" stroke="#151515" stroke-width="1.2" fill="#fff" stroke-linejoin="round"/>
<path d="M146,1372v7M150,1371v7" stroke="#151515" stroke-width="1.15" fill="none" stroke-linejoin="round"/>
<path d="M140,1390l12,-3l6,6v8l-12,3l-6,-5z" stroke="#151515" stroke-width="1.2" fill="#fff" stroke-linejoin="round"/>
<ellipse cx="155" cy="1399" rx="4" ry="5" stroke="#151515" stroke-width="1.2" fill="#fff" stroke-linejoin="round" transform="rotate(-15 155 1399)"/>
<circle cx="155" cy="1401" r="1.8" stroke="#151515" stroke-width="1.15" fill="none" stroke-linejoin="round"/>
<path d="M34.1,1440.6A74.2,15.2 0 1 1 182.5,1440.6A74.2,15.2 0 1 1 34.1,1440.6" stroke="#151515" stroke-width="6.2" fill="none" stroke-linecap="round"/>
<path d="M34.1,1440.6A74.2,15.2 0 1 1 182.5,1440.6A74.2,15.2 0 1 1 34.1,1440.6" stroke="#fff" stroke-width="3.8000000000000003" fill="none" stroke-linecap="round"/>
<path d="M31.7,1448.5A75.0,15.2 0 1 1 181.7,1448.5A75.0,15.2 0 1 1 31.7,1448.5" stroke="#151515" stroke-width="6.2" fill="none" stroke-linecap="round"/>
<path d="M31.7,1448.5A75.0,15.2 0 1 1 181.7,1448.5A75.0,15.2 0 1 1 31.7,1448.5" stroke="#fff" stroke-width="3.8000000000000003" fill="none" stroke-linecap="round"/>
<path d="M34.1,1456.3A74.2,15.9 0 1 1 182.5,1456.3A74.2,15.9 0 1 1 34.1,1456.3" stroke="#151515" stroke-width="6.2" fill="none" stroke-linecap="round"/>
<path d="M34.1,1456.3A74.2,15.9 0 1 1 182.5,1456.3A74.2,15.9 0 1 1 34.1,1456.3" stroke="#fff" stroke-width="3.8000000000000003" fill="none" stroke-linecap="round"/>
<path d="M38.9,1464.2A71.8,15.2 0 1 1 182.5,1464.2A71.8,15.2 0 1 1 38.9,1464.2" stroke="#151515" stroke-width="6.2" fill="none" stroke-linecap="round"/>
<path d="M38.9,1464.2A71.8,15.2 0 1 1 182.5,1464.2A71.8,15.2 0 1 1 38.9,1464.2" stroke="#fff" stroke-width="3.8000000000000003" fill="none" stroke-linecap="round"/>
<path d="M41.4,1433.4C84.4,1448.5 156.1,1448.5 183.2,1468.1" stroke="#151515" stroke-width="6.2" fill="none" stroke-linecap="round"/>
<path d="M41.4,1433.4C84.4,1448.5 156.1,1448.5 183.2,1468.1" stroke="#fff" stroke-width="3.8000000000000003" fill="none" stroke-linecap="round"/>
<path d="M0,1441h20v11h-20z" stroke="#151515" stroke-width="1.2" fill="#fff" stroke-linejoin="round"/>
<path d="M4,1441v11M8,1441v11M12,1441v11M16,1441v11" stroke="#151515" stroke-width="1.15" fill="none" stroke-linejoin="round"/>
<path d="M20,1443h8v7h-8z" stroke="#151515" stroke-width="1.2" fill="#fff" stroke-linejoin="round"/>
<path d="M182,1450h12v10h-12z" stroke="#151515" stroke-width="1.2" fill="#fff" stroke-linejoin="round"/>
<path d="M194,1451h14v8h-14z" stroke="#151515" stroke-width="1.2" fill="#fff" stroke-linejoin="round"/>
<rect x="205" y="1451" width="12" height="8" fill="#151515"/>
<path d="M208,1451v8M211,1451v8M214,1451v8" stroke="#fff" stroke-width="0.8"/>
<path d="M377.5,1246.6L410.2,1260.8" stroke="#ecd92a" stroke-width="1.2" fill="none"/>
<path d="M404.7,1237.9L438.5,1251" stroke="#ecd92a" stroke-width="1.2" fill="none"/>
<path d="M472.4,1236.8L479,1239" stroke="#ecd92a" stroke-width="1.2" fill="none"/>
<path d="M536.7,1262L578.2,1279.4" stroke="#ecd92a" stroke-width="1.2" fill="none"/>
<path d="M520.4,1284.8L576,1305.6" stroke="#ecd92a" stroke-width="1.2" fill="none"/>
<path d="M491,1292.5L546.6,1314.3" stroke="#ecd92a" stroke-width="1.2" fill="none"/>
<path d="M444,1306.6V1420" stroke="#ecd92a" stroke-width="1.2" fill="none"/>
<path d="M472.4,1311V1340" stroke="#ecd92a" stroke-width="1.2" fill="none"/>
<path d="M490.5,1306V1390" stroke="#ecd92a" stroke-width="1.2" fill="none"/>
<path d="M518.8,1298V1345" stroke="#ecd92a" stroke-width="1.2" fill="none"/>
<path d="M458,1440L532,1469" stroke="#ecd92a" stroke-width="1.2" fill="none"/>
<path d="M400,1355L416,1359" stroke="#ecd92a" stroke-width="1.2" fill="none"/>
<path d="M556,1479L612,1501" stroke="#ecd92a" stroke-width="1.2" fill="none"/>
<path d="M455,1509L535,1532" stroke="#ecd92a" stroke-width="1.2" fill="none"/>
<path d="M492,1500L533,1514" stroke="#ecd92a" stroke-width="1.2" fill="none"/>
<path d="M345,1451L352,1453" stroke="#ecd92a" stroke-width="1.2" fill="none"/>
<path d="M312.7,1582V1636M370,1582V1636" stroke="#151515" stroke-width="1.25" fill="none" stroke-dasharray="9,3" stroke-linejoin="round"/>
<path d="M312.7,1613.6Q341,1624 369,1614.5" stroke="#151515" stroke-width="1.6" fill="none"/>
<path d="M312.7,1636Q341,1642 370,1636" stroke="#151515" stroke-width="1.25" fill="none" stroke-dasharray="9,3" stroke-linejoin="round"/>
<path d="M317,1616V1638M319.5,1616V1638M337,1626l-2,5l3,-1" stroke="#151515" stroke-width="1.15" fill="none" stroke-linejoin="round"/>
<path d="M261,1560L264,1553L273.6,1548L283,1548L287,1545L304.5,1540L330,1532L358,1531L395,1548L405,1556L410,1562.7L425.5,1565.5L424.5,1569L377,1584.5L366.4,1582L322.7,1582L286.4,1574.5Z" stroke="#151515" stroke-width="1.25" fill="#fff" stroke-dasharray="9,3" stroke-linejoin="round"/>
<path d="M263,1563L286.4,1577.5L322.7,1585L366.4,1585L377,1587.5L425,1572" stroke="#151515" stroke-width="1.25" fill="none" stroke-dasharray="9,3" stroke-linejoin="round"/>
<ellipse cx="294" cy="1549" rx="4" ry="2" stroke="#151515" stroke-width="1.25" fill="none" stroke-dasharray="9,3" stroke-linejoin="round"/>
<ellipse cx="388" cy="1574" rx="4" ry="1.8" stroke="#151515" stroke-width="1.25" fill="none" stroke-dasharray="9,3" stroke-linejoin="round"/>
<ellipse cx="375" cy="1580" rx="2.5" ry="1.2" stroke="#151515" stroke-width="1.15" fill="none" stroke-linejoin="round"/>
<path d="M398,1570L420,1565M398,1572L420,1567" stroke="#151515" stroke-width="1.15" fill="none" stroke-linejoin="round"/>
<path d="M276,1580l8,-6l7,5l-1,6l-8,6z" stroke="#151515" stroke-width="1" fill="#fff" stroke-dasharray="3,1.5"/>
<circle cx="271" cy="1585" r="6.5" stroke="#151515" stroke-width="1.2" fill="#fff" stroke-dasharray="2.5,1.5"/>
<circle cx="271" cy="1585" r="3.5" stroke="#151515" stroke-width="1" fill="none" stroke-dasharray="2,1.5"/>
<text transform="translate(282,1598) rotate(-50)" font-size="7" fill="#151515">SO</text>
<path d="M473,1378L468,1486M512,1366L508,1484" stroke="#151515" stroke-width="1.25" fill="none" stroke-dasharray="9,3" stroke-linejoin="round"/>
<path d="M468,1486Q488,1496 510,1486L510,1500L468,1500Z" stroke="#151515" stroke-width="1.25" fill="#fff" stroke-dasharray="9,3" stroke-linejoin="round"/>
<path d="M468,1500V1540M510,1500V1540" stroke="#151515" stroke-width="1.25" fill="none" stroke-dasharray="9,3" stroke-linejoin="round"/>
<path d="M454.5,1508L498,1502L498,1517L454.5,1523Z" stroke="#151515" stroke-width="1.25" fill="#fff" stroke-dasharray="9,3" stroke-linejoin="round"/>
<ellipse cx="462" cy="1527" rx="7" ry="8" stroke="#151515" stroke-width="1.25" fill="#fff" stroke-dasharray="9,3" stroke-linejoin="round" transform="rotate(-20 462 1527)"/>
<circle cx="461" cy="1527" r="1.2" fill="#151515"/>
<path d="M468,1540Q489,1550 510,1540M469,1546Q489,1556 509,1546M470,1552Q489,1561 508,1552" stroke="#151515" stroke-width="1.25" fill="none" stroke-dasharray="9,3" stroke-linejoin="round"/>
<path d="M474,1558V1572M492,1558V1572" stroke="#151515" stroke-width="1.25" fill="none" stroke-dasharray="9,3" stroke-linejoin="round"/>
<ellipse cx="482" cy="1589" rx="19" ry="20" stroke="#151515" stroke-width="1.25" fill="#fff" stroke-dasharray="9,3" stroke-linejoin="round"/>
<ellipse cx="484" cy="1589" rx="12.5" ry="13.5" stroke="#151515" stroke-width="1.15" fill="none" stroke-linejoin="round"/>
<ellipse cx="485" cy="1589" rx="9" ry="10.5" stroke="#151515" stroke-width="1.8" fill="none"/>
<ellipse cx="486" cy="1589" rx="5.5" ry="7.5" stroke="#151515" stroke-width="1.15" fill="none" stroke-linejoin="round"/>
<path d="M438,1344L455,1340L462,1333L470,1332L485,1338L500,1336L530,1344L531,1360L510,1365L490,1372L472,1376" stroke="#151515" stroke-width="1.25" fill="none" stroke-dasharray="9,3" stroke-linejoin="round"/>
<path d="M497,1326L529,1336L530,1355M497,1326L496,1342" stroke="#151515" stroke-width="1.25" fill="none" stroke-dasharray="9,3" stroke-linejoin="round"/>
<path d="M498,1343L525,1352M498,1346L525,1355" stroke="#151515" stroke-width="1.15" fill="none" stroke-linejoin="round"/>
<circle cx="492" cy="1335" r="2.8" stroke="#151515" stroke-width="1.2" fill="#fff" stroke-linejoin="round"/>
<circle cx="520" cy="1349" r="2.8" stroke="#151515" stroke-width="1.2" fill="#fff" stroke-linejoin="round"/>
<path d="M472,1406L504,1398L503,1450L474,1462" stroke="#151515" stroke-width="1.25" fill="none" stroke-dasharray="9,3" stroke-linejoin="round"/>
<path d="M478,1410l5,-2v10l-5,2zM490,1406l5,-2v10l-5,2zM478,1435l5,-2v10l-5,2z" stroke="#151515" stroke-width="1.15" fill="none" stroke-linejoin="round"/>
<circle cx="481" cy="1412" r="2.5" stroke="#151515" stroke-width="1.15" fill="none" stroke-linejoin="round"/>
<circle cx="493" cy="1408" r="2.5" stroke="#151515" stroke-width="1.15" fill="none" stroke-linejoin="round"/>
<circle cx="477" cy="1459" r="2.5" stroke="#151515" stroke-width="1.15" fill="none" stroke-linejoin="round"/>
<path d="M417,1357L437,1350L472,1362L451,1369Z" stroke="#151515" stroke-width="1.25" fill="#fff" stroke-dasharray="9,3" stroke-linejoin="round"/>
<path d="M451,1369L472,1362L466,1520L443,1527" stroke="#151515" stroke-width="1.25" fill="none" stroke-dasharray="9,3" stroke-linejoin="round"/>
<path d="M417,1357L451,1369L443,1527L410,1512L412,1460L418,1455L418,1440L413,1436L415,1384L419,1380Z" stroke="#151515" stroke-width="1.25" fill="#fff" stroke-dasharray="9,3" stroke-linejoin="round"/>
<ellipse cx="437" cy="1358" rx="1.5" ry="0.8" stroke="#151515" stroke-width="1.15" fill="none" stroke-linejoin="round"/>
<ellipse cx="445" cy="1361" rx="1.5" ry="0.8" stroke="#151515" stroke-width="1.15" fill="none" stroke-linejoin="round"/>
<ellipse cx="452" cy="1363" rx="1.5" ry="0.8" stroke="#151515" stroke-width="1.15" fill="none" stroke-linejoin="round"/>
<circle cx="427" cy="1373" r="5.2" stroke="#151515" stroke-width="1.2" fill="#fff" stroke-linejoin="round"/>
<circle cx="427" cy="1373" r="3" stroke="#151515" stroke-width="1.15" fill="none" stroke-linejoin="round"/>
<circle cx="438" cy="1377" r="5.2" stroke="#151515" stroke-width="1.2" fill="#fff" stroke-linejoin="round"/>
<circle cx="438" cy="1377" r="3" stroke="#151515" stroke-width="1.15" fill="none" stroke-linejoin="round"/>
<circle cx="420" cy="1364" r="3.6" stroke="#151515" stroke-width="1.2" fill="#fff" stroke-linejoin="round"/>
<circle cx="420" cy="1364" r="1.6" stroke="#151515" stroke-width="1.15" fill="none" stroke-linejoin="round"/>
<circle cx="448" cy="1375" r="3.6" stroke="#151515" stroke-width="1.2" fill="#fff" stroke-linejoin="round"/>
<circle cx="448" cy="1375" r="1.6" stroke="#151515" stroke-width="1.15" fill="none" stroke-linejoin="round"/>
<circle cx="420" cy="1406" r="5.2" stroke="#151515" stroke-width="1.2" fill="#fff" stroke-linejoin="round"/>
<circle cx="420" cy="1406" r="3" stroke="#151515" stroke-width="1.15" fill="none" stroke-linejoin="round"/>
<circle cx="442" cy="1422" r="5.2" stroke="#151515" stroke-width="1.2" fill="#fff" stroke-linejoin="round"/>
<circle cx="442" cy="1422" r="3" stroke="#151515" stroke-width="1.15" fill="none" stroke-linejoin="round"/>
<circle cx="460" cy="1380" r="1.2" stroke="#151515" stroke-width="1.15" fill="none" stroke-linejoin="round"/>
<circle cx="453" cy="1456" r="1.2" stroke="#151515" stroke-width="1.15" fill="none" stroke-linejoin="round"/>
<circle cx="443" cy="1478" r="1.2" stroke="#151515" stroke-width="1.15" fill="none" stroke-linejoin="round"/>
<circle cx="428" cy="1490" r="1.2" stroke="#151515" stroke-width="1.15" fill="none" stroke-linejoin="round"/>
<circle cx="413" cy="1508" r="3.2" stroke="#151515" stroke-width="1.2" fill="#fff" stroke-linejoin="round"/>
<circle cx="413" cy="1508" r="1.4" stroke="#151515" stroke-width="1.15" fill="none" stroke-linejoin="round"/>
<circle cx="441" cy="1520" r="3.2" stroke="#151515" stroke-width="1.2" fill="#fff" stroke-linejoin="round"/>
<circle cx="441" cy="1520" r="1.4" stroke="#151515" stroke-width="1.15" fill="none" stroke-linejoin="round"/>
<path d="M403.6,1261.9L493.1,1234.6L536.7,1252.1L536.7,1271.7L522.6,1294.6L462.6,1314.3L440.7,1303.4L398.2,1285.9Z" stroke="#151515" stroke-width="1.2" fill="#fff" stroke-linejoin="round"/>
<path d="M440.7,1303.4L446.2,1280.5" stroke="#151515" stroke-width="2" fill="none"/>
<path d="M400,1288L420,1297" stroke="#151515" stroke-width="2.2" fill="none"/>
<ellipse cx="494.2" cy="1240" rx="1.8" ry="1" fill="#151515"/>
<ellipse cx="454.3" cy="1265.2" rx="1.8" ry="1" fill="#151515"/>
<ellipse cx="532.4" cy="1260.8" rx="1.8" ry="1" fill="#151515"/>
<ellipse cx="520" cy="1283.7" rx="1.5" ry="2" stroke="#151515" stroke-width="1.15" fill="none" stroke-linejoin="round"/>
<ellipse cx="491" cy="1292.5" rx="1.5" ry="2" stroke="#151515" stroke-width="1.15" fill="none" stroke-linejoin="round"/>
<g transform="translate(395,1234.5) rotate(22)" stroke="#151515" fill="#fff" stroke-width="0.9"><path d="M0,-3h5v6h-5z"/><path d="M5,-2h8v4h-8z"/><ellipse cx="0" cy="0" rx="1.5" ry="3"/></g>
<g transform="translate(462,1233.5) rotate(22)" stroke="#151515" fill="#fff" stroke-width="0.9"><path d="M0,-3h5v6h-5z"/><path d="M5,-2h8v4h-8z"/><ellipse cx="0" cy="0" rx="1.5" ry="3"/></g>
<g transform="translate(366,1242) rotate(22)" stroke="#151515" fill="#fff" stroke-width="0.9"><path d="M0,-3h5v6h-5z"/><path d="M5,-2h8v4h-8z"/><ellipse cx="0" cy="0" rx="1.5" ry="3"/></g>
<g transform="translate(311.8,1317.7) rotate(22)" stroke="#151515" fill="#fff" stroke-width="0.9"><path d="M0,-3h5v6h-5z"/><path d="M5,-2h8v4h-8z"/><ellipse cx="0" cy="0" rx="1.5" ry="3"/></g>
<g transform="translate(305,1379) rotate(22)" stroke="#151515" fill="#fff" stroke-width="0.9"><path d="M0,-3h5v6h-5z"/><path d="M5,-2h8v4h-8z"/><ellipse cx="0" cy="0" rx="1.5" ry="3"/></g>
<circle cx="424.4" cy="1245.5" r="2.21" fill="#fff" stroke="#151515" stroke-width="2.6"/>
<circle cx="396" cy="1254.3" r="2.21" fill="#fff" stroke="#151515" stroke-width="2.6"/>
<circle cx="554.2" cy="1296.8" r="2.21" fill="#fff" stroke="#151515" stroke-width="2.6"/>
<circle cx="525.8" cy="1305.6" r="2.21" fill="#fff" stroke="#151515" stroke-width="2.6"/>
<circle cx="336.4" cy="1327.3" r="2.21" fill="#fff" stroke="#151515" stroke-width="2.6"/>
<circle cx="330.4" cy="1388.6" r="2.21" fill="#fff" stroke="#151515" stroke-width="2.6"/>
<circle cx="326.8" cy="1458" r="2.21" fill="#fff" stroke="#151515" stroke-width="2.6"/>
<g transform="translate(580,1308) rotate(202)" stroke="#151515" fill="#fff" stroke-width="0.9"><path d="M0,-3h5v6h-5z"/><path d="M5,-2h8v4h-8z"/><ellipse cx="0" cy="0" rx="1.5" ry="3"/></g>
<g transform="translate(551,1317) rotate(202)" stroke="#151515" fill="#fff" stroke-width="0.9"><path d="M0,-3h5v6h-5z"/><path d="M5,-2h8v4h-8z"/><ellipse cx="0" cy="0" rx="1.5" ry="3"/></g>
<g transform="translate(303.6,1448.6) rotate(22)" stroke="#151515" fill="#fff" stroke-width="0.9"><path d="M0,-3h5v6h-5z"/><path d="M5,-2h8v4h-8z"/><ellipse cx="0" cy="0" rx="1.5" ry="3"/></g>
<g transform="translate(336.4,1448.6) rotate(22)" stroke="#151515" fill="#fff" stroke-width="0.9"><path d="M0,-3h5v6h-5z"/><path d="M5,-2h8v4h-8z"/><ellipse cx="0" cy="0" rx="1.5" ry="3"/></g>
<circle cx="579.3" cy="1279.4" r="2.04" fill="#fff" stroke="#151515" stroke-width="2.6"/>
<circle cx="554.2" cy="1269.5" r="2.21" fill="#fff" stroke="#151515" stroke-width="2.6"/>
<ellipse cx="556.4" cy="1279" rx="5.5" ry="6.5" stroke="#151515" stroke-width="1.2" fill="#fff" stroke-linejoin="round"/>
<ellipse cx="558" cy="1280" rx="3.5" ry="4.5" stroke="#151515" stroke-width="1.15" fill="none" stroke-linejoin="round"/>
<path d="M348.6,1328.6L366.9,1324L370.4,1335.5L407.3,1326.7L410.5,1330L404,1452.7L394.2,1456.8L389.5,1469L344.5,1485.4L340.4,1482.7Z" stroke="#151515" stroke-width="1.2" fill="#fff" stroke-linejoin="round"/>
<path d="M322,1321L415.4,1358.6" stroke="#ecd92a" stroke-width="1.2" fill="none"/>
<path d="M316,1383L412.7,1421" stroke="#ecd92a" stroke-width="1.2" fill="none"/>
<path d="M313,1452L410,1491" stroke="#ecd92a" stroke-width="1.2" fill="none"/>
<path d="M383,1467.7L410,1477" stroke="#ecd92a" stroke-width="1.2" fill="none"/>
<ellipse cx="361.4" cy="1338" rx="1.6" ry="1.9" stroke="#151515" stroke-width="1.15" fill="none" stroke-linejoin="round"/>
<ellipse cx="355" cy="1398.7" rx="1.6" ry="1.9" stroke="#151515" stroke-width="1.15" fill="none" stroke-linejoin="round"/>
<ellipse cx="351.4" cy="1469" rx="1.6" ry="1.9" stroke="#151515" stroke-width="1.15" fill="none" stroke-linejoin="round"/>
<ellipse cx="383" cy="1467.7" rx="1.6" ry="1.9" stroke="#151515" stroke-width="1.15" fill="none" stroke-linejoin="round"/>
<path d="M534,1419L597,1398L602,1408L599,1520L597,1545.5L542,1563.6L529,1560L531,1520Z" stroke="#151515" stroke-width="1.2" fill="#fff" stroke-linejoin="round"/>
<path d="M535,1421L546,1427L548,1431" stroke="#151515" stroke-width="2" fill="none"/>
<path d="M555.6,1478.2L610,1499" stroke="#ecd92a" stroke-width="1.2" fill="none"/>
<path d="M552.4,1547.8L606,1569" stroke="#ecd92a" stroke-width="1.2" fill="none"/>
<path d="M584.3,1547L638,1568" stroke="#ecd92a" stroke-width="1.2" fill="none"/>
<path d="M597,1398L602,1408" stroke="#151515" stroke-width="1.6" fill="none"/>
<ellipse cx="555.6" cy="1478.2" rx="2.2" ry="3" stroke="#151515" stroke-width="1.15" fill="none" stroke-linejoin="round" transform="rotate(20 555.6 1478.2)"/>
<ellipse cx="552.4" cy="1547.8" rx="2.2" ry="3" stroke="#151515" stroke-width="1.15" fill="none" stroke-linejoin="round" transform="rotate(20 552.4 1547.8)"/>
<ellipse cx="584.3" cy="1547" rx="2.2" ry="3" stroke="#151515" stroke-width="1.15" fill="none" stroke-linejoin="round" transform="rotate(20 584.3 1547)"/>
<circle cx="587.6" cy="1491.3" r="2.29" fill="#fff" stroke="#151515" stroke-width="2.6"/>
<circle cx="584.3" cy="1560.8" r="2.29" fill="#fff" stroke="#151515" stroke-width="2.6"/>
<circle cx="615.4" cy="1560" r="2.29" fill="#fff" stroke="#151515" stroke-width="2.6"/>
<g transform="translate(621,1504) rotate(202)" stroke="#151515" fill="#fff" stroke-width="0.9"><path d="M0,-3h5v6h-5z"/><path d="M5,-2h8v4h-8z"/><ellipse cx="0" cy="0" rx="1.5" ry="3"/></g>
<g transform="translate(617,1574) rotate(202)" stroke="#151515" fill="#fff" stroke-width="0.9"><path d="M0,-3h5v6h-5z"/><path d="M5,-2h8v4h-8z"/><ellipse cx="0" cy="0" rx="1.5" ry="3"/></g>
<g transform="translate(648,1573) rotate(202)" stroke="#151515" fill="#fff" stroke-width="0.9"><path d="M0,-3h5v6h-5z"/><path d="M5,-2h8v4h-8z"/><ellipse cx="0" cy="0" rx="1.5" ry="3"/></g>
<path d="M359,1507C362,1497 370,1492 377,1492.7L406,1507C412,1515 413,1528 410,1534.5C405,1545 400,1549 395.5,1549" stroke="#151515" stroke-width="1.25" fill="none" stroke-dasharray="9,3" stroke-linejoin="round"/>
<path d="M377,1495L404,1508" stroke="#151515" stroke-width="1.25" fill="none" stroke-dasharray="9,3" stroke-linejoin="round"/>
<path d="M381,1503C389,1503 396,1512 397,1524C398,1536 392,1546 386,1548" stroke="#151515" stroke-width="1.25" fill="none" stroke-dasharray="9,3" stroke-linejoin="round"/>
<path d="M364.5,1522L372,1520L385.5,1524L385.5,1549L372,1551L364.5,1549Z" stroke="#151515" stroke-width="1.25" fill="#fff" stroke-dasharray="9,3" stroke-linejoin="round"/>
<path d="M372,1520V1551" stroke="#151515" stroke-width="1.25" fill="none" stroke-dasharray="9,3" stroke-linejoin="round"/>
<path d="M303.6,1519L326.4,1512.4L354.5,1519.6L331.8,1527.3Z" stroke="#151515" stroke-width="1.2" fill="#fff" stroke-linejoin="round"/>
<path d="M303.6,1519L331.8,1527.3L331.8,1571L303.6,1561Z" stroke="#151515" stroke-width="1.2" fill="#fff" stroke-linejoin="round"/>
<path d="M331.8,1527.3L354.5,1519.6L355.5,1531.8L368,1534.5L368,1558L331.8,1571Z" stroke="#151515" stroke-width="1.2" fill="#fff" stroke-linejoin="round"/>
<path d="M355.5,1531.8L361,1530.5L368,1534.5" stroke="#151515" stroke-width="1.15" fill="none" stroke-linejoin="round"/>
<ellipse cx="335.5" cy="1518" rx="5" ry="2.4" stroke="#151515" stroke-width="1.15" fill="none" stroke-linejoin="round"/>
<circle cx="307" cy="1519" r="1" stroke="#151515" stroke-width="1.15" fill="none" stroke-linejoin="round"/>
<circle cx="327" cy="1513" r="1" stroke="#151515" stroke-width="1.15" fill="none" stroke-linejoin="round"/>
<circle cx="350" cy="1520" r="1" stroke="#151515" stroke-width="1.15" fill="none" stroke-linejoin="round"/>
<circle cx="331" cy="1525" r="1" stroke="#151515" stroke-width="1.15" fill="none" stroke-linejoin="round"/>
<circle cx="310" cy="1548" r="5.5" stroke="#151515" stroke-width="1.2" fill="#fff" stroke-linejoin="round"/>
<circle cx="310" cy="1548" r="3.2" stroke="#151515" stroke-width="1.15" fill="none" stroke-linejoin="round"/>
<circle cx="326" cy="1560" r="5.5" stroke="#151515" stroke-width="1.2" fill="#fff" stroke-linejoin="round"/>
<circle cx="326" cy="1560" r="3.2" stroke="#151515" stroke-width="1.15" fill="none" stroke-linejoin="round"/>
<circle cx="317" cy="1531" r="0.9" fill="#151515"/>
<circle cx="308" cy="1537" r="0.6" fill="#151515"/>
<circle cx="327" cy="1551" r="0.6" fill="#151515"/>
<circle cx="353" cy="1545" r="1.1" stroke="#151515" stroke-width="1.15" fill="none" stroke-linejoin="round"/>
<circle cx="358" cy="1543" r="1.1" stroke="#151515" stroke-width="1.15" fill="none" stroke-linejoin="round"/>
<circle cx="349" cy="1549" r="1.1" stroke="#151515" stroke-width="1.15" fill="none" stroke-linejoin="round"/>
<circle cx="357" cy="1550" r="1.1" stroke="#151515" stroke-width="1.15" fill="none" stroke-linejoin="round"/>
<circle cx="353" cy="1554" r="1.1" stroke="#151515" stroke-width="1.15" fill="none" stroke-linejoin="round"/>
<circle cx="361" cy="1548" r="1.1" stroke="#151515" stroke-width="1.15" fill="none" stroke-linejoin="round"/>
<circle cx="348" cy="1555" r="1.1" stroke="#151515" stroke-width="1.15" fill="none" stroke-linejoin="round"/>
<circle cx="359" cy="1556" r="1.1" stroke="#151515" stroke-width="1.15" fill="none" stroke-linejoin="round"/>
<text transform="translate(383.77,1211.50) scale(0.926,1)" font-size="20.00" fill="#151515">28</text>
<text transform="translate(414.30,1211.50) scale(1.005,1)" font-size="20.00" fill="#151515">27</text>
<text transform="translate(457.10,1211.50) scale(0.981,1)" font-size="20.29" fill="#151515">47</text>
<text transform="translate(499.61,1211.50) scale(0.986,1)" font-size="20.00" fill="#151515">46</text>
<text transform="translate(542.11,1211.50) scale(0.976,1)" font-size="20.00" fill="#151515">48</text>
<text transform="translate(570.62,1211.50) scale(0.957,1)" font-size="20.00" fill="#151515">49</text>
<path d="M394.5,1215.0L394.5,1222.0" stroke="#151515" stroke-width="1.1" fill="none"/>
<path d="M394.5,1231.0L392.1,1222.0L396.9,1222.0Z" fill="#151515"/>
<path d="M425.5,1215.0L425.5,1233.0" stroke="#151515" stroke-width="1.1" fill="none"/>
<path d="M425.5,1242.0L423.1,1233.0L427.9,1233.0Z" fill="#151515"/>
<path d="M467.3,1215.0L467.3,1222.0" stroke="#151515" stroke-width="1.1" fill="none"/>
<path d="M467.3,1231.0L464.9,1222.0L469.7,1222.0Z" fill="#151515"/>
<path d="M509.8,1215.0L509.8,1231.0" stroke="#151515" stroke-width="1.1" fill="none"/>
<path d="M509.8,1240.0L507.4,1231.0L512.2,1231.0Z" fill="#151515"/>
<path d="M552.0,1215.0L552.0,1257.0" stroke="#151515" stroke-width="1.1" fill="none"/>
<path d="M552.0,1266.0L549.6,1257.0L554.4,1257.0Z" fill="#151515"/>
<path d="M580.0,1215.0L580.0,1267.0" stroke="#151515" stroke-width="1.1" fill="none"/>
<path d="M580.0,1276.0L577.6,1267.0L582.4,1267.0Z" fill="#151515"/>
<text transform="translate(249.53,1282.70) scale(0.901,1)" font-size="21.43" fill="#151515">52</text>
<path d="M247.0,1275.0L162.0,1275.0" stroke="#151515" stroke-width="1.1" fill="none"/>
<path d="M153.0,1275.0L162.0,1272.6L162.0,1277.4Z" fill="#151515"/>
<text transform="translate(249.53,1332.00) scale(0.956,1)" font-size="20.00" fill="#151515">53</text>
<path d="M246.0,1325.0L238.0,1325.0" stroke="#151515" stroke-width="1.1" fill="none"/>
<path d="M238.0,1325.0L235.0,1319.9" stroke="#151515" stroke-width="1.1" fill="none"/>
<path d="M231.0,1313.0L237.0,1318.8L233.0,1321.1Z" fill="#151515"/>
<text transform="translate(249.56,1377.50) scale(0.896,1)" font-size="20.71" fill="#151515">50</text>
<path d="M247.0,1370.0L166.0,1370.0" stroke="#151515" stroke-width="1.1" fill="none"/>
<path d="M157.0,1370.0L166.0,1367.6L166.0,1372.4Z" fill="#151515"/>
<text transform="translate(250.69,1402.30) scale(0.835,1)" font-size="21.16" fill="#151515">51</text>
<path d="M247.0,1395.0L165.0,1395.0" stroke="#151515" stroke-width="1.1" fill="none"/>
<path d="M156.0,1395.0L165.0,1392.6L165.0,1397.4Z" fill="#151515"/>
<text transform="translate(249.53,1436.80) scale(0.966,1)" font-size="20.00" fill="#151515">57</text>
<path d="M247.0,1430.0L179.0,1430.0" stroke="#151515" stroke-width="1.1" fill="none"/>
<path d="M170.0,1430.0L179.0,1427.6L179.0,1432.4Z" fill="#151515"/>
<text transform="translate(211.26,1595.00) scale(0.861,1)" font-size="21.43" fill="#151515">58</text>
<path d="M235.0,1588.0L256.0,1588.0" stroke="#151515" stroke-width="1.1" fill="none"/>
<path d="M265.0,1588.0L256.0,1590.4L256.0,1585.6Z" fill="#151515"/>
<text transform="translate(301.03,1422.50) scale(0.873,1)" font-size="22.03" fill="#151515">54</text>
<path d="M325.0,1417.0L334.6,1421.0" stroke="#151515" stroke-width="1.1" fill="none"/>
<path d="M342.0,1424.0L333.7,1423.1L335.5,1418.8Z" fill="#151515"/>
<text transform="translate(291.75,1502.50) scale(0.871,1)" font-size="21.71" fill="#151515">28</text>
<path d="M302.0,1484.0L302.0,1459.0" stroke="#151515" stroke-width="1.1" fill="none"/>
<path d="M302.0,1450.0L304.4,1459.0L299.6,1459.0Z" fill="#151515"/>
<text transform="translate(316.51,1502.50) scale(0.912,1)" font-size="21.71" fill="#151515">27</text>
<path d="M327.0,1484.0L327.0,1470.0" stroke="#151515" stroke-width="1.1" fill="none"/>
<path d="M327.0,1461.0L329.4,1470.0L324.6,1470.0Z" fill="#151515"/>
<text transform="translate(630.22,1538.50) scale(0.899,1)" font-size="21.59" fill="#151515">55</text>
<path d="M627.0,1527.0L605.3,1517.6" stroke="#151515" stroke-width="1.1" fill="none"/>
<path d="M597.0,1514.0L606.2,1515.4L604.3,1519.8Z" fill="#151515"/>
<text transform="translate(573.56,1616.50) scale(0.896,1)" font-size="21.00" fill="#151515">27</text>
<path d="M584.0,1598.0L584.0,1571.0" stroke="#151515" stroke-width="1.1" fill="none"/>
<path d="M584.0,1562.0L586.4,1571.0L581.6,1571.0Z" fill="#151515"/>
<text transform="translate(605.76,1616.50) scale(0.878,1)" font-size="21.00" fill="#151515">56</text>
<path d="M616.0,1598.0L616.0,1576.0" stroke="#151515" stroke-width="1.1" fill="none"/>
<path d="M616.0,1567.0L618.4,1576.0L613.6,1576.0Z" fill="#151515"/>
<use href="#f39" transform="translate(120.4,1759) scale(0.9,0.95)"/>
<use href="#seal" x="175" y="1758.5"/>
<use href="#b45" transform="translate(229.4,1759) scale(0.89,0.92)"/>
<use href="#ring" transform="translate(287.9,1759) scale(0.9,0.85)"/>
<use href="#ring" transform="translate(319.3,1759) scale(0.9,0.85)"/>
<use href="#seal" x="328.5" y="1758.5"/>
<use href="#ring" transform="translate(372.4,1759) scale(0.9,0.85)"/>
<circle cx="396.3" cy="1758.6" r="10.8" fill="#0a0a0a"/>
<text transform="translate(390.78,1765.10) scale(0.873,1)" font-size="18.84" fill="#fff">P</text>
<use href="#f39" transform="translate(120.4,1822.7) scale(0.9,0.95)"/>
<use href="#seal" x="175" y="1822.2"/>
<use href="#b45" transform="translate(229.4,1822.7) scale(0.89,0.92)"/>
<use href="#ring" transform="translate(287.9,1822.7) scale(0.9,0.85)"/>
<use href="#ring" transform="translate(319.3,1822.7) scale(0.9,0.85)"/>
<use href="#seal" x="328.5" y="1822.2"/>
<use href="#ring" transform="translate(372.4,1822.7) scale(0.9,0.85)"/>
<circle cx="396.3" cy="1822.7" r="10.8" fill="#0a0a0a"/>
<text transform="translate(391.79,1829.20) scale(0.819,1)" font-size="18.84" fill="#fff">T</text>
<use href="#ring" transform="translate(126.5,1914.3) scale(0.9,1.0)"/>
<use href="#seal" x="131.5" y="1913.8"/>
<use href="#ring" transform="translate(173.5,1914.3) scale(0.9,1.0)"/>
<use href="#b33" transform="translate(181.6,1914.3) scale(0.89,1.0)"/>
<use href="#ring" transform="translate(126.5,1982) scale(0.9,1.0)"/>
<use href="#seal" x="131.5" y="1981.5"/>
<use href="#ring" transform="translate(173.5,1982) scale(0.9,1.0)"/>
<use href="#b33" transform="translate(181.6,1982) scale(0.89,1.0)"/>
<circle cx="259.3" cy="1914" r="10.6" fill="#0a0a0a"/>
<text transform="translate(250.80,1919.50) scale(0.787,1)" font-size="15.94" fill="#fff">Ra</text>
<circle cx="259.3" cy="1981" r="10.6" fill="#0a0a0a"/>
<text transform="translate(250.76,1986.50) scale(0.856,1)" font-size="15.17" fill="#fff">Rb</text>
<text transform="translate(277.02,1918.26) scale(0.942,1)" font-size="12.09" fill="#151515">(Top part)</text>
<text transform="translate(277.02,1985.26) scale(0.942,1)" font-size="12.09" fill="#151515">(Top part)</text>
<text transform="translate(188.92,1664.50) scale(0.871,1)" font-size="19.86" fill="#151515">RELATED SPARE PARTS</text>
<text transform="translate(197.38,1687.00) scale(0.908,1)" font-size="20.14" fill="#151515">Option “With terminals”</text>
<text transform="translate(241.87,1708.20) scale(0.973,1)" font-size="9.71" fill="#151515">QTY:2</text>
<text transform="translate(107.97,1862.80) scale(0.992,1)" font-size="9.71" fill="#151515">QTY:4</text>
<text transform="translate(133.78,1728.60) scale(0.929,1)" font-size="19.43" fill="#151515">39</text>
<text transform="translate(182.64,1728.60) scale(0.927,1)" font-size="19.43" fill="#151515">40</text>
<text transform="translate(248.62,1728.60) scale(0.952,1)" font-size="19.71" fill="#151515">45</text>
<text transform="translate(280.97,1728.60) scale(0.845,1)" font-size="19.71" fill="#151515">41</text>
<text transform="translate(311.46,1728.60) scale(0.859,1)" font-size="19.71" fill="#151515">41</text>
<text transform="translate(335.35,1728.60) scale(0.973,1)" font-size="19.43" fill="#151515">62</text>
<text transform="translate(365.48,1728.60) scale(0.821,1)" font-size="19.71" fill="#151515">41</text>
<text transform="translate(133.78,1792.70) scale(0.922,1)" font-size="19.57" fill="#151515">39</text>
<text transform="translate(182.64,1792.70) scale(0.920,1)" font-size="19.57" fill="#151515">40</text>
<text transform="translate(248.62,1792.70) scale(0.945,1)" font-size="19.86" fill="#151515">45</text>
<text transform="translate(280.97,1792.70) scale(0.839,1)" font-size="19.86" fill="#151515">41</text>
<text transform="translate(311.46,1792.70) scale(0.853,1)" font-size="19.86" fill="#151515">41</text>
<text transform="translate(335.91,1792.70) scale(0.974,1)" font-size="19.86" fill="#151515">44</text>
<text transform="translate(365.48,1792.70) scale(0.815,1)" font-size="19.86" fill="#151515">41</text>
<text transform="translate(118.72,1882.50) scale(0.856,1)" font-size="19.71" fill="#151515">31</text>
<text transform="translate(141.25,1882.50) scale(0.945,1)" font-size="19.71" fill="#151515">32</text>
<text transform="translate(165.32,1882.50) scale(0.861,1)" font-size="19.71" fill="#151515">31</text>
<text transform="translate(197.43,1882.50) scale(0.975,1)" font-size="19.71" fill="#151515">33</text>
<text transform="translate(118.72,1950.00) scale(0.844,1)" font-size="20.00" fill="#151515">31</text>
<text transform="translate(141.25,1950.00) scale(0.931,1)" font-size="20.00" fill="#151515">32</text>
<text transform="translate(165.32,1950.00) scale(0.849,1)" font-size="20.00" fill="#151515">31</text>
<text transform="translate(197.43,1950.00) scale(0.961,1)" font-size="20.00" fill="#151515">33</text>
<text transform="translate(58.96,1761.80) scale(0.870,1)" font-size="17.83" fill="#151515">P</text>
<text transform="translate(68.88,1761.80) scale(0.964,1)" font-size="11.48" fill="#151515">ressure</text>
<text transform="translate(60.23,1829.80) scale(0.734,1)" font-size="18.41" fill="#151515">T</text>
<text transform="translate(69.61,1829.80) scale(0.930,1)" font-size="10.48" fill="#151515">ank</text>
<text transform="translate(58.61,1919.00) scale(0.923,1)" font-size="14.78" fill="#151515">Motor A</text>
<text transform="translate(58.62,1988.20) scale(0.892,1)" font-size="15.07" fill="#151515">Motor B</text>
<path d="M144.0,1732.0L144.0,1741.0" stroke="#151515" stroke-width="1.1" fill="none"/>
<path d="M144.0,1750.0L141.6,1741.0L146.4,1741.0Z" fill="#151515"/>
<path d="M192.6,1732.0L192.6,1743.0" stroke="#151515" stroke-width="1.1" fill="none"/>
<path d="M192.6,1752.0L190.2,1743.0L195.0,1743.0Z" fill="#151515"/>
<path d="M258.6,1732.0L258.6,1741.5" stroke="#151515" stroke-width="1.1" fill="none"/>
<path d="M258.6,1750.5L256.2,1741.5L261.0,1741.5Z" fill="#151515"/>
<path d="M288.6,1732.0L288.6,1740.5" stroke="#151515" stroke-width="1.1" fill="none"/>
<path d="M288.6,1749.5L286.2,1740.5L291.0,1740.5Z" fill="#151515"/>
<path d="M320.0,1732.0L320.0,1740.5" stroke="#151515" stroke-width="1.1" fill="none"/>
<path d="M320.0,1749.5L317.6,1740.5L322.4,1740.5Z" fill="#151515"/>
<path d="M346.7,1732.0L346.7,1742.5" stroke="#151515" stroke-width="1.1" fill="none"/>
<path d="M346.7,1751.5L344.3,1742.5L349.1,1742.5Z" fill="#151515"/>
<path d="M373.2,1732.0L373.2,1740.5" stroke="#151515" stroke-width="1.1" fill="none"/>
<path d="M373.2,1749.5L370.8,1740.5L375.6,1740.5Z" fill="#151515"/>
<path d="M144.0,1796.0L144.0,1805.0" stroke="#151515" stroke-width="1.1" fill="none"/>
<path d="M144.0,1814.0L141.6,1805.0L146.4,1805.0Z" fill="#151515"/>
<path d="M192.6,1796.0L192.6,1806.5" stroke="#151515" stroke-width="1.1" fill="none"/>
<path d="M192.6,1815.5L190.2,1806.5L195.0,1806.5Z" fill="#151515"/>
<path d="M258.6,1796.0L258.6,1805.0" stroke="#151515" stroke-width="1.1" fill="none"/>
<path d="M258.6,1814.0L256.2,1805.0L261.0,1805.0Z" fill="#151515"/>
<path d="M288.6,1796.0L288.6,1804.5" stroke="#151515" stroke-width="1.1" fill="none"/>
<path d="M288.6,1813.5L286.2,1804.5L291.0,1804.5Z" fill="#151515"/>
<path d="M320.0,1796.0L320.0,1804.5" stroke="#151515" stroke-width="1.1" fill="none"/>
<path d="M320.0,1813.5L317.6,1804.5L322.4,1804.5Z" fill="#151515"/>
<path d="M346.7,1796.0L346.7,1806.0" stroke="#151515" stroke-width="1.1" fill="none"/>
<path d="M346.7,1815.0L344.3,1806.0L349.1,1806.0Z" fill="#151515"/>
<path d="M373.2,1796.0L373.2,1804.5" stroke="#151515" stroke-width="1.1" fill="none"/>
<path d="M373.2,1813.5L370.8,1804.5L375.6,1804.5Z" fill="#151515"/>
<path d="M127.4,1886.0L127.4,1894.0" stroke="#151515" stroke-width="1.1" fill="none"/>
<path d="M127.4,1903.0L125.0,1894.0L129.8,1894.0Z" fill="#151515"/>
<path d="M127.4,1953.5L127.4,1961.7" stroke="#151515" stroke-width="1.1" fill="none"/>
<path d="M127.4,1970.7L125.0,1961.7L129.8,1961.7Z" fill="#151515"/>
<path d="M150.5,1886.0L150.5,1897.5" stroke="#151515" stroke-width="1.1" fill="none"/>
<path d="M150.5,1906.5L148.1,1897.5L152.9,1897.5Z" fill="#151515"/>
<path d="M150.5,1953.5L150.5,1965.2" stroke="#151515" stroke-width="1.1" fill="none"/>
<path d="M150.5,1974.2L148.1,1965.2L152.9,1965.2Z" fill="#151515"/>
<path d="M174.0,1886.0L174.0,1894.0" stroke="#151515" stroke-width="1.1" fill="none"/>
<path d="M174.0,1903.0L171.6,1894.0L176.4,1894.0Z" fill="#151515"/>
<path d="M174.0,1953.5L174.0,1961.7" stroke="#151515" stroke-width="1.1" fill="none"/>
<path d="M174.0,1970.7L171.6,1961.7L176.4,1961.7Z" fill="#151515"/>
<path d="M207.5,1886.0L207.5,1895.0" stroke="#151515" stroke-width="1.1" fill="none"/>
<path d="M207.5,1904.0L205.1,1895.0L209.9,1895.0Z" fill="#151515"/>
<path d="M207.5,1953.5L207.5,1962.7" stroke="#151515" stroke-width="1.1" fill="none"/>
<path d="M207.5,1971.7L205.1,1962.7L209.9,1962.7Z" fill="#151515"/>
<g transform="translate(-38,1201.7)">
<path d="M1001.8,727.3V752M1016.4,727.3V752" stroke="#151515" stroke-width="1.25" fill="none" stroke-dasharray="9,3" stroke-linejoin="round"/>
<ellipse cx="1008.6" cy="767.6" rx="19.7" ry="20.5" stroke="#151515" stroke-width="1.25" fill="#fff" stroke-dasharray="9,3" stroke-linejoin="round"/>
<ellipse cx="1010" cy="767.6" rx="13" ry="14" stroke="#151515" stroke-width="1.15" fill="none" stroke-linejoin="round"/>
<ellipse cx="1011" cy="767.6" rx="9.5" ry="11" stroke="#151515" stroke-width="1.8" fill="none"/>
<ellipse cx="1012" cy="767.6" rx="6" ry="8" stroke="#151515" stroke-width="1.15" fill="none" stroke-linejoin="round"/>
</g>
<g transform="translate(-42,1189)">
<path d="M994,725Q1015,735 1037,725M995,731Q1015,741 1037,731M996,738Q1016,747 1036,738" stroke="#151515" stroke-width="1.25" fill="none" stroke-dasharray="9,3" stroke-linejoin="round"/>
<path d="M993,700V725M1036.7,705V726" stroke="#151515" stroke-width="1.25" fill="none" stroke-dasharray="9,3" stroke-linejoin="round"/>
<path d="M1036,560V666M1040.4,669Q1046,687 1040.4,705M1036,666Q1042,668 1040.4,669M1040.4,705L1036.7,708" stroke="#151515" stroke-width="1.25" fill="none" stroke-dasharray="9,3" stroke-linejoin="round"/>
<path d="M1040,685q8,1 7,9q-1,6 -7,6" stroke="#151515" stroke-width="1.25" fill="none" stroke-dasharray="9,3" stroke-linejoin="round"/>
<path d="M993,682L1025,676L1025,690L993,696" stroke="#151515" stroke-width="1.25" fill="none" stroke-dasharray="9,3" stroke-linejoin="round"/>
<path d="M1000,672Q1015,678 1036,668" stroke="#151515" stroke-width="1.25" fill="none" stroke-dasharray="9,3" stroke-linejoin="round"/>
<path d="M906,704C905,690 915,676 932,672" stroke="#151515" stroke-width="1.25" fill="none" stroke-dasharray="9,3" stroke-linejoin="round"/>
<path d="M914,728L930,722L932,735L918,742" stroke="#151515" stroke-width="1.25" fill="none" stroke-dasharray="9,3" stroke-linejoin="round"/>
<path d="M1023,477L1063,492L1063,512L1023,497Z" stroke="#151515" stroke-width="1.2" fill="#fff" stroke-linejoin="round"/>
<path d="M960,516L983,519L995.6,508L1004.5,503L1011,499M1011,504.4L1054,522M1011,530L1039,524.7L1061,523.5L1060.5,532.4L1049,536L1041.5,541L1031,542.5L1016,547.6L999.5,552.7" stroke="#151515" stroke-width="1.25" fill="none" stroke-dasharray="9,3" stroke-linejoin="round"/>
<path d="M1012,505L1050,520M1012,507L1050,522" stroke="#151515" stroke-width="1.15" fill="none" stroke-linejoin="round"/>
<circle cx="1019.8" cy="502.5" r="2.8" stroke="#151515" stroke-width="1.2" fill="#fff" stroke-linejoin="round"/>
<circle cx="1047.8" cy="513.3" r="2.8" stroke="#151515" stroke-width="1.2" fill="#fff" stroke-linejoin="round"/>
<ellipse cx="1063" cy="517" rx="3" ry="4.5" stroke="#151515" stroke-width="1.2" fill="#fff" stroke-linejoin="round"/>
<path d="M1040,541L1036.4,620L1036,660" stroke="#151515" stroke-width="1.25" fill="none" stroke-dasharray="9,3" stroke-linejoin="round"/>
<path d="M998,594L1006,592L1007,587L1016,585L1018,590L1029,594L1030,632L1019,637L1008,641L998,645" stroke="#151515" stroke-width="1.25" fill="none" stroke-dasharray="9,3" stroke-linejoin="round"/>
<path d="M1006,588h9v14l-4,2v10l-5,1z" stroke="#151515" stroke-width="1.15" fill="none" stroke-linejoin="round"/>
<circle cx="1010.5" cy="592.5" r="2.6" stroke="#151515" stroke-width="1.15" fill="none" stroke-linejoin="round"/>
<circle cx="1010.5" cy="592.5" r="1" stroke="#151515" stroke-width="1.15" fill="none" stroke-linejoin="round"/>
<path d="M1018,592h10v12l-3,1v8l-4,1" stroke="#151515" stroke-width="1.15" fill="none" stroke-linejoin="round"/>
<path d="M999,620l8,-2v14l4,-1v10l-12,3z" stroke="#151515" stroke-width="1.15" fill="none" stroke-linejoin="round"/>
<circle cx="1003.5" cy="639" r="2.8" stroke="#151515" stroke-width="1.15" fill="none" stroke-linejoin="round"/>
<circle cx="1003.5" cy="639" r="1.1" stroke="#151515" stroke-width="1.15" fill="none" stroke-linejoin="round"/>
<text x="1012" y="603" font-size="6" fill="#151515" font-weight="bold">7B</text>
<text x="1023" y="598" font-size="6" fill="#151515" font-weight="bold">7B</text>
<text x="1024" y="607" font-size="6" fill="#151515" font-weight="bold">7B</text>
<text x="1010" y="626" font-size="6" fill="#151515" font-weight="bold">7B</text>
<path d="M997,560q3,4 1,8q-2,4 1,8M997,600q3,4 0,8" stroke="#151515" stroke-width="1.15" fill="none" stroke-linejoin="round"/>
<path d="M1009,570l4,-1l2,2" stroke="#151515" stroke-width="1.15" fill="none" stroke-linejoin="round"/>
<path d="M937,530L960,523L997,536.8L974,544.5Z" stroke="#151515" stroke-width="1.2" fill="#fff" stroke-linejoin="round"/>
<path d="M974,544.5L997,536.8L991.6,704L966.9,711.3Z" stroke="#151515" stroke-width="1.2" fill="#fff" stroke-linejoin="round"/>
<path d="M937,530L974,544.5L966.9,711.3L929.8,690.2L931.3,654.5L932,640L935,638L935,561L946,557L937,551Z" stroke="#151515" stroke-width="1.2" fill="#fff" stroke-linejoin="round"/>
<ellipse cx="962" cy="528" rx="1.6" ry="0.8" stroke="#151515" stroke-width="1.15" fill="none" stroke-linejoin="round"/>
<ellipse cx="970" cy="531" rx="1.6" ry="0.8" stroke="#151515" stroke-width="1.15" fill="none" stroke-linejoin="round"/>
<ellipse cx="978" cy="533" rx="1.6" ry="0.8" stroke="#151515" stroke-width="1.15" fill="none" stroke-linejoin="round"/>
<ellipse cx="985" cy="535" rx="1.6" ry="0.8" stroke="#151515" stroke-width="1.15" fill="none" stroke-linejoin="round"/>
<circle cx="949" cy="549" r="5" stroke="#151515" stroke-width="1.2" fill="#fff" stroke-linejoin="round"/>
<circle cx="949" cy="549" r="2.8" stroke="#151515" stroke-width="1.15" fill="none" stroke-linejoin="round"/>
<circle cx="961" cy="552" r="5" stroke="#151515" stroke-width="1.2" fill="#fff" stroke-linejoin="round"/>
<circle cx="961" cy="552" r="2.8" stroke="#151515" stroke-width="1.15" fill="none" stroke-linejoin="round"/>
<circle cx="940" cy="539" r="3.2" stroke="#151515" stroke-width="1.2" fill="#fff" stroke-linejoin="round"/>
<circle cx="940" cy="539" r="1.4" stroke="#151515" stroke-width="1.15" fill="none" stroke-linejoin="round"/>
<circle cx="971" cy="550" r="3.2" stroke="#151515" stroke-width="1.2" fill="#fff" stroke-linejoin="round"/>
<circle cx="971" cy="550" r="1.4" stroke="#151515" stroke-width="1.15" fill="none" stroke-linejoin="round"/>
<circle cx="985" cy="556" r="1.3" fill="#151515"/>
<circle cx="983" cy="600" r="1.3" fill="#151515"/>
<circle cx="979" cy="640" r="1.3" fill="#151515"/>
<circle cx="973" cy="690" r="1.3" fill="#151515"/>
<circle cx="962" cy="620" r="1.3" stroke="#151515" stroke-width="1.15" fill="none" stroke-linejoin="round"/>
<circle cx="950" cy="680" r="1.3" stroke="#151515" stroke-width="1.15" fill="none" stroke-linejoin="round"/>
<circle cx="988" cy="578" r="1.3" stroke="#151515" stroke-width="1.15" fill="none" stroke-linejoin="round"/>
<circle cx="933.5" cy="693" r="3.5" stroke="#151515" stroke-width="1.2" fill="#fff" stroke-linejoin="round"/>
<circle cx="933.5" cy="693" r="1.5" stroke="#151515" stroke-width="1.15" fill="none" stroke-linejoin="round"/>
<circle cx="963.3" cy="704" r="3.5" stroke="#151515" stroke-width="1.2" fill="#fff" stroke-linejoin="round"/>
<circle cx="963.3" cy="704" r="1.5" stroke="#151515" stroke-width="1.15" fill="none" stroke-linejoin="round"/>
</g>
<g transform="translate(-41.5,1191)">
<path d="M802.5,732L808,728L822,727L830,722L840,724L846,720L870,716L905,716L935,712L955,722L968,725L978,730L980.7,744.7L970,747L960,746L950,750L935,752L919.6,762.5L880,760L855,757L840,753L825.4,749.8L812,744L803,737Z" stroke="#151515" stroke-width="1.25" fill="#fff" stroke-dasharray="9,3" stroke-linejoin="round"/>
<path d="M825.4,753L840,756L880,763.5L919.6,765.5L950,753" stroke="#151515" stroke-width="1.25" fill="none" stroke-dasharray="9,3" stroke-linejoin="round"/>
<ellipse cx="812" cy="733" rx="3" ry="1.4" stroke="#151515" stroke-width="1.15" fill="none" stroke-linejoin="round"/>
<ellipse cx="948" cy="744" rx="3.5" ry="1.5" stroke="#151515" stroke-width="1.15" fill="none" stroke-linejoin="round"/>
<path d="M858.5,758.7V813.4M920.9,758.7V813.4" stroke="#151515" stroke-width="1.25" fill="none" stroke-dasharray="9,3" stroke-linejoin="round"/>
<path d="M858.5,790Q889,806 920.9,790" stroke="#151515" stroke-width="2" fill="none"/>
<path d="M858.5,808Q866,815 875,816L885,817L888,813V818Q905,818 920.9,811" stroke="#151515" stroke-width="1.15" fill="none" stroke-linejoin="round"/>
<path d="M864,799V813M867,799V814M871,800V814" stroke="#151515" stroke-width="1.15" fill="none" stroke-linejoin="round"/>
<path d="M849.6,692.5L873.8,685L903,695L878.9,702.7Z" stroke="#151515" stroke-width="1.2" fill="#fff" stroke-linejoin="round"/>
<path d="M849.6,692.5L878.9,702.7L878.9,749.8L849.6,742Z" stroke="#151515" stroke-width="1.2" fill="#fff" stroke-linejoin="round"/>
<path d="M878.9,702.7L903,695L903,739.6L878.9,749.8Z" stroke="#151515" stroke-width="1.2" fill="#fff" stroke-linejoin="round"/>
<ellipse cx="882" cy="692.5" rx="4.5" ry="2.2" stroke="#151515" stroke-width="1.15" fill="none" stroke-linejoin="round"/>
<circle cx="856" cy="692" r="0.9" stroke="#151515" stroke-width="1.15" fill="none" stroke-linejoin="round"/>
<circle cx="873" cy="687" r="0.9" stroke="#151515" stroke-width="1.15" fill="none" stroke-linejoin="round"/>
<circle cx="897" cy="695" r="0.9" stroke="#151515" stroke-width="1.15" fill="none" stroke-linejoin="round"/>
<circle cx="878" cy="700" r="0.9" stroke="#151515" stroke-width="1.15" fill="none" stroke-linejoin="round"/>
<circle cx="864" cy="707" r="0.9" fill="#151515"/>
<circle cx="874" cy="726" r="0.9" fill="#151515"/>
<g transform="translate(845,731) rotate(-25)" stroke="#151515" fill="#fff" stroke-width="1"><path d="M0,-6.5h8v13h-8z"/><path d="M8,-7.5h7v15h-7z"/><path d="M3,-6.5v13M5.5,-6.5v13M10,-7.5v15M12.5,-7.5v15" stroke-width="1.1"/><ellipse cx="15" cy="0" rx="2.5" ry="7.5"/><ellipse cx="0" cy="0" rx="3.8" ry="6.5"/><circle cx="0" cy="0" r="2.3" fill="none" stroke-width="1.2"/></g>
<g transform="translate(862,746.5) rotate(-25)" stroke="#151515" fill="#fff" stroke-width="1"><path d="M0,-6.5h8v13h-8z"/><path d="M8,-7.5h7v15h-7z"/><path d="M3,-6.5v13M5.5,-6.5v13M10,-7.5v15M12.5,-7.5v15" stroke-width="1.1"/><ellipse cx="15" cy="0" rx="2.5" ry="7.5"/><ellipse cx="0" cy="0" rx="3.8" ry="6.5"/><circle cx="0" cy="0" r="2.3" fill="none" stroke-width="1.2"/></g>
<ellipse cx="908" cy="698" rx="4" ry="10" stroke="#151515" stroke-width="3" fill="#fff" stroke-dasharray="1,1.2"/>
<ellipse cx="908" cy="698" rx="2.5" ry="8" stroke="#151515" stroke-width="0.8" fill="none"/>
<path d="M945,722L960,720L962,735L945,739Z" stroke="#151515" stroke-width="1.25" fill="none" stroke-dasharray="9,3" stroke-linejoin="round"/>
<path d="M887.8,719L915.8,711.6L945,718L910.7,725.6Z" stroke="#151515" stroke-width="1.2" fill="#fff" stroke-linejoin="round"/>
<path d="M887.8,719L910.7,725.6L910.7,751L887.8,742Z" stroke="#151515" stroke-width="1.2" fill="#fff" stroke-linejoin="round"/>
<path d="M910.7,725.6L945,718L945,739.6L910.7,751Z" stroke="#151515" stroke-width="1.2" fill="#fff" stroke-linejoin="round"/>
<rect x="904" y="714.5" width="10" height="5" fill="#151515" transform="rotate(-12 909 717)"/>
<circle cx="921" cy="731" r="1.8" stroke="#151515" stroke-width="1.2" fill="#fff" stroke-linejoin="round"/>
<circle cx="929" cy="729" r="1.8" stroke="#151515" stroke-width="1.2" fill="#fff" stroke-linejoin="round"/>
<circle cx="925" cy="738" r="1.8" stroke="#151515" stroke-width="1.2" fill="#fff" stroke-linejoin="round"/>
<circle cx="921" cy="745" r="1.8" stroke="#151515" stroke-width="1.2" fill="#fff" stroke-linejoin="round"/>
<circle cx="929" cy="743" r="1.8" stroke="#151515" stroke-width="1.2" fill="#fff" stroke-linejoin="round"/>
<circle cx="890.5" cy="731" r="0.9" stroke="#151515" stroke-width="1.15" fill="none" stroke-linejoin="round"/>
<circle cx="890.5" cy="734" r="0.9" stroke="#151515" stroke-width="1.15" fill="none" stroke-linejoin="round"/>
<circle cx="890.5" cy="737" r="0.9" stroke="#151515" stroke-width="1.15" fill="none" stroke-linejoin="round"/>
<circle cx="898" cy="739" r="0.9" fill="#151515"/>
<path d="M836,730l-3,-7l8,-2" stroke="#151515" stroke-width="1.25" fill="none" stroke-dasharray="9,3" stroke-linejoin="round"/>
</g>
<g transform="translate(-41.7,1190.7)">
<path d="M800,756l11,-2.5v10l-9,2.5z" stroke="#151515" stroke-width="1.2" fill="#fff" stroke-linejoin="round"/>
<path d="M735,760.3L786,745.5A8,19 -20 0 1 803,781.5L731.8,805.3Q718,808 713,790Q710,772 735,760.3Z" stroke="#151515" stroke-width="1.2" fill="#fff" stroke-linejoin="round"/>
<path d="M781,747A8,19 -20 0 1 797,783.5" stroke="#151515" stroke-width="1.15" fill="none" stroke-linejoin="round"/>
<path d="M772,749Q787,764 786,786M760,753Q775,768 774,790" stroke="#151515" stroke-width="1.15" fill="none" stroke-linejoin="round"/>
<path d="M748,757L763,793.8" stroke="#151515" stroke-width="1.15" fill="none" stroke-linejoin="round"/>
<ellipse cx="743.3" cy="766.8" rx="7" ry="8.6" stroke="#151515" stroke-width="1.2" fill="#fff" stroke-linejoin="round" transform="rotate(-15 743.3 766.8)"/>
<ellipse cx="743.8" cy="766.8" rx="4" ry="5" stroke="#151515" stroke-width="1.15" fill="none" stroke-linejoin="round" transform="rotate(-15 743.8 766.8)"/>
<ellipse cx="751.5" cy="788" rx="7" ry="8.6" stroke="#151515" stroke-width="1.2" fill="#fff" stroke-linejoin="round" transform="rotate(-15 751.5 788)"/>
<ellipse cx="752" cy="788" rx="4" ry="5" stroke="#151515" stroke-width="1.15" fill="none" stroke-linejoin="round" transform="rotate(-15 752 788)"/>
</g>
<circle cx="899" cy="1772" r="5.6" stroke="#151515" stroke-width="1.3" fill="#fff"/><circle cx="899" cy="1772" r="3.4" stroke="#151515" stroke-width="0.9" fill="none"/><path d="M897.5,1770.5h3v3h-3z" stroke="#151515" stroke-width="0.7" fill="none"/>
<circle cx="924" cy="1790" r="5.6" stroke="#151515" stroke-width="1.3" fill="#fff"/><circle cx="924" cy="1790" r="3.4" stroke="#151515" stroke-width="0.9" fill="none"/><path d="M922.5,1788.5h3v3h-3z" stroke="#151515" stroke-width="0.7" fill="none"/>
<path d="M966,1691L1018,1709L1021,1705L971,1688Z" stroke="#151515" stroke-width="1" fill="#fff"/>
<circle cx="979" cy="1691" r="3" stroke="#151515" stroke-width="1" fill="#fff"/><path d="M976,1691h6" stroke="#151515" stroke-width="0.8"/>
<circle cx="1004" cy="1701.5" r="3" stroke="#151515" stroke-width="1" fill="#fff"/><path d="M1001,1701.5h6" stroke="#151515" stroke-width="0.8"/>
<path d="M907.0,1677.0L907.0,1727.0" stroke="#ecd92a" stroke-width="1.3" fill="none"/>
<path d="M907.0,1734.0L904.4,1727.0L909.6,1727.0Z" fill="#ecd92a"/>
<path d="M919.0,1677.0L919.0,1731.0" stroke="#ecd92a" stroke-width="1.3" fill="none"/>
<path d="M919.0,1738.0L916.4,1731.0L921.6,1731.0Z" fill="#ecd92a"/>
<circle cx="902" cy="1666" r="10.4" fill="#0a0a0a"/>
<text transform="translate(897.49,1672.50) scale(0.819,1)" font-size="18.84" fill="#fff">T</text>
<circle cx="925" cy="1666" r="10.4" fill="#0a0a0a"/>
<text transform="translate(919.48,1672.50) scale(0.873,1)" font-size="18.84" fill="#fff">P</text>
<text transform="translate(996.70,1661.00) scale(0.961,1)" font-size="20.71" fill="#151515">63</text>
<path d="M1008.0,1664.0L1008.0,1671.0" stroke="#151515" stroke-width="1.1" fill="none"/>
<path d="M1008.0,1680.0L1005.6,1671.0L1010.4,1671.0Z" fill="#151515"/>
<text transform="translate(1017.06,1754.00) scale(0.936,1)" font-size="20.00" fill="#151515">29</text>
<text transform="translate(1009.57,1769.00) scale(0.949,1)" font-size="10.00" fill="#151515">QTY:2</text>
<path d="M1033.0,1738.0L1033.0,1712.0" stroke="#151515" stroke-width="1.1" fill="none"/>
<path d="M1033.0,1712.0L1028.0,1712.0" stroke="#151515" stroke-width="1.1" fill="none"/>
<path d="M1020.0,1712.0L1028.0,1709.6L1028.0,1714.4Z" fill="#151515"/>
<text transform="translate(852.11,1780.00) scale(0.891,1)" font-size="20.00" fill="#151515">22</text>
<path d="M875.0,1773.0L885.0,1773.0" stroke="#151515" stroke-width="1.1" fill="none"/>
<path d="M893.0,1773.0L885.0,1775.4L885.0,1770.6Z" fill="#151515"/>
<text transform="translate(844.57,1796.00) scale(0.830,1)" font-size="11.43" fill="#151515">QTY:2</text>
<path d="M803.0,1850.0L803.0,1916.0" stroke="#ecd92a" stroke-width="1.3" fill="none"/>
<path d="M803.0,1923.0L800.4,1916.0L805.6,1916.0Z" fill="#ecd92a"/>
<path d="M819.5,1850.0L819.5,1930.0" stroke="#ecd92a" stroke-width="1.3" fill="none"/>
<path d="M819.5,1937.0L816.9,1930.0L822.1,1930.0Z" fill="#ecd92a"/>
<path d="M664.8,1958.0L696.3,1958.0" stroke="#ecd92a" stroke-width="1.3" fill="none"/>
<path d="M703.3,1958.0L696.3,1960.6L696.3,1955.4Z" fill="#ecd92a"/>
<path d="M664.8,1979.7L702.0,1979.7" stroke="#ecd92a" stroke-width="1.3" fill="none"/>
<path d="M709.0,1979.7L702.0,1982.3L702.0,1977.1Z" fill="#ecd92a"/>
<text transform="translate(780.63,1847.90) scale(0.724,1)" font-size="18.41" fill="#151515">T</text>
<text transform="translate(788.91,1847.90) scale(0.967,1)" font-size="10.21" fill="#151515">ank</text>
<text transform="translate(817.89,1847.90) scale(0.823,1)" font-size="18.41" fill="#151515">P</text>
<text transform="translate(826.97,1847.90) scale(0.999,1)" font-size="11.30" fill="#151515">ressure</text>
<text transform="translate(616.23,1963.20) scale(0.942,1)" font-size="14.20" fill="#151515">Motor A</text>
<text transform="translate(616.23,1985.10) scale(0.940,1)" font-size="14.20" fill="#151515">Motor B</text>
<path d="M229.8,2167.8L248.7,2175M273.5,2243.5L272,2253.6" stroke="#ecd92a" stroke-width="1.3" fill="none"/>
<path d="M248.7,2061L272,2052.9L310.7,2068.9L288,2077.6Z" stroke="#151515" stroke-width="1.2" fill="#fff" stroke-linejoin="round"/>
<path d="M288,2077.6L310.7,2068.9L304,2236.2L276.4,2244.3Z" stroke="#151515" stroke-width="1.2" fill="#fff" stroke-linejoin="round"/>
<path d="M248.7,2061L288,2077.6L276.4,2244.3L241.5,2233.3L244.4,2188.2L250.2,2186.7L250.2,2169.3L244.4,2166.4L247.3,2093.6L258,2090L256,2086L248.7,2079Z" stroke="#151515" stroke-width="1.2" fill="#fff" stroke-linejoin="round"/>
<path d="M249,2083Q254,2084 258,2090" stroke="#151515" stroke-width="1.15" fill="none" stroke-linejoin="round"/>
<ellipse cx="270" cy="2060" rx="1.8" ry="1" stroke="#151515" stroke-width="1.15" fill="none" stroke-linejoin="round"/>
<ellipse cx="280" cy="2062" rx="1.8" ry="1" stroke="#151515" stroke-width="1.15" fill="none" stroke-linejoin="round"/>
<ellipse cx="284" cy="2066" rx="1.8" ry="1" stroke="#151515" stroke-width="1.15" fill="none" stroke-linejoin="round"/>
<ellipse cx="293" cy="2066" rx="1.8" ry="1" stroke="#151515" stroke-width="1.15" fill="none" stroke-linejoin="round"/>
<ellipse cx="298" cy="2068" rx="1.8" ry="1" stroke="#151515" stroke-width="1.15" fill="none" stroke-linejoin="round"/>
<circle cx="260.4" cy="2079" r="6.8" stroke="#151515" stroke-width="1.2" fill="#fff" stroke-linejoin="round"/>
<circle cx="260.4" cy="2079" r="4.2" stroke="#151515" stroke-width="1.15" fill="none" stroke-linejoin="round"/>
<circle cx="273.5" cy="2083.5" r="6.8" stroke="#151515" stroke-width="1.2" fill="#fff" stroke-linejoin="round"/>
<circle cx="273.5" cy="2083.5" r="4.2" stroke="#151515" stroke-width="1.15" fill="none" stroke-linejoin="round"/>
<circle cx="252.5" cy="2070.4" r="5" stroke="#151515" stroke-width="1.2" fill="#fff" stroke-linejoin="round"/>
<circle cx="252.5" cy="2070.4" r="3.2" stroke="#151515" stroke-width="1.15" fill="none" stroke-linejoin="round"/>
<circle cx="283.6" cy="2080.5" r="5" stroke="#151515" stroke-width="1.2" fill="#fff" stroke-linejoin="round"/>
<circle cx="283.6" cy="2080.5" r="3.2" stroke="#151515" stroke-width="1.15" fill="none" stroke-linejoin="round"/>
<circle cx="253" cy="2117" r="6.8" stroke="#151515" stroke-width="1.2" fill="#fff" stroke-linejoin="round"/>
<circle cx="253" cy="2117" r="4.2" stroke="#151515" stroke-width="1.15" fill="none" stroke-linejoin="round"/>
<circle cx="277.8" cy="2133" r="6.8" stroke="#151515" stroke-width="1.2" fill="#fff" stroke-linejoin="round"/>
<circle cx="277.8" cy="2133" r="4.2" stroke="#151515" stroke-width="1.15" fill="none" stroke-linejoin="round"/>
<circle cx="245.8" cy="2226" r="5" stroke="#151515" stroke-width="1.2" fill="#fff" stroke-linejoin="round"/>
<circle cx="245.8" cy="2226" r="3" stroke="#151515" stroke-width="1.15" fill="none" stroke-linejoin="round"/>
<circle cx="274.9" cy="2237.6" r="5" stroke="#151515" stroke-width="1.2" fill="#fff" stroke-linejoin="round"/>
<circle cx="274.9" cy="2237.6" r="3" stroke="#151515" stroke-width="1.15" fill="none" stroke-linejoin="round"/>
<circle cx="297.3" cy="2086.4" r="1.6" fill="#151515"/>
<circle cx="294.4" cy="2151.2" r="1.6" fill="#151515"/>
<circle cx="291" cy="2226" r="1.6" fill="#151515"/>
<ellipse cx="304.6" cy="2121.3" rx="1.6" ry="1.9" stroke="#151515" stroke-width="1.15" fill="none" stroke-linejoin="round"/>
<ellipse cx="290" cy="2168.7" rx="1.6" ry="1.9" stroke="#151515" stroke-width="1.15" fill="none" stroke-linejoin="round"/>
<ellipse cx="278.4" cy="2192" rx="1.6" ry="1.9" stroke="#151515" stroke-width="1.15" fill="none" stroke-linejoin="round"/>
<ellipse cx="261.8" cy="2205.6" rx="1.6" ry="1.9" stroke="#151515" stroke-width="1.15" fill="none" stroke-linejoin="round"/>
<text x="260" y="2093" font-size="5" font-weight="bold" fill="#151515">T</text>
<text x="272.5" y="2097.5" font-size="5" font-weight="bold" fill="#151515">P</text>
<text x="252" y="2127" font-size="5" font-weight="bold" fill="#151515">B</text>
<text x="276.5" y="2144" font-size="5" font-weight="bold" fill="#151515">A</text>
<g transform="translate(212,2159) rotate(22)" stroke="#151515" fill="#fff" stroke-width="0.9"><path d="M-20,-7.5h11v15h-11z"/><path d="M-9,-6.5h19a3.5,6.5 0 0 1 0,13h-19z"/><path d="M-17,-7.5v15M-13,-7.5v15M-6,-6.5v13M-3,-6.5v13M0,-6.5v13M3,-6.5v13M6,-6.5v13" stroke-width="1.6"/><ellipse cx="10" cy="0" rx="3.5" ry="6.5"/><ellipse cx="-20" cy="0" rx="2.5" ry="7.5"/></g>
<g transform="translate(272,2276)" stroke="#151515" fill="#fff" stroke-width="0.9"><path d="M-7,-24h14v10h-14z"/><ellipse cx="0" cy="-24" rx="7" ry="2.2"/><path d="M-7,-14h14v12h-14zM-9,-2h18v20h-18z"/><path d="M-7,-20h14M-7,-17h14M-7,-11h14M-7,-7h14M-9,2h18M-9,6h18M-9,12h18" stroke-width="1.8"/><path d="M-9,18a9,3.5 0 0 0 18,0" stroke-dasharray="2,1"/></g>
<path d="M779.6,2157H799V2176H779.6Z" stroke="#151515" stroke-width="1.2" fill="#fff" stroke-linejoin="round"/>
<path d="M779.6,2167H799" stroke="#151515" stroke-width="1.15" fill="none" stroke-linejoin="round"/>
<path d="M799,2150.5L801,2149.4H850L852,2150.5V2182.4H799Z" stroke="#151515" stroke-width="1.2" fill="#fff" stroke-linejoin="round"/>
<path d="M799,2152.5H852" stroke="#151515" stroke-width="1.15" fill="none" stroke-linejoin="round"/>
<path d="M852,2150H889Q894,2150 894,2155V2178Q894,2182 889,2182H852Z" stroke="#151515" stroke-width="1.2" fill="#fff" stroke-linejoin="round"/>
<path d="M893,2154H901V2178H893Z" stroke="#151515" stroke-width="1.2" fill="#fff" stroke-linejoin="round"/>
<path d="M895,2154V2178M897,2154V2178M899,2154V2178" stroke="#151515" stroke-width="1.15" fill="none" stroke-linejoin="round"/>
<ellipse cx="904" cy="2166" rx="4.5" ry="10.5" stroke="#151515" stroke-width="1.2" fill="#fff" stroke-linejoin="round"/>
<ellipse cx="905" cy="2166" rx="2.8" ry="8.5" stroke="#151515" stroke-width="1.15" fill="none" stroke-linejoin="round"/>
<circle cx="824.4" cy="2159.6" r="4" stroke="#151515" stroke-width="1.2" fill="#fff" stroke-linejoin="round"/>
<circle cx="824.4" cy="2159.6" r="1.2" stroke="#151515" stroke-width="1.15" fill="none" stroke-linejoin="round"/>
<circle cx="824.4" cy="2175" r="4" stroke="#151515" stroke-width="1.2" fill="#fff" stroke-linejoin="round"/>
<circle cx="824.4" cy="2175" r="1.2" stroke="#151515" stroke-width="1.15" fill="none" stroke-linejoin="round"/>
<circle cx="818" cy="2167" r="4" stroke="#151515" stroke-width="1.2" fill="#fff" stroke-linejoin="round"/>
<circle cx="818" cy="2167" r="2.2" stroke="#151515" stroke-width="1.15" fill="none" stroke-linejoin="round"/>
<circle cx="831" cy="2167" r="4" stroke="#151515" stroke-width="1.2" fill="#fff" stroke-linejoin="round"/>
<circle cx="831" cy="2167" r="2.2" stroke="#151515" stroke-width="1.15" fill="none" stroke-linejoin="round"/>
<circle cx="814" cy="2157.6" r="2" stroke="#151515" stroke-width="1.2" fill="#fff" stroke-linejoin="round"/>
<circle cx="834.4" cy="2158" r="2" stroke="#151515" stroke-width="1.2" fill="#fff" stroke-linejoin="round"/>
<circle cx="815" cy="2176.6" r="2" stroke="#151515" stroke-width="1.2" fill="#fff" stroke-linejoin="round"/>
<circle cx="834" cy="2176.6" r="2" stroke="#151515" stroke-width="1.2" fill="#fff" stroke-linejoin="round"/>
<circle cx="811" cy="2172" r="0.8" fill="#151515"/>
<text transform="translate(183.32,2043.60) scale(0.865,1)" font-size="20.00" fill="#151515">RELATED SPARE PARTS</text>
<text transform="translate(345.51,2075.60) scale(0.991,1)" font-size="12.55" fill="#151515">Replaced by POS.19</text>
<text transform="translate(346.70,2093.20) scale(0.999,1)" font-size="13.24" fill="#151515">from 2018-05</text>
<text transform="translate(343.92,2124.70) scale(0.901,1)" font-size="20.43" fill="#151515">1033494</text>
<path d="M340.8,2117.4L320.0,2117.4" stroke="#151515" stroke-width="1.1" fill="none"/>
<path d="M311.0,2117.4L320.0,2114.9L320.0,2119.9Z" fill="#151515"/>
<text transform="translate(313.20,2284.20) scale(0.905,1)" font-size="22.00" fill="#151515">65</text>
<path d="M311.0,2276.0L287.0,2276.0" stroke="#151515" stroke-width="1.1" fill="none"/>
<path d="M278.0,2276.0L287.0,2273.5L287.0,2278.5Z" fill="#151515"/>
<text transform="translate(348.95,2269.60) scale(0.919,1)" font-size="11.86" fill="#151515">Valves between current</text>
<text transform="translate(348.55,2282.70) scale(0.931,1)" font-size="12.00" fill="#151515">and replaced block are</text>
<text transform="translate(348.30,2294.52) scale(1.032,1)" font-size="10.37" fill="#151515">not compatible</text>
<text transform="translate(839.68,2086.00) scale(0.974,1)" font-size="13.04" fill="#151515">XP:</text>
<text transform="translate(814.04,2125.60) scale(0.989,1)" font-size="19.43" fill="#151515">67</text>
<path d="M825.0,2129.0L825.0,2148.0" stroke="#151515" stroke-width="1.1" fill="none"/>
<path d="M825.0,2157.0L822.6,2148.0L827.4,2148.0Z" fill="#151515"/>
<text transform="translate(759.77,2218.30) scale(0.792,1)" font-size="20.72" fill="#151515">14</text>
<path d="M782.0,2201.0L804.6,2185.2" stroke="#151515" stroke-width="1.1" fill="none"/>
<path d="M812.0,2180.0L806.1,2187.2L803.2,2183.1Z" fill="#151515"/>
<text transform="translate(832.12,2218.00) scale(0.882,1)" font-size="20.00" fill="#151515">66</text>
<path d="M842.6,2200.0L842.6,2188.0" stroke="#151515" stroke-width="1.1" fill="none"/>
<path d="M842.6,2179.0L845.0,2188.0L840.2,2188.0Z" fill="#151515"/>
<text transform="translate(860.70,2218.00) scale(0.902,1)" font-size="20.00" fill="#151515">68</text>
<path d="M871.0,2200.0L871.0,2185.0" stroke="#151515" stroke-width="1.1" fill="none"/>
<path d="M871.0,2176.0L873.4,2185.0L868.6,2185.0Z" fill="#151515"/>
<text transform="translate(893.06,2218.00) scale(0.936,1)" font-size="20.00" fill="#151515">69</text>
<path d="M903.6,2200.0L903.6,2186.0" stroke="#151515" stroke-width="1.1" fill="none"/>
<path d="M903.6,2177.0L906.0,2186.0L901.2,2186.0Z" fill="#151515"/>
<text transform="translate(749.56,2234.00) scale(0.978,1)" font-size="10.00" fill="#151515">QTY:4</text>
</svg></body></html>
